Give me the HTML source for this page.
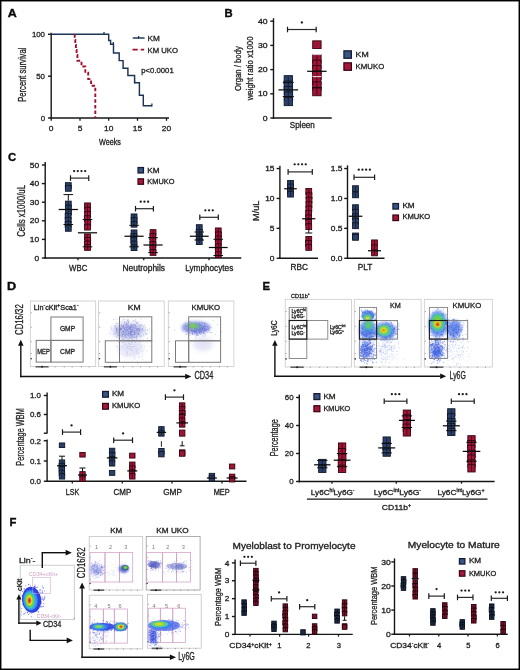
<!DOCTYPE html>
<html><head><meta charset="utf-8"><title>Figure</title>
<style>
html,body{margin:0;padding:0;background:#fff;}
svg{display:block;will-change:transform;}
text{font-family:"Liberation Sans", sans-serif;}
</style></head>
<body>
<svg width="520" height="670" viewBox="0 0 520 670" font-family='"Liberation Sans", sans-serif'>
<rect width="520" height="670" fill="#fff"/>
<defs><filter id="bl0_6" x="-60%" y="-60%" width="220%" height="220%"><feGaussianBlur stdDeviation="0.6"/></filter><filter id="bl0_8" x="-60%" y="-60%" width="220%" height="220%"><feGaussianBlur stdDeviation="0.8"/></filter><filter id="bl1_0" x="-60%" y="-60%" width="220%" height="220%"><feGaussianBlur stdDeviation="1.0"/></filter><filter id="bl1_5" x="-60%" y="-60%" width="220%" height="220%"><feGaussianBlur stdDeviation="1.5"/></filter><filter id="bl2_0" x="-60%" y="-60%" width="220%" height="220%"><feGaussianBlur stdDeviation="2.0"/></filter><filter id="bl2_5" x="-60%" y="-60%" width="220%" height="220%"><feGaussianBlur stdDeviation="2.5"/></filter></defs>
<rect x="0.6" y="0.6" width="518.8" height="668.8" fill="none" stroke="#000" stroke-width="1.7"/>
<text x="7.80" y="16.70" font-size="11.3" font-weight="bold" fill="#0a0a0a" stroke="#0a0a0a" stroke-width="0.35" textLength="9.0" lengthAdjust="spacingAndGlyphs">A</text>
<line x1="51.20" y1="32.80" x2="51.20" y2="118.70" stroke="#161616" stroke-width="1.4" />
<line x1="48.00" y1="34.30" x2="51.20" y2="34.30" stroke="#161616" stroke-width="1.4" />
<text x="45.00" y="37.18" font-size="8" text-anchor="end" fill="#222222" textLength="13.08" lengthAdjust="spacingAndGlyphs" stroke="#222222" stroke-width="0.3" >100</text>
<line x1="48.00" y1="76.20" x2="51.20" y2="76.20" stroke="#161616" stroke-width="1.4" />
<text x="45.00" y="79.08" font-size="8" text-anchor="end" fill="#222222" textLength="8.72" lengthAdjust="spacingAndGlyphs" stroke="#222222" stroke-width="0.3" >50</text>
<line x1="48.00" y1="118.00" x2="51.20" y2="118.00" stroke="#161616" stroke-width="1.4" />
<text x="45.00" y="120.88" font-size="8" text-anchor="end" fill="#222222" textLength="4.36" lengthAdjust="spacingAndGlyphs" stroke="#222222" stroke-width="0.3" >0</text>
<line x1="50.50" y1="118.00" x2="169.00" y2="118.00" stroke="#161616" stroke-width="1.4" />
<line x1="51.20" y1="118.00" x2="51.20" y2="120.80" stroke="#161616" stroke-width="1.26" />
<line x1="80.00" y1="118.00" x2="80.00" y2="120.80" stroke="#161616" stroke-width="1.26" />
<line x1="108.70" y1="118.00" x2="108.70" y2="120.80" stroke="#161616" stroke-width="1.26" />
<line x1="137.50" y1="118.00" x2="137.50" y2="120.80" stroke="#161616" stroke-width="1.26" />
<line x1="166.50" y1="118.00" x2="166.50" y2="120.80" stroke="#161616" stroke-width="1.26" />
<text x="51.20" y="131.20" font-size="8" text-anchor="middle" fill="#222222" textLength="4.67" lengthAdjust="spacingAndGlyphs" stroke="#222222" stroke-width="0.3" >0</text>
<text x="80.00" y="131.20" font-size="8" text-anchor="middle" fill="#222222" textLength="4.67" lengthAdjust="spacingAndGlyphs" stroke="#222222" stroke-width="0.3" >5</text>
<text x="108.70" y="131.20" font-size="8" text-anchor="middle" fill="#222222" textLength="9.34" lengthAdjust="spacingAndGlyphs" stroke="#222222" stroke-width="0.3" >10</text>
<text x="137.50" y="131.20" font-size="8" text-anchor="middle" fill="#222222" textLength="9.34" lengthAdjust="spacingAndGlyphs" stroke="#222222" stroke-width="0.3" >15</text>
<text x="166.50" y="131.20" font-size="8" text-anchor="middle" fill="#222222" textLength="9.34" lengthAdjust="spacingAndGlyphs" stroke="#222222" stroke-width="0.3" >20</text>
<text x="110.00" y="144.50" font-size="8.3" text-anchor="middle" fill="#222222" textLength="21.80" lengthAdjust="spacingAndGlyphs" stroke="#222222" stroke-width="0.3" >Weeks</text>
<text x="25.60" y="74.70" font-size="10.3" text-anchor="middle" fill="#222222" textLength="54.00" lengthAdjust="spacingAndGlyphs" transform="rotate(-90 25.60 74.70)" stroke="#222222" stroke-width="0.3" >Percent survival</text>
<polyline fill="none" stroke="#1d3456" stroke-width="1.45" points="51.2,34.3 108.7,34.3 108.7,40.4 110.6,40.4 110.6,44.2 113.5,44.2 113.5,52.9 119.2,52.9 119.2,60.6 123.1,60.6 123.1,68.3 127.9,68.3 127.9,75.4 134.6,75.4 134.6,82.7 139.4,82.7 139.4,95.2 143.3,95.2 143.3,105.8 151.9,105.8"/>
<line x1="104.00" y1="32.10" x2="104.00" y2="34.90" stroke="#1d3456" stroke-width="1.3" />
<line x1="113.30" y1="42.00" x2="113.30" y2="44.80" stroke="#1d3456" stroke-width="1.3" />
<line x1="134.60" y1="80.50" x2="134.60" y2="83.30" stroke="#1d3456" stroke-width="1.3" />
<line x1="151.90" y1="103.60" x2="151.90" y2="106.40" stroke="#1d3456" stroke-width="1.3" />
<path fill="none" stroke="#a0112f" stroke-width="1.9" stroke-dasharray="3.5,2.2" d="M74.7,34.3 V40 H75.3 V45 H75.9 V50 H76.6 V55 H77.4 V60.8 H81.5 V66.5 H85.3 V72.8 H88.2 V79.1 H91.1 V85.8 H95.3 V118"/>
<line x1="132.70" y1="38.00" x2="144.60" y2="38.00" stroke="#1d3456" stroke-width="1.45" />
<line x1="138.60" y1="36.00" x2="138.60" y2="38.60" stroke="#1d3456" stroke-width="1.3" />
<text x="147.50" y="40.90" font-size="7.8" text-anchor="start" fill="#222222" textLength="12.29" lengthAdjust="spacingAndGlyphs" stroke="#222222" stroke-width="0.3" >KM</text>
<line x1="132.50" y1="49.70" x2="144.20" y2="49.70" stroke="#a0112f" stroke-width="1.7" stroke-dasharray="5.2,3"/>
<text x="147.50" y="52.50" font-size="7.8" text-anchor="start" fill="#222222" textLength="30.40" lengthAdjust="spacingAndGlyphs" stroke="#222222" stroke-width="0.3" >KM UKO</text>
<text x="141.30" y="73.00" font-size="7.8" text-anchor="start" fill="#222222" textLength="32.40" lengthAdjust="spacingAndGlyphs" stroke="#222222" stroke-width="0.3" >p&lt;0.0001</text>
<text x="224.50" y="16.70" font-size="11.3" font-weight="bold" fill="#0a0a0a" stroke="#0a0a0a" stroke-width="0.35">B</text>
<line x1="273.50" y1="18.20" x2="273.50" y2="118.70" stroke="#161616" stroke-width="1.4" />
<line x1="270.30" y1="21.20" x2="273.50" y2="21.20" stroke="#161616" stroke-width="1.4" />
<text x="267.60" y="23.79" font-size="7.2" text-anchor="end" fill="#222222" textLength="9.61" lengthAdjust="spacingAndGlyphs" stroke="#222222" stroke-width="0.3" >40</text>
<line x1="270.30" y1="45.40" x2="273.50" y2="45.40" stroke="#161616" stroke-width="1.4" />
<text x="267.60" y="47.99" font-size="7.2" text-anchor="end" fill="#222222" textLength="9.61" lengthAdjust="spacingAndGlyphs" stroke="#222222" stroke-width="0.3" >30</text>
<line x1="270.30" y1="69.60" x2="273.50" y2="69.60" stroke="#161616" stroke-width="1.4" />
<text x="267.60" y="72.19" font-size="7.2" text-anchor="end" fill="#222222" textLength="9.61" lengthAdjust="spacingAndGlyphs" stroke="#222222" stroke-width="0.3" >20</text>
<line x1="270.30" y1="93.80" x2="273.50" y2="93.80" stroke="#161616" stroke-width="1.4" />
<text x="267.60" y="96.39" font-size="7.2" text-anchor="end" fill="#222222" textLength="9.61" lengthAdjust="spacingAndGlyphs" stroke="#222222" stroke-width="0.3" >10</text>
<line x1="270.30" y1="118.00" x2="273.50" y2="118.00" stroke="#161616" stroke-width="1.4" />
<text x="267.60" y="120.59" font-size="7.2" text-anchor="end" fill="#222222" textLength="4.80" lengthAdjust="spacingAndGlyphs" stroke="#222222" stroke-width="0.3" >0</text>
<line x1="272.80" y1="118.00" x2="331.70" y2="118.00" stroke="#161616" stroke-width="1.4" />
<text x="302.30" y="127.90" font-size="8.2" text-anchor="middle" fill="#222222" textLength="25.00" lengthAdjust="spacingAndGlyphs" stroke="#222222" stroke-width="0.3" >Spleen</text>
<text x="241.20" y="68.55" font-size="9.9" text-anchor="middle" fill="#222222" textLength="44.70" lengthAdjust="spacingAndGlyphs" transform="rotate(-90 241.20 68.55)" stroke="#222222" stroke-width="0.3" >Organ / body</text>
<text x="252.70" y="68.35" font-size="9.9" text-anchor="middle" fill="#222222" textLength="64.00" lengthAdjust="spacingAndGlyphs" transform="rotate(-90 252.70 68.35)" stroke="#222222" stroke-width="0.3" >weight ratio x1000</text>
<line x1="287.50" y1="29.50" x2="316.20" y2="29.50" stroke="#2a2a2a" stroke-width="1.2" />
<line x1="287.50" y1="26.70" x2="287.50" y2="32.30" stroke="#1a1a1a" stroke-width="1.2" />
<line x1="316.20" y1="26.70" x2="316.20" y2="32.30" stroke="#1a1a1a" stroke-width="1.2" />
<circle cx="301.85" cy="22.50" r="1.15" fill="#1a1a1a"/>
<g fill="#2b4169" stroke="#0f1729" stroke-width="0.9"><rect x="284.15" y="75.65" width="8.30" height="8.30"/><rect x="284.13" y="81.08" width="8.30" height="8.30"/><rect x="284.18" y="86.50" width="8.30" height="8.30"/><rect x="284.36" y="91.92" width="8.30" height="8.30"/><rect x="284.15" y="97.35" width="8.30" height="8.30"/><line x1="288.30" y1="76.40" x2="288.30" y2="104.90" stroke-width="0.9" stroke-opacity="0.8"/></g>
<line x1="278.50" y1="89.90" x2="298.10" y2="89.90" stroke="#0d0d0d" stroke-width="1.25" />
<line x1="282.80" y1="82.40" x2="293.80" y2="82.40" stroke="#0d0d0d" stroke-width="1.0" />
<line x1="282.80" y1="96.50" x2="293.80" y2="96.50" stroke="#0d0d0d" stroke-width="1.0" />
<g fill="#a01436" stroke="#34040f" stroke-width="0.9"><rect x="312.70" y="40.85" width="8.40" height="7.70"/></g>
<g fill="#a01436" stroke="#34040f" stroke-width="0.9"><rect x="312.70" y="54.65" width="8.40" height="8.40"/><rect x="312.68" y="60.10" width="8.40" height="8.40"/><rect x="312.70" y="65.55" width="8.40" height="8.40"/><rect x="312.74" y="71.00" width="8.40" height="8.40"/><rect x="312.54" y="76.45" width="8.40" height="8.40"/><rect x="312.71" y="81.90" width="8.40" height="8.40"/><rect x="312.70" y="87.35" width="8.40" height="8.40"/><line x1="316.90" y1="55.40" x2="316.90" y2="95.00" stroke-width="0.9" stroke-opacity="0.8"/></g>
<line x1="307.20" y1="71.30" x2="326.60" y2="71.30" stroke="#0d0d0d" stroke-width="1.25" />
<line x1="311.90" y1="87.90" x2="321.90" y2="87.90" stroke="#0d0d0d" stroke-width="1.0" />
<line x1="312.50" y1="54.60" x2="321.30" y2="54.60" stroke="#e6d6da" stroke-width="1.0" />
<line x1="312.50" y1="76.60" x2="321.30" y2="76.60" stroke="#efe4e6" stroke-width="1.0" />
<rect x="343.93" y="50.83" width="7.45" height="7.45" fill="#3a5485" stroke="#141c34" stroke-width="1.25" />
<text x="355.60" y="57.36" font-size="7.8" text-anchor="start" fill="#222222" textLength="13.10" lengthAdjust="spacingAndGlyphs" stroke="#222222" stroke-width="0.3" >KM</text>
<rect x="343.93" y="62.83" width="7.45" height="7.45" fill="#a8163c" stroke="#3a0512" stroke-width="1.25" />
<text x="355.60" y="69.36" font-size="7.8" text-anchor="start" fill="#222222" textLength="28.60" lengthAdjust="spacingAndGlyphs" stroke="#222222" stroke-width="0.3" >KMUKO</text>
<text x="7.90" y="161.10" font-size="11.3" font-weight="bold" fill="#0a0a0a" stroke="#0a0a0a" stroke-width="0.35">C</text>
<line x1="45.20" y1="162.00" x2="45.20" y2="258.70" stroke="#161616" stroke-width="1.4" />
<line x1="41.90" y1="165.00" x2="45.20" y2="165.00" stroke="#161616" stroke-width="1.4" />
<text x="39.20" y="167.52" font-size="7" text-anchor="end" fill="#222222" textLength="9.34" lengthAdjust="spacingAndGlyphs" stroke="#222222" stroke-width="0.3" >50</text>
<line x1="41.90" y1="183.60" x2="45.20" y2="183.60" stroke="#161616" stroke-width="1.4" />
<text x="39.20" y="186.12" font-size="7" text-anchor="end" fill="#222222" textLength="9.34" lengthAdjust="spacingAndGlyphs" stroke="#222222" stroke-width="0.3" >40</text>
<line x1="41.90" y1="202.20" x2="45.20" y2="202.20" stroke="#161616" stroke-width="1.4" />
<text x="39.20" y="204.72" font-size="7" text-anchor="end" fill="#222222" textLength="9.34" lengthAdjust="spacingAndGlyphs" stroke="#222222" stroke-width="0.3" >30</text>
<line x1="41.90" y1="220.80" x2="45.20" y2="220.80" stroke="#161616" stroke-width="1.4" />
<text x="39.20" y="223.32" font-size="7" text-anchor="end" fill="#222222" textLength="9.34" lengthAdjust="spacingAndGlyphs" stroke="#222222" stroke-width="0.3" >20</text>
<line x1="41.90" y1="239.40" x2="45.20" y2="239.40" stroke="#161616" stroke-width="1.4" />
<text x="39.20" y="241.92" font-size="7" text-anchor="end" fill="#222222" textLength="9.34" lengthAdjust="spacingAndGlyphs" stroke="#222222" stroke-width="0.3" >10</text>
<line x1="41.90" y1="258.00" x2="45.20" y2="258.00" stroke="#161616" stroke-width="1.4" />
<text x="39.20" y="260.52" font-size="7" text-anchor="end" fill="#222222" textLength="4.67" lengthAdjust="spacingAndGlyphs" stroke="#222222" stroke-width="0.3" >0</text>
<line x1="44.50" y1="258.00" x2="241.30" y2="258.00" stroke="#161616" stroke-width="1.4" />
<line x1="78.00" y1="258.00" x2="78.00" y2="260.20" stroke="#161616" stroke-width="1.26" />
<line x1="143.75" y1="258.00" x2="143.75" y2="260.20" stroke="#161616" stroke-width="1.26" />
<line x1="209.00" y1="258.00" x2="209.00" y2="260.20" stroke="#161616" stroke-width="1.26" />
<text x="78.20" y="271.30" font-size="8.5" text-anchor="middle" fill="#222222" textLength="18.20" lengthAdjust="spacingAndGlyphs" stroke="#222222" stroke-width="0.3" >WBC</text>
<text x="143.75" y="271.30" font-size="8.5" text-anchor="middle" fill="#222222" textLength="42.50" lengthAdjust="spacingAndGlyphs" stroke="#222222" stroke-width="0.3" >Neutrophils</text>
<text x="209.25" y="271.30" font-size="8.5" text-anchor="middle" fill="#222222" textLength="48.00" lengthAdjust="spacingAndGlyphs" stroke="#222222" stroke-width="0.3" >Lymphocytes</text>
<text x="24.70" y="210.85" font-size="10.6" text-anchor="middle" fill="#222222" textLength="51.90" lengthAdjust="spacingAndGlyphs" transform="rotate(-90 24.70 210.85)" stroke="#222222" stroke-width="0.3" >Cells x1000/uL</text>
<g fill="#2b4169" stroke="#0f1729" stroke-width="0.9"><rect x="65.40" y="182.65" width="5.80" height="5.80"/><rect x="65.40" y="185.45" width="5.80" height="5.80"/></g>
<g fill="#2b4169" stroke="#0f1729" stroke-width="0.9"><rect x="65.40" y="201.15" width="5.80" height="5.80"/><rect x="65.46" y="205.20" width="5.80" height="5.80"/><rect x="65.55" y="209.25" width="5.80" height="5.80"/><rect x="65.20" y="213.30" width="5.80" height="5.80"/><rect x="65.30" y="217.35" width="5.80" height="5.80"/><rect x="65.20" y="221.40" width="5.80" height="5.80"/><rect x="65.40" y="225.45" width="5.80" height="5.80"/><line x1="68.30" y1="201.90" x2="68.30" y2="230.50" stroke-width="0.9" stroke-opacity="0.8"/></g>
<line x1="58.70" y1="209.50" x2="77.90" y2="209.50" stroke="#0d0d0d" stroke-width="1.25" />
<line x1="63.50" y1="194.60" x2="73.10" y2="194.60" stroke="#0d0d0d" stroke-width="1.0" />
<line x1="68.30" y1="194.60" x2="68.30" y2="200.70" stroke="#0d0d0d" stroke-width="1.0" />
<line x1="63.50" y1="224.50" x2="73.10" y2="224.50" stroke="#0d0d0d" stroke-width="1.0" />
<g fill="#a01436" stroke="#34040f" stroke-width="0.9"><rect x="84.60" y="202.95" width="5.80" height="5.80"/><rect x="84.75" y="207.21" width="5.80" height="5.80"/><rect x="84.70" y="211.47" width="5.80" height="5.80"/><rect x="84.37" y="215.73" width="5.80" height="5.80"/><rect x="84.84" y="219.99" width="5.80" height="5.80"/><rect x="84.60" y="224.25" width="5.80" height="5.80"/><line x1="87.50" y1="203.70" x2="87.50" y2="229.30" stroke-width="0.9" stroke-opacity="0.8"/></g>
<g fill="#a01436" stroke="#34040f" stroke-width="0.9"><rect x="84.60" y="233.95" width="5.80" height="5.80"/><rect x="84.83" y="237.48" width="5.80" height="5.80"/><rect x="84.68" y="241.02" width="5.80" height="5.80"/><rect x="84.60" y="244.55" width="5.80" height="5.80"/><line x1="87.50" y1="234.70" x2="87.50" y2="249.60" stroke-width="0.9" stroke-opacity="0.8"/></g>
<line x1="77.90" y1="232.80" x2="97.10" y2="232.80" stroke="#0d0d0d" stroke-width="1.25" />
<line x1="82.70" y1="219.50" x2="92.30" y2="219.50" stroke="#0d0d0d" stroke-width="1.0" />
<line x1="82.70" y1="246.80" x2="92.30" y2="246.80" stroke="#0d0d0d" stroke-width="1.0" />
<line x1="70.50" y1="178.10" x2="88.75" y2="178.10" stroke="#2a2a2a" stroke-width="1.2" />
<line x1="70.50" y1="175.30" x2="70.50" y2="180.90" stroke="#1a1a1a" stroke-width="1.2" />
<line x1="88.75" y1="175.30" x2="88.75" y2="180.90" stroke="#1a1a1a" stroke-width="1.2" />
<circle cx="74.08" cy="171.10" r="1.15" fill="#1a1a1a"/>
<circle cx="77.78" cy="171.10" r="1.15" fill="#1a1a1a"/>
<circle cx="81.47" cy="171.10" r="1.15" fill="#1a1a1a"/>
<circle cx="85.17" cy="171.10" r="1.15" fill="#1a1a1a"/>
<g fill="#2b4169" stroke="#0f1729" stroke-width="0.9"><rect x="131.15" y="213.95" width="5.80" height="5.80"/><rect x="131.21" y="217.65" width="5.80" height="5.80"/><rect x="131.15" y="221.35" width="5.80" height="5.80"/><line x1="134.05" y1="214.70" x2="134.05" y2="226.40" stroke-width="0.9" stroke-opacity="0.8"/></g>
<g fill="#2b4169" stroke="#0f1729" stroke-width="0.9"><rect x="131.15" y="229.95" width="5.80" height="5.80"/><rect x="130.98" y="233.65" width="5.80" height="5.80"/><rect x="130.91" y="237.35" width="5.80" height="5.80"/><rect x="131.16" y="241.05" width="5.80" height="5.80"/><rect x="131.15" y="244.75" width="5.80" height="5.80"/><line x1="134.05" y1="230.70" x2="134.05" y2="249.80" stroke-width="0.9" stroke-opacity="0.8"/></g>
<line x1="124.45" y1="236.25" x2="143.65" y2="236.25" stroke="#0d0d0d" stroke-width="1.25" />
<line x1="129.25" y1="225.30" x2="138.85" y2="225.30" stroke="#0d0d0d" stroke-width="1.0" />
<line x1="129.25" y1="246.80" x2="138.85" y2="246.80" stroke="#0d0d0d" stroke-width="1.0" />
<g fill="#a01436" stroke="#34040f" stroke-width="0.9"><rect x="150.15" y="229.65" width="5.80" height="5.80"/><rect x="149.93" y="233.63" width="5.80" height="5.80"/><rect x="150.00" y="237.61" width="5.80" height="5.80"/><rect x="150.02" y="241.59" width="5.80" height="5.80"/><rect x="149.92" y="245.57" width="5.80" height="5.80"/><rect x="150.15" y="249.55" width="5.80" height="5.80"/><line x1="153.05" y1="230.40" x2="153.05" y2="254.60" stroke-width="0.9" stroke-opacity="0.8"/></g>
<line x1="143.45" y1="245.00" x2="162.65" y2="245.00" stroke="#0d0d0d" stroke-width="1.25" />
<line x1="148.25" y1="237.60" x2="157.85" y2="237.60" stroke="#0d0d0d" stroke-width="1.0" />
<line x1="148.25" y1="252.60" x2="157.85" y2="252.60" stroke="#0d0d0d" stroke-width="1.0" />
<line x1="135.50" y1="208.70" x2="153.40" y2="208.70" stroke="#2a2a2a" stroke-width="1.2" />
<line x1="135.50" y1="205.90" x2="135.50" y2="211.50" stroke="#1a1a1a" stroke-width="1.2" />
<line x1="153.40" y1="205.90" x2="153.40" y2="211.50" stroke="#1a1a1a" stroke-width="1.2" />
<circle cx="140.75" cy="201.70" r="1.15" fill="#1a1a1a"/>
<circle cx="144.45" cy="201.70" r="1.15" fill="#1a1a1a"/>
<circle cx="148.15" cy="201.70" r="1.15" fill="#1a1a1a"/>
<g fill="#2b4169" stroke="#0f1729" stroke-width="0.9"><rect x="196.35" y="224.70" width="5.80" height="5.80"/><rect x="196.33" y="229.38" width="5.80" height="5.80"/><rect x="196.32" y="234.07" width="5.80" height="5.80"/><rect x="196.35" y="238.75" width="5.80" height="5.80"/><line x1="199.25" y1="225.45" x2="199.25" y2="243.80" stroke-width="0.9" stroke-opacity="0.8"/></g>
<line x1="189.85" y1="236.25" x2="208.65" y2="236.25" stroke="#0d0d0d" stroke-width="1.25" />
<line x1="194.45" y1="232.00" x2="204.05" y2="232.00" stroke="#0d0d0d" stroke-width="1.0" />
<line x1="194.45" y1="240.00" x2="204.05" y2="240.00" stroke="#0d0d0d" stroke-width="1.0" />
<g fill="#a01436" stroke="#34040f" stroke-width="0.9"><rect x="215.35" y="227.95" width="5.80" height="5.80"/><rect x="215.52" y="231.92" width="5.80" height="5.80"/><rect x="215.36" y="235.88" width="5.80" height="5.80"/><rect x="215.42" y="239.85" width="5.80" height="5.80"/><rect x="215.35" y="243.82" width="5.80" height="5.80"/><rect x="215.43" y="247.78" width="5.80" height="5.80"/><rect x="215.35" y="251.75" width="5.80" height="5.80"/><line x1="218.25" y1="228.70" x2="218.25" y2="256.80" stroke-width="0.9" stroke-opacity="0.8"/></g>
<line x1="208.85" y1="247.50" x2="227.65" y2="247.50" stroke="#0d0d0d" stroke-width="1.25" />
<line x1="213.45" y1="239.25" x2="223.05" y2="239.25" stroke="#0d0d0d" stroke-width="1.0" />
<line x1="213.45" y1="255.50" x2="223.05" y2="255.50" stroke="#0d0d0d" stroke-width="1.0" />
<line x1="199.80" y1="217.30" x2="218.30" y2="217.30" stroke="#2a2a2a" stroke-width="1.2" />
<line x1="199.80" y1="214.50" x2="199.80" y2="220.10" stroke="#1a1a1a" stroke-width="1.2" />
<line x1="218.30" y1="214.50" x2="218.30" y2="220.10" stroke="#1a1a1a" stroke-width="1.2" />
<circle cx="205.35" cy="210.30" r="1.15" fill="#1a1a1a"/>
<circle cx="209.05" cy="210.30" r="1.15" fill="#1a1a1a"/>
<circle cx="212.75" cy="210.30" r="1.15" fill="#1a1a1a"/>
<rect x="138.03" y="167.53" width="5.45" height="5.45" fill="#3a5485" stroke="#141c34" stroke-width="1.25" />
<text x="147.30" y="172.60" font-size="7.1" text-anchor="start" fill="#222222" textLength="12.25" lengthAdjust="spacingAndGlyphs" stroke="#222222" stroke-width="0.3" >KM</text>
<rect x="138.03" y="178.82" width="5.45" height="5.45" fill="#a8163c" stroke="#3a0512" stroke-width="1.25" />
<text x="147.30" y="183.70" font-size="7.1" text-anchor="start" fill="#222222" textLength="27.10" lengthAdjust="spacingAndGlyphs" stroke="#222222" stroke-width="0.3" >KMUKO</text>
<line x1="279.90" y1="165.70" x2="279.90" y2="258.95" stroke="#161616" stroke-width="1.4" />
<line x1="276.60" y1="168.55" x2="279.90" y2="168.55" stroke="#161616" stroke-width="1.4" />
<text x="274.50" y="171.07" font-size="7" text-anchor="end" fill="#222222" textLength="9.34" lengthAdjust="spacingAndGlyphs" stroke="#222222" stroke-width="0.3" >15</text>
<line x1="276.60" y1="198.45" x2="279.90" y2="198.45" stroke="#161616" stroke-width="1.4" />
<text x="274.50" y="200.97" font-size="7" text-anchor="end" fill="#222222" textLength="9.34" lengthAdjust="spacingAndGlyphs" stroke="#222222" stroke-width="0.3" >10</text>
<line x1="276.60" y1="228.35" x2="279.90" y2="228.35" stroke="#161616" stroke-width="1.4" />
<text x="274.50" y="230.87" font-size="7" text-anchor="end" fill="#222222" textLength="4.67" lengthAdjust="spacingAndGlyphs" stroke="#222222" stroke-width="0.3" >5</text>
<line x1="276.60" y1="258.25" x2="279.90" y2="258.25" stroke="#161616" stroke-width="1.4" />
<text x="274.50" y="260.77" font-size="7" text-anchor="end" fill="#222222" textLength="4.67" lengthAdjust="spacingAndGlyphs" stroke="#222222" stroke-width="0.3" >0</text>
<line x1="279.20" y1="258.25" x2="318.00" y2="258.25" stroke="#161616" stroke-width="1.4" />
<text x="299.25" y="269.80" font-size="8.3" text-anchor="middle" fill="#222222" textLength="17.52" lengthAdjust="spacingAndGlyphs" stroke="#222222" stroke-width="0.3" >RBC</text>
<text x="259.20" y="210.75" font-size="9.6" text-anchor="middle" fill="#222222" textLength="20.30" lengthAdjust="spacingAndGlyphs" transform="rotate(-90 259.20 210.75)" stroke="#222222" stroke-width="0.3" >M/uL</text>
<g fill="#2b4169" stroke="#0f1729" stroke-width="0.9"><rect x="287.60" y="180.45" width="5.80" height="5.80"/><rect x="287.58" y="184.05" width="5.80" height="5.80"/><rect x="287.49" y="187.65" width="5.80" height="5.80"/><rect x="287.60" y="191.25" width="5.80" height="5.80"/><line x1="290.50" y1="181.20" x2="290.50" y2="196.30" stroke-width="0.9" stroke-opacity="0.8"/></g>
<line x1="284.20" y1="188.75" x2="296.80" y2="188.75" stroke="#0d0d0d" stroke-width="1.25" />
<g fill="#a01436" stroke="#34040f" stroke-width="0.9"><rect x="305.85" y="188.45" width="5.80" height="5.80"/><rect x="306.10" y="192.86" width="5.80" height="5.80"/><rect x="306.10" y="197.27" width="5.80" height="5.80"/><rect x="306.02" y="201.69" width="5.80" height="5.80"/><rect x="305.95" y="206.10" width="5.80" height="5.80"/><rect x="305.76" y="210.51" width="5.80" height="5.80"/><rect x="305.71" y="214.92" width="5.80" height="5.80"/><rect x="305.74" y="219.34" width="5.80" height="5.80"/><rect x="305.85" y="223.75" width="5.80" height="5.80"/><line x1="308.75" y1="189.20" x2="308.75" y2="228.80" stroke-width="0.9" stroke-opacity="0.8"/></g>
<g fill="#a01436" stroke="#34040f" stroke-width="0.9"><rect x="305.85" y="236.45" width="5.80" height="5.80"/><rect x="305.64" y="240.47" width="5.80" height="5.80"/><rect x="305.85" y="244.50" width="5.80" height="5.80"/><line x1="308.75" y1="237.20" x2="308.75" y2="249.55" stroke-width="0.9" stroke-opacity="0.8"/></g>
<line x1="302.15" y1="218.75" x2="315.35" y2="218.75" stroke="#0d0d0d" stroke-width="1.25" />
<line x1="305.25" y1="233.00" x2="312.25" y2="233.00" stroke="#0d0d0d" stroke-width="1.0" />
<line x1="308.75" y1="233.00" x2="308.75" y2="229.00" stroke="#0d0d0d" stroke-width="1.0" />
<line x1="288.10" y1="171.90" x2="312.30" y2="171.90" stroke="#2a2a2a" stroke-width="1.2" />
<line x1="288.10" y1="169.10" x2="288.10" y2="174.70" stroke="#1a1a1a" stroke-width="1.2" />
<line x1="312.30" y1="169.10" x2="312.30" y2="174.70" stroke="#1a1a1a" stroke-width="1.2" />
<circle cx="294.65" cy="164.30" r="1.15" fill="#1a1a1a"/>
<circle cx="298.35" cy="164.30" r="1.15" fill="#1a1a1a"/>
<circle cx="302.05" cy="164.30" r="1.15" fill="#1a1a1a"/>
<circle cx="305.75" cy="164.30" r="1.15" fill="#1a1a1a"/>
<line x1="347.50" y1="165.35" x2="347.50" y2="258.95" stroke="#161616" stroke-width="1.4" />
<line x1="344.20" y1="168.55" x2="347.50" y2="168.55" stroke="#161616" stroke-width="1.4" />
<text x="342.40" y="171.07" font-size="7" text-anchor="end" fill="#222222" textLength="11.68" lengthAdjust="spacingAndGlyphs" stroke="#222222" stroke-width="0.3" >1.5</text>
<line x1="344.20" y1="198.45" x2="347.50" y2="198.45" stroke="#161616" stroke-width="1.4" />
<text x="342.40" y="200.97" font-size="7" text-anchor="end" fill="#222222" textLength="11.68" lengthAdjust="spacingAndGlyphs" stroke="#222222" stroke-width="0.3" >1.0</text>
<line x1="344.20" y1="228.35" x2="347.50" y2="228.35" stroke="#161616" stroke-width="1.4" />
<text x="342.40" y="230.87" font-size="7" text-anchor="end" fill="#222222" textLength="11.68" lengthAdjust="spacingAndGlyphs" stroke="#222222" stroke-width="0.3" >0.5</text>
<line x1="344.20" y1="258.25" x2="347.50" y2="258.25" stroke="#161616" stroke-width="1.4" />
<text x="342.40" y="260.77" font-size="7" text-anchor="end" fill="#222222" textLength="11.68" lengthAdjust="spacingAndGlyphs" stroke="#222222" stroke-width="0.3" >0.0</text>
<line x1="346.80" y1="258.25" x2="384.50" y2="258.25" stroke="#161616" stroke-width="1.4" />
<text x="365.00" y="269.80" font-size="8.3" text-anchor="middle" fill="#222222" textLength="14.61" lengthAdjust="spacingAndGlyphs" stroke="#222222" stroke-width="0.3" >PLT</text>
<g fill="#2b4169" stroke="#0f1729" stroke-width="0.9"><rect x="352.60" y="185.75" width="5.80" height="5.80"/><rect x="352.60" y="191.95" width="5.80" height="5.80"/><line x1="355.50" y1="186.50" x2="355.50" y2="197.00" stroke-width="0.9" stroke-opacity="0.8"/></g>
<g fill="#2b4169" stroke="#0f1729" stroke-width="0.9"><rect x="352.60" y="204.75" width="5.80" height="5.80"/><rect x="352.73" y="209.28" width="5.80" height="5.80"/><rect x="352.55" y="213.80" width="5.80" height="5.80"/><rect x="352.77" y="218.32" width="5.80" height="5.80"/><rect x="352.60" y="222.85" width="5.80" height="5.80"/><line x1="355.50" y1="205.50" x2="355.50" y2="227.90" stroke-width="0.9" stroke-opacity="0.8"/></g>
<g fill="#2b4169" stroke="#0f1729" stroke-width="0.9"><rect x="352.60" y="233.05" width="5.80" height="5.80"/><rect x="352.60" y="234.45" width="5.80" height="5.80"/></g>
<line x1="348.60" y1="216.25" x2="362.40" y2="216.25" stroke="#0d0d0d" stroke-width="1.25" />
<g fill="#a01436" stroke="#34040f" stroke-width="0.9"><rect x="371.60" y="239.95" width="5.80" height="5.80"/><rect x="371.54" y="244.97" width="5.80" height="5.80"/><rect x="371.60" y="250.00" width="5.80" height="5.80"/><line x1="374.50" y1="240.70" x2="374.50" y2="255.05" stroke-width="0.9" stroke-opacity="0.8"/></g>
<line x1="368.00" y1="250.75" x2="381.00" y2="250.75" stroke="#0d0d0d" stroke-width="1.25" />
<line x1="354.00" y1="177.30" x2="374.60" y2="177.30" stroke="#2a2a2a" stroke-width="1.2" />
<line x1="354.00" y1="174.50" x2="354.00" y2="180.10" stroke="#1a1a1a" stroke-width="1.2" />
<line x1="374.60" y1="174.50" x2="374.60" y2="180.10" stroke="#1a1a1a" stroke-width="1.2" />
<circle cx="358.75" cy="169.70" r="1.15" fill="#1a1a1a"/>
<circle cx="362.45" cy="169.70" r="1.15" fill="#1a1a1a"/>
<circle cx="366.15" cy="169.70" r="1.15" fill="#1a1a1a"/>
<circle cx="369.85" cy="169.70" r="1.15" fill="#1a1a1a"/>
<rect x="392.93" y="203.53" width="5.55" height="5.55" fill="#3a5485" stroke="#141c34" stroke-width="1.25" />
<text x="402.40" y="208.40" font-size="7.1" text-anchor="start" fill="#222222" textLength="12.25" lengthAdjust="spacingAndGlyphs" stroke="#222222" stroke-width="0.3" >KM</text>
<rect x="392.93" y="215.03" width="5.55" height="5.55" fill="#a8163c" stroke="#3a0512" stroke-width="1.25" />
<text x="402.40" y="219.40" font-size="7.1" text-anchor="start" fill="#222222" textLength="27.90" lengthAdjust="spacingAndGlyphs" stroke="#222222" stroke-width="0.3" >KMUKO</text>
<text x="7.00" y="290.10" font-size="11.3" font-weight="bold" fill="#0a0a0a" stroke="#0a0a0a" stroke-width="0.35" textLength="9.2" lengthAdjust="spacingAndGlyphs">D</text>
<rect x="30.30" y="301.00" width="65.40" height="65.60" fill="#fff" stroke="#c9c9c9" stroke-width="0.8" />
<line x1="30.70" y1="312.81" x2="31.90" y2="312.81" stroke="#888" stroke-width="0.7" />
<line x1="30.70" y1="327.24" x2="31.90" y2="327.24" stroke="#888" stroke-width="0.7" />
<line x1="30.70" y1="341.67" x2="31.90" y2="341.67" stroke="#888" stroke-width="0.7" />
<line x1="30.70" y1="353.48" x2="31.90" y2="353.48" stroke="#888" stroke-width="0.7" />
<circle cx="31.20" cy="358.73" r="0.8" fill="#333"/>
<rect x="35.53" y="366.00" width="13.08" height="1.6" fill="#444" opacity="0.8"/>
<circle cx="42.07" cy="366.80" r="1" fill="#222"/>
<line x1="55.15" y1="366.40" x2="55.15" y2="367.60" stroke="#888" stroke-width="0.7" />
<line x1="64.31" y1="366.40" x2="64.31" y2="367.60" stroke="#888" stroke-width="0.7" />
<line x1="72.16" y1="366.40" x2="72.16" y2="367.60" stroke="#888" stroke-width="0.7" />
<line x1="81.31" y1="366.40" x2="81.31" y2="367.60" stroke="#888" stroke-width="0.7" />
<line x1="89.16" y1="366.40" x2="89.16" y2="367.60" stroke="#888" stroke-width="0.7" />
<text x="33.80" y="310.20" font-size="7" text-anchor="start" fill="#222222" textLength="44.80" lengthAdjust="spacingAndGlyphs" stroke="#222222" stroke-width="0.3" >Lin<tspan font-size="4.8" dy="-3.2">-</tspan><tspan dy="3.2">cKit</tspan><tspan font-size="4.8" dy="-3.2">+</tspan><tspan dy="3.2">Sca1</tspan><tspan font-size="4.8" dy="-3.2">-</tspan></text>
<rect x="50.90" y="317.00" width="32.20" height="23.40" fill="none" stroke="#7a7a7a" stroke-width="1.0" />
<rect x="50.90" y="340.40" width="32.20" height="21.70" fill="none" stroke="#7a7a7a" stroke-width="1.0" />
<rect x="36.20" y="340.40" width="14.70" height="21.70" fill="none" stroke="#7a7a7a" stroke-width="1.0" />
<text x="67.50" y="331.30" font-size="7.5" text-anchor="middle" fill="#222222" textLength="15.20" lengthAdjust="spacingAndGlyphs" stroke="#222222" stroke-width="0.3" >GMP</text>
<text x="67.60" y="353.60" font-size="7.5" text-anchor="middle" fill="#222222" textLength="15.00" lengthAdjust="spacingAndGlyphs" stroke="#222222" stroke-width="0.3" >CMP</text>
<text x="43.50" y="353.60" font-size="7.5" text-anchor="middle" fill="#222222" textLength="12.60" lengthAdjust="spacingAndGlyphs" stroke="#222222" stroke-width="0.3" >MEP</text>
<rect x="98.60" y="301.00" width="65.60" height="65.60" fill="#fff" stroke="#c9c9c9" stroke-width="0.8" />
<line x1="99.00" y1="312.81" x2="100.20" y2="312.81" stroke="#888" stroke-width="0.7" />
<line x1="99.00" y1="327.24" x2="100.20" y2="327.24" stroke="#888" stroke-width="0.7" />
<line x1="99.00" y1="341.67" x2="100.20" y2="341.67" stroke="#888" stroke-width="0.7" />
<line x1="99.00" y1="353.48" x2="100.20" y2="353.48" stroke="#888" stroke-width="0.7" />
<circle cx="99.50" cy="358.73" r="0.8" fill="#333"/>
<rect x="103.85" y="366.00" width="13.12" height="1.6" fill="#444" opacity="0.8"/>
<circle cx="110.41" cy="366.80" r="1" fill="#222"/>
<line x1="123.53" y1="366.40" x2="123.53" y2="367.60" stroke="#888" stroke-width="0.7" />
<line x1="132.71" y1="366.40" x2="132.71" y2="367.60" stroke="#888" stroke-width="0.7" />
<line x1="140.58" y1="366.40" x2="140.58" y2="367.60" stroke="#888" stroke-width="0.7" />
<line x1="149.77" y1="366.40" x2="149.77" y2="367.60" stroke="#888" stroke-width="0.7" />
<line x1="157.64" y1="366.40" x2="157.64" y2="367.60" stroke="#888" stroke-width="0.7" />
<text x="134.20" y="309.70" font-size="7.8" text-anchor="middle" fill="#222222" textLength="12.87" lengthAdjust="spacingAndGlyphs" stroke="#222222" stroke-width="0.3" >KM</text>
<ellipse cx="128.5" cy="331" rx="16" ry="8" fill="#a9aee2" opacity="0.7" filter="url(#bl2_5)"/>
<ellipse cx="131" cy="348" rx="13" ry="9" fill="#d0d3f0" opacity="0.55" filter="url(#bl2_5)"/>
<path d="M142.5 328.2h0.9M133.6 330.5h0.9M135.6 327.7h0.9M136.0 329.9h0.9M138.0 333.4h0.9M129.6 326.9h0.9M134.3 332.7h0.9M140.8 328.8h0.9M132.7 332.8h0.9M130.6 331.5h0.9M129.9 327.7h0.9M120.9 328.7h0.9M132.9 337.5h0.9M135.8 335.3h0.9M134.3 333.7h0.9M129.9 334.0h0.9M141.8 329.0h0.9M123.3 339.5h0.9M130.3 335.0h0.9M135.1 325.3h0.9M146.8 338.7h0.9M129.8 334.0h0.9M129.5 326.4h0.9M127.7 332.2h0.9M136.9 333.8h0.9M128.9 336.7h0.9M122.8 334.1h0.9M136.8 329.2h0.9M115.1 326.3h0.9M130.3 332.9h0.9M140.1 325.9h0.9M128.5 333.5h0.9M127.3 319.6h0.9M134.5 341.1h0.9M136.0 326.3h0.9M125.4 331.5h0.9M147.2 333.3h0.9M129.4 337.7h0.9M127.9 339.1h0.9M123.4 328.3h0.9M133.9 337.1h0.9M133.4 331.9h0.9M114.8 327.2h0.9M123.9 328.0h0.9M132.9 329.0h0.9M134.4 330.9h0.9M126.0 331.0h0.9M131.7 334.4h0.9M124.9 329.4h0.9M118.3 337.9h0.9M139.4 329.7h0.9M124.9 324.8h0.9M129.8 331.4h0.9M144.9 331.6h0.9M122.7 319.3h0.9M139.1 331.4h0.9M116.4 331.3h0.9M116.4 346.5h0.9M136.9 333.1h0.9M127.2 320.7h0.9M127.6 323.3h0.9M133.0 320.7h0.9M121.7 336.1h0.9M140.8 325.1h0.9M117.0 334.5h0.9M134.9 326.0h0.9M123.3 327.3h0.9M119.6 327.4h0.9M137.9 333.7h0.9M143.9 330.1h0.9M127.5 326.0h0.9M127.6 324.5h0.9M115.2 333.7h0.9M139.3 334.3h0.9M138.5 331.7h0.9M123.1 330.9h0.9M125.7 325.4h0.9M115.8 323.7h0.9M128.5 331.2h0.9M124.9 337.1h0.9M129.8 333.2h0.9M137.6 326.7h0.9M113.7 334.0h0.9M123.3 336.5h0.9M131.0 335.1h0.9M134.2 320.9h0.9M133.9 327.4h0.9M122.8 328.5h0.9M134.3 334.6h0.9M136.1 322.9h0.9M124.1 319.6h0.9M127.7 333.3h0.9M122.8 331.6h0.9M130.2 335.1h0.9M122.3 326.7h0.9M122.8 338.6h0.9M136.7 329.9h0.9M130.2 331.0h0.9M130.0 329.5h0.9M126.0 324.7h0.9M123.7 338.1h0.9M132.5 330.8h0.9M126.9 330.8h0.9M131.2 327.5h0.9M130.0 331.6h0.9M122.9 326.9h0.9M121.0 325.6h0.9M135.2 319.6h0.9M126.5 327.7h0.9M123.9 330.9h0.9M137.0 330.9h0.9M127.4 327.7h0.9M127.5 334.7h0.9M125.5 325.2h0.9M119.0 325.4h0.9M118.1 335.6h0.9M131.2 329.4h0.9M139.4 327.5h0.9M134.1 334.2h0.9M116.9 323.3h0.9M121.5 334.7h0.9M138.2 324.9h0.9M136.4 328.7h0.9M125.5 328.0h0.9M126.1 322.1h0.9M121.0 324.8h0.9M132.2 340.1h0.9M149.0 329.0h0.9M115.6 328.6h0.9M121.5 339.6h0.9M132.8 327.1h0.9M135.5 333.0h0.9M116.3 328.1h0.9M126.7 330.6h0.9M129.5 328.9h0.9M129.9 327.8h0.9M121.8 337.5h0.9M131.2 332.5h0.9M116.5 329.7h0.9M134.6 324.6h0.9M136.7 328.7h0.9M131.5 329.9h0.9M130.1 336.0h0.9M125.5 337.7h0.9M122.6 326.2h0.9M133.8 325.6h0.9M125.7 334.7h0.9M137.6 322.3h0.9M132.3 339.2h0.9M137.5 329.4h0.9M124.0 329.1h0.9M119.9 329.3h0.9M127.1 329.8h0.9M137.4 329.4h0.9M117.6 335.3h0.9M120.5 328.4h0.9M127.5 328.9h0.9M121.0 329.4h0.9M144.9 327.7h0.9M127.5 335.7h0.9M134.1 334.0h0.9M135.0 321.4h0.9M122.0 331.1h0.9M132.2 336.5h0.9M132.0 329.4h0.9M128.8 329.5h0.9M130.4 333.6h0.9M126.0 326.8h0.9M122.1 335.5h0.9M138.1 335.1h0.9M134.9 334.3h0.9M128.5 333.6h0.9M120.6 329.6h0.9M123.0 333.8h0.9M124.2 330.0h0.9M131.5 336.7h0.9M122.6 326.2h0.9M134.6 325.4h0.9M131.9 327.9h0.9M127.7 322.1h0.9M133.9 328.2h0.9M121.8 340.1h0.9M133.8 346.6h0.9M131.6 328.9h0.9M129.3 337.9h0.9M128.3 332.6h0.9M132.4 326.3h0.9M129.5 328.2h0.9M119.2 334.5h0.9M133.5 330.8h0.9M121.7 321.3h0.9M132.1 330.1h0.9M115.9 330.2h0.9M117.1 330.4h0.9M129.6 332.1h0.9M130.1 331.3h0.9M120.0 328.7h0.9M124.7 329.4h0.9M130.5 333.3h0.9M140.8 318.7h0.9M131.5 329.6h0.9M145.6 334.8h0.9M116.1 332.3h0.9M124.6 335.1h0.9M120.6 330.0h0.9M127.5 330.1h0.9M124.1 322.0h0.9M132.0 335.1h0.9M128.0 325.8h0.9M130.0 333.1h0.9M127.2 330.4h0.9M139.1 325.4h0.9M124.3 321.7h0.9M123.3 327.1h0.9M121.3 327.3h0.9M142.0 329.6h0.9M127.6 340.6h0.9M128.0 322.5h0.9M131.5 326.2h0.9M140.8 324.8h0.9M124.1 323.1h0.9M129.2 325.8h0.9M128.0 328.8h0.9M123.9 334.8h0.9M135.5 330.8h0.9M121.7 325.6h0.9M130.5 341.5h0.9M125.1 326.9h0.9M123.3 325.5h0.9M121.2 329.6h0.9M139.3 330.5h0.9M124.7 323.1h0.9M130.1 330.4h0.9M119.3 325.5h0.9M128.2 335.2h0.9M133.2 331.4h0.9M126.1 332.0h0.9M128.4 340.5h0.9M120.0 328.8h0.9M138.0 329.3h0.9M139.2 330.3h0.9M129.6 328.8h0.9M118.1 326.0h0.9M145.1 333.5h0.9M133.0 334.9h0.9M132.8 335.2h0.9M126.5 329.5h0.9M135.9 328.9h0.9M118.5 329.5h0.9M124.4 333.3h0.9M123.1 325.6h0.9M126.0 337.6h0.9M128.1 331.2h0.9M128.6 331.9h0.9M135.5 336.9h0.9M116.2 336.8h0.9M128.5 329.0h0.9M146.5 329.7h0.9M143.1 335.0h0.9M120.8 332.7h0.9M134.0 329.9h0.9M111.0 328.9h0.9M127.1 325.4h0.9M142.2 329.4h0.9M125.5 329.1h0.9M122.6 326.9h0.9M129.2 331.9h0.9M124.7 330.1h0.9M118.1 332.9h0.9M122.9 331.5h0.9M121.7 328.1h0.9M130.1 324.9h0.9M147.0 330.3h0.9M128.0 327.1h0.9M140.5 336.9h0.9M130.7 324.2h0.9M124.7 333.3h0.9M124.7 325.1h0.9M119.6 327.0h0.9M128.6 327.5h0.9M128.6 343.3h0.9M141.8 325.7h0.9M131.1 330.9h0.9M127.5 335.3h0.9M126.0 329.0h0.9M125.7 330.0h0.9M138.1 334.1h0.9M118.4 328.5h0.9M122.5 334.3h0.9M130.2 334.6h0.9M128.0 321.7h0.9M131.9 331.5h0.9M132.3 324.5h0.9M129.1 327.3h0.9M123.3 332.1h0.9M131.1 326.4h0.9M115.7 319.1h0.9M124.2 335.7h0.9M128.1 320.1h0.9M122.0 332.4h0.9M141.0 335.9h0.9M131.3 331.4h0.9M120.6 328.4h0.9M126.0 326.9h0.9M129.0 328.7h0.9M131.0 337.1h0.9M134.1 332.4h0.9M126.7 323.5h0.9M127.6 333.0h0.9M120.9 336.3h0.9M126.0 332.2h0.9M126.0 324.7h0.9M144.0 325.2h0.9M135.4 327.9h0.9M130.6 326.8h0.9M125.4 334.7h0.9M143.1 326.6h0.9M128.6 334.9h0.9M123.8 333.8h0.9M122.6 333.3h0.9M131.8 336.1h0.9M131.2 325.0h0.9M133.5 325.4h0.9M134.1 337.4h0.9M133.0 328.0h0.9M137.4 331.3h0.9M119.2 328.9h0.9M139.1 329.1h0.9M129.4 328.9h0.9M115.9 328.2h0.9M131.2 331.5h0.9M127.2 320.7h0.9M137.7 333.8h0.9M136.2 336.5h0.9M125.2 327.7h0.9M130.9 338.2h0.9M115.9 329.4h0.9M123.1 333.1h0.9M139.5 329.1h0.9M119.2 330.7h0.9M126.4 323.4h0.9M135.1 328.1h0.9M133.6 324.4h0.9M136.7 323.9h0.9M136.4 322.2h0.9M138.8 328.8h0.9M116.8 329.4h0.9M131.0 325.9h0.9M124.8 331.7h0.9M127.2 316.4h0.9M125.3 332.5h0.9M130.7 335.1h0.9M123.3 342.2h0.9M134.5 331.9h0.9M136.6 334.9h0.9M129.3 327.6h0.9M136.2 332.4h0.9M114.3 325.4h0.9M132.0 331.0h0.9M130.6 333.5h0.9M129.6 337.8h0.9M124.1 328.7h0.9M130.9 333.9h0.9M134.4 337.3h0.9M124.9 335.9h0.9M132.0 325.7h0.9M127.5 340.1h0.9M134.4 328.3h0.9M110.5 327.1h0.9M123.2 330.9h0.9M145.8 333.9h0.9M130.8 326.2h0.9M119.6 329.5h0.9M125.0 344.3h0.9M125.5 327.7h0.9M137.0 330.9h0.9M119.2 336.4h0.9M126.2 324.4h0.9M130.9 332.7h0.9M126.0 333.7h0.9M134.7 326.4h0.9M113.1 319.5h0.9M127.5 336.2h0.9M136.0 336.9h0.9M142.4 330.6h0.9M136.4 323.5h0.9M133.7 332.3h0.9M127.8 328.5h0.9M120.1 331.1h0.9M138.1 328.8h0.9M132.5 327.4h0.9M130.4 325.9h0.9M131.3 329.5h0.9M130.9 327.7h0.9M119.7 329.0h0.9M136.3 337.8h0.9M126.1 334.2h0.9M134.2 332.3h0.9M116.9 332.0h0.9M121.2 335.9h0.9M134.4 333.3h0.9M109.5 333.4h0.9M133.7 324.6h0.9M135.8 330.8h0.9M127.1 327.2h0.9M120.9 328.5h0.9M151.6 331.4h0.9M130.1 327.5h0.9M123.9 328.0h0.9M121.9 334.5h0.9M126.5 334.5h0.9M119.8 334.8h0.9M128.3 333.6h0.9M127.7 326.4h0.9M137.6 328.5h0.9M127.4 326.4h0.9M130.0 328.7h0.9M130.6 332.1h0.9M123.3 324.0h0.9M131.7 334.7h0.9" stroke="#6f76d2" stroke-width="0.9" opacity="0.45" fill="none"/>
<path d="M136.9 340.0h0.8M136.2 350.7h0.8M134.0 351.0h0.8M129.7 349.5h0.8M138.5 344.5h0.8M121.9 347.3h0.8M133.4 335.1h0.8M127.3 352.1h0.8M130.9 348.6h0.8M123.2 354.3h0.8M144.3 346.6h0.8M126.9 339.9h0.8M138.2 348.7h0.8M126.4 356.5h0.8M137.4 352.2h0.8M119.7 347.3h0.8M136.4 339.4h0.8M138.5 358.0h0.8M139.2 342.9h0.8M127.0 354.6h0.8M139.0 356.6h0.8M140.4 347.3h0.8M129.1 335.0h0.8M137.5 363.9h0.8M128.8 344.7h0.8M136.5 350.6h0.8M122.4 343.0h0.8M124.3 362.2h0.8M127.0 354.0h0.8M145.4 361.3h0.8M142.0 359.4h0.8M123.4 345.6h0.8M126.9 346.0h0.8M150.3 336.2h0.8M135.9 339.3h0.8M141.4 357.1h0.8M128.4 362.5h0.8M132.5 357.1h0.8M134.2 344.1h0.8M129.3 347.2h0.8M136.3 348.9h0.8M148.5 346.6h0.8M128.7 343.0h0.8M126.6 337.9h0.8M125.1 354.3h0.8M132.4 346.8h0.8M134.5 355.5h0.8M136.3 353.4h0.8M128.1 346.2h0.8M126.6 347.3h0.8M126.3 345.4h0.8M130.8 346.5h0.8M130.1 344.6h0.8M141.2 345.6h0.8M124.9 349.4h0.8M124.4 340.5h0.8M132.6 336.3h0.8M109.5 350.0h0.8M139.2 336.3h0.8M125.7 352.0h0.8M118.1 341.9h0.8M123.6 346.6h0.8M118.2 354.3h0.8M131.0 350.1h0.8M129.7 333.2h0.8M130.9 338.6h0.8M132.1 342.0h0.8M129.8 346.5h0.8M137.4 353.4h0.8M125.0 347.9h0.8M142.2 351.5h0.8M126.9 347.2h0.8M129.6 354.6h0.8M132.2 350.6h0.8M147.5 338.4h0.8M124.9 335.9h0.8M120.9 354.0h0.8M134.0 359.4h0.8M118.2 341.8h0.8M142.1 355.2h0.8M138.2 354.1h0.8M132.2 347.9h0.8M132.2 353.9h0.8M130.9 350.2h0.8M142.2 340.1h0.8M126.7 352.0h0.8M130.2 346.9h0.8M146.7 350.9h0.8M129.1 355.7h0.8M149.6 340.2h0.8M127.3 348.8h0.8M127.5 363.2h0.8M135.7 345.2h0.8M135.4 342.4h0.8M127.8 348.7h0.8M148.7 332.2h0.8M134.9 357.5h0.8M137.2 361.5h0.8M135.2 349.0h0.8M131.1 342.0h0.8M143.4 339.7h0.8M131.1 344.3h0.8M126.5 332.4h0.8M129.3 349.0h0.8M133.0 353.9h0.8M130.9 343.5h0.8M134.2 352.7h0.8M125.7 337.4h0.8M124.8 355.4h0.8M139.0 341.8h0.8" stroke="#959ada" stroke-width="0.8" opacity="0.4" fill="none"/>
<rect x="119.50" y="316.80" width="32.30" height="24.00" fill="none" stroke="#7a7a7a" stroke-width="1.0" />
<rect x="119.50" y="340.80" width="32.30" height="21.50" fill="none" stroke="#7a7a7a" stroke-width="1.0" />
<rect x="105.30" y="340.80" width="14.20" height="21.50" fill="none" stroke="#7a7a7a" stroke-width="1.0" />
<rect x="168.30" y="301.00" width="65.60" height="65.60" fill="#fff" stroke="#c9c9c9" stroke-width="0.8" />
<line x1="168.70" y1="312.81" x2="169.90" y2="312.81" stroke="#888" stroke-width="0.7" />
<line x1="168.70" y1="327.24" x2="169.90" y2="327.24" stroke="#888" stroke-width="0.7" />
<line x1="168.70" y1="341.67" x2="169.90" y2="341.67" stroke="#888" stroke-width="0.7" />
<line x1="168.70" y1="353.48" x2="169.90" y2="353.48" stroke="#888" stroke-width="0.7" />
<circle cx="169.20" cy="358.73" r="0.8" fill="#333"/>
<rect x="173.55" y="366.00" width="13.12" height="1.6" fill="#444" opacity="0.8"/>
<circle cx="180.11" cy="366.80" r="1" fill="#222"/>
<line x1="193.23" y1="366.40" x2="193.23" y2="367.60" stroke="#888" stroke-width="0.7" />
<line x1="202.41" y1="366.40" x2="202.41" y2="367.60" stroke="#888" stroke-width="0.7" />
<line x1="210.28" y1="366.40" x2="210.28" y2="367.60" stroke="#888" stroke-width="0.7" />
<line x1="219.47" y1="366.40" x2="219.47" y2="367.60" stroke="#888" stroke-width="0.7" />
<line x1="227.34" y1="366.40" x2="227.34" y2="367.60" stroke="#888" stroke-width="0.7" />
<text x="205.80" y="309.70" font-size="7.8" text-anchor="middle" fill="#222222" textLength="28.60" lengthAdjust="spacingAndGlyphs" stroke="#222222" stroke-width="0.3" >KMUKO</text>
<ellipse cx="196" cy="327.5" rx="14.5" ry="6.2" fill="#8690e0" opacity="0.85" filter="url(#bl1_5)"/>
<ellipse cx="203" cy="344" rx="10" ry="7" fill="#cfd2f0" opacity="0.6" filter="url(#bl2_5)"/>
<path d="M198.8 332.0h0.9M207.3 326.6h0.9M196.3 334.1h0.9M214.9 334.5h0.9M190.0 330.6h0.9M195.9 328.8h0.9M193.4 327.3h0.9M197.9 335.5h0.9M202.9 330.5h0.9M198.2 326.3h0.9M196.4 333.5h0.9M203.8 336.1h0.9M199.8 328.9h0.9M186.7 330.4h0.9M185.9 334.5h0.9M193.6 329.0h0.9M188.5 327.2h0.9M191.5 333.1h0.9M199.7 324.8h0.9M184.5 328.8h0.9M194.6 325.0h0.9M202.1 328.3h0.9M198.8 326.9h0.9M194.0 327.3h0.9M186.8 331.3h0.9M200.8 322.8h0.9M198.7 333.2h0.9M199.7 333.7h0.9M196.1 329.0h0.9M188.9 325.7h0.9M185.2 325.8h0.9M199.7 330.9h0.9M206.1 329.5h0.9M191.1 330.6h0.9M197.0 335.4h0.9M211.7 332.5h0.9M190.0 327.1h0.9M199.3 326.4h0.9M201.7 331.5h0.9M203.9 329.8h0.9M191.8 326.0h0.9M197.1 333.8h0.9M209.0 332.5h0.9M200.5 331.4h0.9M203.8 333.7h0.9M204.0 323.5h0.9M204.7 330.4h0.9M194.8 330.9h0.9M200.0 328.8h0.9M186.2 329.4h0.9M201.9 328.8h0.9M186.9 330.6h0.9M203.0 329.7h0.9M201.0 327.7h0.9M193.4 330.9h0.9M195.5 329.7h0.9M220.8 331.6h0.9M198.9 323.2h0.9M198.7 331.7h0.9M193.1 328.1h0.9M182.2 331.0h0.9M193.8 331.5h0.9M207.6 328.4h0.9M204.9 329.9h0.9M196.6 328.0h0.9M192.0 333.6h0.9M204.2 325.4h0.9M203.9 326.4h0.9M187.5 333.3h0.9M189.0 333.3h0.9M199.4 332.2h0.9M201.6 333.2h0.9M200.4 331.1h0.9M199.7 332.9h0.9M195.3 332.7h0.9M208.5 328.8h0.9M201.1 327.2h0.9M196.0 329.9h0.9M195.6 325.8h0.9M197.8 329.7h0.9M200.3 331.6h0.9M185.6 334.1h0.9M196.8 326.2h0.9M195.4 330.6h0.9M204.1 327.7h0.9M199.1 323.3h0.9M199.2 328.6h0.9M195.0 332.2h0.9M210.6 332.7h0.9M192.5 334.5h0.9M195.7 328.9h0.9M193.9 330.6h0.9M201.9 329.5h0.9M196.5 328.5h0.9M195.2 332.5h0.9M194.4 328.5h0.9M196.5 326.3h0.9M196.4 323.7h0.9M200.9 330.9h0.9M195.9 334.6h0.9M192.3 331.0h0.9M201.3 327.1h0.9M196.3 332.2h0.9M198.4 330.0h0.9M207.8 329.8h0.9M186.3 326.4h0.9M203.8 328.5h0.9M190.5 321.9h0.9M200.3 334.4h0.9M189.3 321.2h0.9M201.5 327.1h0.9M196.0 327.8h0.9M191.7 330.6h0.9M204.4 330.3h0.9M194.1 332.7h0.9M197.2 331.1h0.9M191.5 331.4h0.9M203.2 333.6h0.9M198.2 330.6h0.9M194.0 332.2h0.9M203.4 332.9h0.9M195.3 324.6h0.9M197.5 328.3h0.9M192.8 331.2h0.9M204.6 330.4h0.9M205.7 330.4h0.9M191.2 326.9h0.9M195.6 331.4h0.9M204.4 329.5h0.9M205.0 326.1h0.9M197.2 334.3h0.9M201.1 332.7h0.9M185.0 323.1h0.9M192.0 332.6h0.9M209.2 326.8h0.9M191.2 325.4h0.9M191.9 331.0h0.9M195.8 335.7h0.9M203.0 326.6h0.9M199.6 328.5h0.9M203.5 332.2h0.9M195.6 332.2h0.9M201.9 328.7h0.9M199.8 331.4h0.9M195.8 326.6h0.9M206.8 329.0h0.9M193.9 330.6h0.9M187.9 329.2h0.9M188.6 327.5h0.9M185.7 326.5h0.9M204.2 328.4h0.9M189.7 335.2h0.9M193.7 334.3h0.9M194.4 323.8h0.9M210.7 327.5h0.9M203.3 333.2h0.9M189.0 329.3h0.9M194.1 331.2h0.9M197.9 324.6h0.9M198.4 331.7h0.9M196.0 331.0h0.9M194.4 328.8h0.9M200.4 329.5h0.9M206.8 332.4h0.9M203.8 331.6h0.9M199.1 324.9h0.9M205.3 335.2h0.9M199.6 328.1h0.9M197.8 333.3h0.9M200.0 325.6h0.9M196.9 326.3h0.9M196.7 325.9h0.9M192.1 334.3h0.9M205.2 323.4h0.9M191.3 327.5h0.9M195.4 324.2h0.9M204.1 323.3h0.9M202.8 331.5h0.9M195.5 326.7h0.9M198.5 329.5h0.9M183.7 324.6h0.9M201.7 328.6h0.9M195.2 325.5h0.9M193.2 326.3h0.9M217.2 324.6h0.9M208.6 330.7h0.9M199.5 329.7h0.9M195.5 334.7h0.9M201.5 328.9h0.9M197.2 329.7h0.9M190.2 327.9h0.9M193.8 331.2h0.9M202.2 322.5h0.9M196.5 332.5h0.9M189.2 324.9h0.9M204.9 328.6h0.9M195.0 324.8h0.9M199.2 327.1h0.9M199.5 330.5h0.9M202.9 327.9h0.9M194.5 329.1h0.9M197.4 329.6h0.9M194.4 328.2h0.9M194.0 327.0h0.9M199.1 333.1h0.9M194.4 331.1h0.9M200.4 329.4h0.9M202.7 327.1h0.9M201.9 330.1h0.9M174.2 330.3h0.9M202.2 335.9h0.9M190.8 329.4h0.9M200.5 325.6h0.9M206.3 330.6h0.9M192.6 324.8h0.9M195.2 337.4h0.9M212.8 320.3h0.9M185.6 331.4h0.9M197.3 326.8h0.9M202.2 329.4h0.9" stroke="#5866d4" stroke-width="0.9" opacity="0.45" fill="none"/>
<ellipse cx="193.5" cy="326" rx="6" ry="2.8" fill="#5fbf78" opacity="0.9" filter="url(#bl1_0)" transform="rotate(10 193.5 326)"/>
<ellipse cx="193" cy="325.8" rx="3.2" ry="1.5" fill="#8fd04a" opacity="0.9" filter="url(#bl0_8)"/>
<rect x="188.70" y="316.80" width="31.90" height="24.00" fill="none" stroke="#7a7a7a" stroke-width="1.0" />
<rect x="188.70" y="340.80" width="31.90" height="21.50" fill="none" stroke="#7a7a7a" stroke-width="1.0" />
<rect x="175.50" y="340.80" width="13.20" height="21.50" fill="none" stroke="#7a7a7a" stroke-width="1.0" />
<line x1="20.80" y1="377.20" x2="20.80" y2="345.30" stroke="#111" stroke-width="1.4" />
<polygon points="20.80,339.80 18.00,345.80 23.60,345.80" fill="#111"/>
<line x1="20.10" y1="376.50" x2="185.70" y2="376.50" stroke="#111" stroke-width="1.4" />
<polygon points="191.40,376.50 185.20,373.70 185.20,379.30" fill="#111"/>
<text x="23.40" y="319.60" font-size="10.2" text-anchor="middle" fill="#222222" textLength="30.60" lengthAdjust="spacingAndGlyphs" transform="rotate(-90 23.40 319.60)" stroke="#222222" stroke-width="0.3" >CD16/32</text>
<text x="194.50" y="378.80" font-size="10.6" text-anchor="start" fill="#222222" textLength="18.80" lengthAdjust="spacingAndGlyphs" stroke="#222222" stroke-width="0.3" >CD34</text>
<line x1="47.10" y1="392.50" x2="47.10" y2="433.60" stroke="#161616" stroke-width="1.4" />
<line x1="47.10" y1="439.40" x2="47.10" y2="481.95" stroke="#161616" stroke-width="1.4" />
<line x1="43.80" y1="395.50" x2="47.10" y2="395.50" stroke="#161616" stroke-width="1.4" />
<text x="41.00" y="398.35" font-size="7.8" text-anchor="end" fill="#222222" textLength="11.06" lengthAdjust="spacingAndGlyphs" stroke="#222222" stroke-width="0.3" >1.0</text>
<line x1="43.80" y1="414.50" x2="47.10" y2="414.50" stroke="#161616" stroke-width="1.4" />
<text x="41.00" y="417.35" font-size="7.8" text-anchor="end" fill="#222222" textLength="11.06" lengthAdjust="spacingAndGlyphs" stroke="#222222" stroke-width="0.3" >0.6</text>
<line x1="43.80" y1="433.20" x2="47.10" y2="433.20" stroke="#161616" stroke-width="1.4" />
<line x1="43.80" y1="440.75" x2="47.10" y2="440.75" stroke="#161616" stroke-width="1.4" />
<text x="41.00" y="443.60" font-size="7.8" text-anchor="end" fill="#222222" textLength="11.06" lengthAdjust="spacingAndGlyphs" stroke="#222222" stroke-width="0.3" >0.2</text>
<line x1="43.80" y1="461.00" x2="47.10" y2="461.00" stroke="#161616" stroke-width="1.4" />
<text x="41.00" y="463.85" font-size="7.8" text-anchor="end" fill="#222222" textLength="11.06" lengthAdjust="spacingAndGlyphs" stroke="#222222" stroke-width="0.3" >0.1</text>
<line x1="43.80" y1="481.25" x2="47.10" y2="481.25" stroke="#161616" stroke-width="1.4" />
<text x="41.00" y="484.10" font-size="7.8" text-anchor="end" fill="#222222" textLength="11.06" lengthAdjust="spacingAndGlyphs" stroke="#222222" stroke-width="0.3" >0.0</text>
<line x1="46.40" y1="481.25" x2="246.50" y2="481.25" stroke="#161616" stroke-width="1.4" />
<line x1="72.30" y1="481.25" x2="72.30" y2="483.45" stroke="#161616" stroke-width="1.26" />
<line x1="122.30" y1="481.25" x2="122.30" y2="483.45" stroke="#161616" stroke-width="1.26" />
<line x1="172.00" y1="481.25" x2="172.00" y2="483.45" stroke="#161616" stroke-width="1.26" />
<line x1="222.00" y1="481.25" x2="222.00" y2="483.45" stroke="#161616" stroke-width="1.26" />
<text x="24.40" y="437.00" font-size="10.4" text-anchor="middle" fill="#222222" textLength="57.50" lengthAdjust="spacingAndGlyphs" transform="rotate(-90 24.40 437.00)" stroke="#222222" stroke-width="0.3" >Percentage WBM</text>
<text x="72.50" y="494.50" font-size="8.4" text-anchor="middle" fill="#222222" textLength="13.50" lengthAdjust="spacingAndGlyphs" stroke="#222222" stroke-width="0.3" >LSK</text>
<text x="122.40" y="494.50" font-size="8.4" text-anchor="middle" fill="#222222" textLength="17.70" lengthAdjust="spacingAndGlyphs" stroke="#222222" stroke-width="0.3" >CMP</text>
<text x="172.60" y="494.50" font-size="8.4" text-anchor="middle" fill="#222222" textLength="18.80" lengthAdjust="spacingAndGlyphs" stroke="#222222" stroke-width="0.3" >GMP</text>
<text x="221.70" y="494.50" font-size="8.4" text-anchor="middle" fill="#222222" textLength="16.10" lengthAdjust="spacingAndGlyphs" stroke="#222222" stroke-width="0.3" >MEP</text>
<g fill="#2b4169" stroke="#0f1729" stroke-width="0.9"><rect x="59.30" y="442.95" width="5.40" height="4.60"/></g>
<g fill="#2b4169" stroke="#0f1729" stroke-width="0.9"><rect x="59.30" y="459.95" width="5.40" height="5.40"/><rect x="59.11" y="463.38" width="5.40" height="5.40"/><rect x="59.09" y="466.80" width="5.40" height="5.40"/><rect x="59.23" y="470.22" width="5.40" height="5.40"/><rect x="59.30" y="473.65" width="5.40" height="5.40"/><line x1="62.00" y1="460.70" x2="62.00" y2="478.30" stroke-width="0.9" stroke-opacity="0.8"/></g>
<line x1="57.00" y1="465.75" x2="67.00" y2="465.75" stroke="#0d0d0d" stroke-width="1.25" />
<line x1="59.00" y1="456.20" x2="65.00" y2="456.20" stroke="#0d0d0d" stroke-width="1.0" />
<line x1="62.00" y1="456.20" x2="62.00" y2="460.00" stroke="#0d0d0d" stroke-width="1.0" />
<g fill="#a01436" stroke="#34040f" stroke-width="0.9"><rect x="79.80" y="452.45" width="5.40" height="4.60"/></g>
<g fill="#a01436" stroke="#34040f" stroke-width="0.9"><rect x="79.80" y="471.65" width="5.40" height="5.40"/><rect x="79.80" y="476.15" width="5.40" height="5.40"/><line x1="82.50" y1="472.40" x2="82.50" y2="480.80" stroke-width="0.9" stroke-opacity="0.8"/></g>
<line x1="78.00" y1="475.00" x2="87.00" y2="475.00" stroke="#0d0d0d" stroke-width="1.25" />
<line x1="79.50" y1="468.00" x2="85.50" y2="468.00" stroke="#0d0d0d" stroke-width="1.0" />
<line x1="82.50" y1="468.00" x2="82.50" y2="471.50" stroke="#0d0d0d" stroke-width="1.0" />
<line x1="62.50" y1="432.10" x2="80.60" y2="432.10" stroke="#2a2a2a" stroke-width="1.2" />
<line x1="62.50" y1="429.30" x2="62.50" y2="434.90" stroke="#1a1a1a" stroke-width="1.2" />
<line x1="80.60" y1="429.30" x2="80.60" y2="434.90" stroke="#1a1a1a" stroke-width="1.2" />
<circle cx="71.55" cy="425.40" r="1.15" fill="#1a1a1a"/>
<g fill="#2b4169" stroke="#0f1729" stroke-width="0.9"><rect x="109.40" y="448.25" width="5.40" height="5.40"/><rect x="109.53" y="452.38" width="5.40" height="5.40"/><rect x="109.31" y="456.52" width="5.40" height="5.40"/><rect x="109.40" y="460.65" width="5.40" height="5.40"/><line x1="112.10" y1="449.00" x2="112.10" y2="465.30" stroke-width="0.9" stroke-opacity="0.8"/></g>
<g fill="#2b4169" stroke="#0f1729" stroke-width="0.9"><rect x="109.40" y="470.45" width="5.40" height="4.90"/></g>
<line x1="106.80" y1="457.90" x2="117.40" y2="457.90" stroke="#0d0d0d" stroke-width="1.25" />
<g fill="#a01436" stroke="#34040f" stroke-width="0.9"><rect x="129.60" y="453.15" width="5.40" height="4.90"/></g>
<g fill="#a01436" stroke="#34040f" stroke-width="0.9"><rect x="129.60" y="462.05" width="5.40" height="5.40"/><rect x="129.61" y="465.92" width="5.40" height="5.40"/><rect x="129.36" y="469.78" width="5.40" height="5.40"/><rect x="129.60" y="473.65" width="5.40" height="5.40"/><line x1="132.30" y1="462.80" x2="132.30" y2="478.30" stroke-width="0.9" stroke-opacity="0.8"/></g>
<line x1="127.30" y1="470.90" x2="137.30" y2="470.90" stroke="#0d0d0d" stroke-width="1.25" />
<line x1="113.70" y1="440.20" x2="132.50" y2="440.20" stroke="#2a2a2a" stroke-width="1.2" />
<line x1="113.70" y1="437.40" x2="113.70" y2="443.00" stroke="#1a1a1a" stroke-width="1.2" />
<line x1="132.50" y1="437.40" x2="132.50" y2="443.00" stroke="#1a1a1a" stroke-width="1.2" />
<circle cx="123.10" cy="433.40" r="1.15" fill="#1a1a1a"/>
<g fill="#2b4169" stroke="#0f1729" stroke-width="0.9"><rect x="158.70" y="426.65" width="5.40" height="5.40"/><rect x="158.70" y="430.75" width="5.40" height="5.40"/><line x1="161.40" y1="427.40" x2="161.40" y2="435.40" stroke-width="0.9" stroke-opacity="0.8"/></g>
<g fill="#2b4169" stroke="#0f1729" stroke-width="0.9"><rect x="158.70" y="448.55" width="5.40" height="5.40"/><rect x="158.70" y="451.45" width="5.40" height="5.40"/></g>
<line x1="156.70" y1="432.40" x2="166.10" y2="432.40" stroke="#0d0d0d" stroke-width="1.25" />
<line x1="161.40" y1="441.20" x2="161.40" y2="446.70" stroke="#222" stroke-width="1.0" />
<g fill="#a01436" stroke="#34040f" stroke-width="0.9"><rect x="179.50" y="402.85" width="5.40" height="5.40"/><rect x="179.36" y="406.63" width="5.40" height="5.40"/><rect x="179.73" y="410.41" width="5.40" height="5.40"/><rect x="179.26" y="414.19" width="5.40" height="5.40"/><rect x="179.51" y="417.97" width="5.40" height="5.40"/><rect x="179.50" y="421.75" width="5.40" height="5.40"/><line x1="182.20" y1="403.60" x2="182.20" y2="426.40" stroke-width="0.9" stroke-opacity="0.8"/></g>
<g fill="#a01436" stroke="#34040f" stroke-width="0.9"><rect x="179.50" y="430.05" width="5.40" height="6.10"/></g>
<g fill="#a01436" stroke="#34040f" stroke-width="0.9"><rect x="179.50" y="449.85" width="5.40" height="5.40"/><rect x="179.50" y="450.85" width="5.40" height="5.40"/></g>
<line x1="176.40" y1="422.90" x2="188.00" y2="422.90" stroke="#0d0d0d" stroke-width="1.25" />
<line x1="179.20" y1="414.00" x2="185.20" y2="414.00" stroke="#0d0d0d" stroke-width="1.0" />
<line x1="179.90" y1="445.80" x2="184.50" y2="445.80" stroke="#0d0d0d" stroke-width="1.0" />
<line x1="182.20" y1="445.80" x2="182.20" y2="441.20" stroke="#0d0d0d" stroke-width="1.0" />
<line x1="165.40" y1="397.10" x2="183.50" y2="397.10" stroke="#2a2a2a" stroke-width="1.2" />
<line x1="165.40" y1="394.30" x2="165.40" y2="399.90" stroke="#1a1a1a" stroke-width="1.2" />
<line x1="183.50" y1="394.30" x2="183.50" y2="399.90" stroke="#1a1a1a" stroke-width="1.2" />
<circle cx="174.45" cy="390.30" r="1.15" fill="#1a1a1a"/>
<g fill="#2b4169" stroke="#0f1729" stroke-width="0.9"><rect x="209.20" y="473.35" width="5.40" height="5.40"/><rect x="209.20" y="475.65" width="5.40" height="5.40"/></g>
<line x1="206.90" y1="478.00" x2="216.90" y2="478.00" stroke="#0d0d0d" stroke-width="1.25" />
<g fill="#a01436" stroke="#34040f" stroke-width="0.9"><rect x="229.40" y="464.05" width="5.40" height="4.90"/></g>
<g fill="#a01436" stroke="#34040f" stroke-width="0.9"><rect x="229.40" y="474.15" width="5.40" height="5.40"/><rect x="229.40" y="476.55" width="5.40" height="5.40"/></g>
<line x1="226.60" y1="478.00" x2="237.60" y2="478.00" stroke="#0d0d0d" stroke-width="1.25" />
<rect x="102.62" y="391.43" width="5.75" height="5.75" fill="#3a5485" stroke="#141c34" stroke-width="1.25" />
<text x="111.90" y="396.30" font-size="7.3" text-anchor="start" fill="#222222" textLength="12.26" lengthAdjust="spacingAndGlyphs" stroke="#222222" stroke-width="0.3" >KM</text>
<rect x="102.62" y="403.43" width="5.75" height="5.75" fill="#a8163c" stroke="#3a0512" stroke-width="1.25" />
<text x="111.90" y="408.40" font-size="7.3" text-anchor="start" fill="#222222" textLength="28.40" lengthAdjust="spacingAndGlyphs" stroke="#222222" stroke-width="0.3" >KMUKO</text>
<text x="262.60" y="290.10" font-size="11.3" font-weight="bold" fill="#0a0a0a" stroke="#0a0a0a" stroke-width="0.35">E</text>
<text x="290.90" y="297.50" font-size="5.4" text-anchor="start" fill="#222222" textLength="19.00" lengthAdjust="spacingAndGlyphs" stroke="#222222" stroke-width="0.3" >CD11b<tspan font-size="3.6" dy="-2.2">+</tspan></text>
<rect x="285.20" y="299.30" width="66.30" height="67.70" fill="#fff" stroke="#c9c9c9" stroke-width="0.8" />
<line x1="285.60" y1="311.49" x2="286.80" y2="311.49" stroke="#888" stroke-width="0.7" />
<line x1="285.60" y1="326.38" x2="286.80" y2="326.38" stroke="#888" stroke-width="0.7" />
<line x1="285.60" y1="341.27" x2="286.80" y2="341.27" stroke="#888" stroke-width="0.7" />
<line x1="285.60" y1="353.46" x2="286.80" y2="353.46" stroke="#888" stroke-width="0.7" />
<circle cx="286.10" cy="358.88" r="0.8" fill="#333"/>
<rect x="290.50" y="366.40" width="13.26" height="1.6" fill="#444" opacity="0.8"/>
<circle cx="297.13" cy="367.20" r="1" fill="#222"/>
<line x1="310.39" y1="366.80" x2="310.39" y2="368.00" stroke="#888" stroke-width="0.7" />
<line x1="319.68" y1="366.80" x2="319.68" y2="368.00" stroke="#888" stroke-width="0.7" />
<line x1="327.63" y1="366.80" x2="327.63" y2="368.00" stroke="#888" stroke-width="0.7" />
<line x1="336.91" y1="366.80" x2="336.91" y2="368.00" stroke="#888" stroke-width="0.7" />
<line x1="344.87" y1="366.80" x2="344.87" y2="368.00" stroke="#888" stroke-width="0.7" />
<rect x="289.20" y="307.40" width="17.60" height="13.10" fill="none" stroke="#808080" stroke-width="0.9" />
<rect x="306.80" y="320.50" width="21.00" height="18.60" fill="none" stroke="#808080" stroke-width="0.9" />
<rect x="289.20" y="339.10" width="17.60" height="19.40" fill="none" stroke="#808080" stroke-width="0.9" />
<rect x="289.20" y="320.50" width="17.60" height="18.60" fill="none" stroke="#1c1c1c" stroke-width="1.15" />
<text x="291.40" y="313.30" font-size="5.2" text-anchor="start" fill="#222222" stroke="#222222" stroke-width="0.3" >Ly6C<tspan font-size="3.3" dy="-1.9">hi</tspan></text>
<text x="291.40" y="318.40" font-size="5.2" text-anchor="start" fill="#222222" stroke="#222222" stroke-width="0.3" >Ly6G<tspan font-size="3.3" dy="-1.9">-</tspan></text>
<text x="291.40" y="329.30" font-size="5.2" text-anchor="start" fill="#222222" stroke="#222222" stroke-width="0.3" >Ly6C<tspan font-size="3.3" dy="-1.9">int</tspan></text>
<text x="291.40" y="334.80" font-size="5.2" text-anchor="start" fill="#222222" stroke="#222222" stroke-width="0.3" >Ly6G<tspan font-size="3.3" dy="-1.9">-</tspan></text>
<text x="329.90" y="328.90" font-size="5.2" text-anchor="start" fill="#222222" stroke="#222222" stroke-width="0.3" >Ly6C<tspan font-size="3.3" dy="-1.9">int</tspan></text>
<text x="329.90" y="333.90" font-size="5.2" text-anchor="start" fill="#222222" stroke="#222222" stroke-width="0.3" >Ly6G<tspan font-size="3.3" dy="-1.9">+</tspan></text>
<rect x="354.30" y="299.30" width="66.80" height="67.70" fill="#fff" stroke="#c9c9c9" stroke-width="0.8" />
<line x1="354.70" y1="311.49" x2="355.90" y2="311.49" stroke="#888" stroke-width="0.7" />
<line x1="354.70" y1="326.38" x2="355.90" y2="326.38" stroke="#888" stroke-width="0.7" />
<line x1="354.70" y1="341.27" x2="355.90" y2="341.27" stroke="#888" stroke-width="0.7" />
<line x1="354.70" y1="353.46" x2="355.90" y2="353.46" stroke="#888" stroke-width="0.7" />
<circle cx="355.20" cy="358.88" r="0.8" fill="#333"/>
<rect x="359.64" y="366.40" width="13.36" height="1.6" fill="#444" opacity="0.8"/>
<circle cx="366.32" cy="367.20" r="1" fill="#222"/>
<line x1="379.68" y1="366.80" x2="379.68" y2="368.00" stroke="#888" stroke-width="0.7" />
<line x1="389.04" y1="366.80" x2="389.04" y2="368.00" stroke="#888" stroke-width="0.7" />
<line x1="397.05" y1="366.80" x2="397.05" y2="368.00" stroke="#888" stroke-width="0.7" />
<line x1="406.40" y1="366.80" x2="406.40" y2="368.00" stroke="#888" stroke-width="0.7" />
<line x1="414.42" y1="366.80" x2="414.42" y2="368.00" stroke="#888" stroke-width="0.7" />
<text x="395.40" y="308.30" font-size="7.6" text-anchor="middle" fill="#222222" textLength="10.80" lengthAdjust="spacingAndGlyphs" stroke="#222222" stroke-width="0.3" >KM</text>
<ellipse cx="366" cy="349" rx="6" ry="9" fill="#6f8ae8" opacity="0.45" filter="url(#bl2_0)"/>
<path d="M368.9 340.1h1.0M365.6 344.0h1.0M368.8 339.4h1.0M374.9 358.7h1.0M360.3 355.4h1.0M366.0 363.2h1.0M371.8 351.2h1.0M366.6 355.9h1.0M361.5 356.4h1.0M367.6 344.7h1.0M363.3 345.7h1.0M364.2 362.8h1.0M365.1 352.4h1.0M362.2 358.5h1.0M367.8 359.6h1.0M366.9 352.5h1.0M368.6 354.4h1.0M365.4 350.3h1.0M361.4 349.9h1.0M363.6 356.7h1.0M368.9 348.8h1.0M368.9 346.4h1.0M366.1 347.1h1.0M370.8 349.5h1.0M369.1 349.0h1.0M360.1 355.1h1.0M367.6 354.3h1.0M364.7 353.4h1.0M369.8 356.8h1.0M361.3 356.0h1.0M367.5 358.1h1.0M372.7 342.3h1.0M362.3 344.9h1.0M364.0 348.8h1.0M369.6 342.2h1.0M359.6 352.6h1.0M362.1 352.9h1.0M366.8 358.1h1.0M361.1 346.8h1.0M372.2 351.7h1.0M360.3 352.6h1.0M368.9 355.5h1.0M373.4 349.6h1.0M363.2 359.0h1.0M370.6 349.6h1.0M367.6 347.7h1.0M371.2 349.6h1.0M366.9 361.4h1.0M369.8 340.6h1.0M374.3 354.8h1.0M365.2 345.6h1.0M367.7 343.8h1.0M367.2 354.6h1.0M364.9 348.2h1.0M362.7 350.3h1.0M366.7 342.5h1.0M372.7 344.0h1.0M368.5 354.7h1.0M367.0 351.0h1.0M360.9 359.9h1.0M367.1 347.4h1.0M367.9 355.4h1.0M369.6 343.2h1.0M367.4 348.7h1.0M369.1 349.7h1.0M359.7 341.1h1.0M365.6 346.1h1.0M363.7 344.4h1.0M370.1 350.5h1.0M363.5 357.8h1.0M364.9 358.0h1.0M365.0 346.4h1.0M370.8 356.7h1.0M363.7 350.7h1.0M374.0 359.5h1.0M362.7 346.4h1.0M363.4 340.9h1.0M363.5 354.0h1.0M363.9 351.8h1.0M362.8 345.4h1.0M368.0 344.4h1.0M360.8 351.9h1.0M369.9 348.0h1.0M365.1 345.8h1.0M362.8 347.7h1.0M368.6 346.5h1.0M370.1 342.9h1.0M360.4 356.4h1.0M362.1 346.1h1.0M370.3 352.5h1.0M365.1 356.3h1.0M369.6 348.6h1.0M363.7 341.6h1.0M366.2 356.2h1.0M372.4 359.4h1.0M366.0 356.3h1.0M361.5 359.3h1.0M369.5 343.5h1.0M364.0 349.2h1.0M367.5 348.4h1.0M363.1 354.4h1.0M364.9 341.2h1.0M360.7 360.7h1.0M366.9 349.6h1.0M362.6 345.0h1.0M362.8 355.1h1.0M363.3 358.2h1.0M361.9 342.5h1.0M367.7 350.0h1.0M361.6 351.4h1.0M364.2 346.5h1.0M369.1 349.7h1.0M364.3 352.4h1.0M360.2 356.1h1.0M368.4 351.8h1.0M362.3 343.3h1.0M365.8 345.4h1.0M368.7 341.0h1.0M366.4 347.0h1.0M365.2 350.2h1.0M366.8 349.2h1.0M362.7 356.0h1.0M363.9 349.4h1.0M366.9 345.1h1.0M363.7 349.9h1.0M363.8 348.7h1.0M370.6 353.8h1.0M363.9 360.0h1.0M366.1 356.2h1.0M369.0 351.4h1.0M360.5 352.3h1.0M372.9 357.1h1.0M372.7 363.2h1.0M361.5 349.0h1.0M370.5 348.6h1.0M368.6 350.2h1.0M369.1 341.1h1.0M365.4 346.6h1.0M364.9 349.7h1.0M368.9 353.2h1.0M372.3 348.2h1.0M366.8 348.5h1.0M364.4 351.2h1.0M365.9 352.9h1.0M369.5 347.4h1.0M374.2 340.5h1.0M361.2 347.1h1.0M369.7 346.6h1.0M363.7 359.4h1.0M365.8 355.7h1.0M361.4 352.9h1.0M363.0 354.9h1.0M364.6 350.6h1.0M366.8 348.2h1.0M360.4 348.7h1.0M363.4 352.5h1.0M369.5 353.4h1.0M364.0 356.3h1.0M366.9 359.9h1.0M365.4 350.1h1.0M372.0 350.4h1.0M370.2 348.6h1.0M362.5 346.7h1.0M364.1 357.8h1.0M362.7 347.2h1.0M360.6 350.1h1.0M366.0 348.0h1.0M368.9 352.5h1.0M365.0 360.6h1.0M363.0 352.8h1.0M365.2 347.7h1.0M374.5 348.9h1.0M364.1 354.6h1.0M369.3 340.4h1.0M365.0 348.4h1.0M366.1 348.1h1.0M362.0 344.6h1.0M371.8 346.2h1.0M376.4 352.0h1.0M366.1 342.1h1.0M373.3 350.3h1.0M360.1 354.4h1.0M376.0 348.6h1.0M373.0 354.7h1.0M362.5 354.5h1.0M363.9 351.2h1.0M362.9 358.8h1.0M368.0 351.3h1.0M369.4 342.3h1.0M363.9 349.1h1.0M368.9 353.5h1.0M371.5 347.8h1.0M368.7 348.1h1.0M361.2 353.8h1.0M367.2 347.4h1.0M369.6 345.2h1.0M370.7 351.2h1.0M361.2 356.3h1.0M370.7 346.9h1.0M364.3 344.5h1.0M366.4 347.2h1.0M365.9 346.4h1.0M363.4 347.9h1.0M364.5 353.0h1.0M362.5 356.5h1.0M361.6 349.3h1.0M362.3 356.2h1.0M362.7 358.2h1.0M366.4 354.6h1.0M365.3 342.2h1.0M365.9 352.2h1.0M368.0 344.8h1.0M365.0 343.8h1.0M361.7 344.8h1.0M375.8 348.0h1.0M361.0 351.9h1.0M366.9 360.0h1.0M369.1 353.1h1.0M366.7 348.7h1.0M364.1 342.6h1.0M362.2 348.3h1.0M372.4 362.0h1.0M366.8 339.2h1.0M372.4 356.1h1.0M366.6 353.9h1.0M360.0 348.2h1.0M371.6 357.0h1.0M372.1 345.8h1.0M365.3 345.1h1.0M370.5 342.5h1.0M365.7 354.5h1.0M371.5 350.9h1.0M365.9 355.0h1.0M366.0 353.2h1.0M362.4 350.5h1.0M365.2 354.7h1.0M370.8 360.0h1.0M369.8 343.5h1.0M372.8 345.0h1.0M365.9 352.0h1.0M369.9 347.8h1.0M366.8 345.7h1.0M361.9 351.7h1.0M360.2 349.7h1.0M364.1 353.5h1.0M368.1 349.1h1.0M372.1 346.8h1.0M374.7 355.6h1.0M370.7 354.6h1.0M375.9 362.3h1.0M362.7 361.3h1.0M372.2 353.3h1.0M367.0 350.6h1.0M362.5 339.2h1.0M367.2 342.9h1.0M370.9 353.4h1.0M368.2 356.7h1.0M362.8 355.6h1.0M368.3 358.9h1.0M361.5 353.4h1.0M370.6 353.3h1.0M363.8 348.8h1.0M364.7 355.2h1.0M373.9 344.6h1.0M366.8 349.5h1.0M360.0 350.5h1.0M363.6 342.4h1.0M370.7 353.8h1.0M367.1 349.6h1.0M372.9 357.8h1.0M367.0 349.6h1.0M374.3 352.3h1.0M363.9 343.3h1.0M366.1 349.8h1.0M373.3 354.4h1.0M374.4 348.3h1.0M362.6 353.0h1.0M365.6 350.9h1.0M366.4 345.4h1.0M361.3 346.2h1.0M362.6 357.7h1.0M362.8 351.2h1.0M368.1 347.5h1.0M368.0 353.7h1.0M364.3 353.8h1.0M364.0 346.2h1.0M362.6 349.3h1.0M368.1 347.3h1.0M366.4 355.1h1.0M362.5 358.5h1.0M362.4 340.6h1.0M364.2 349.4h1.0M366.3 345.5h1.0M366.9 356.1h1.0M370.3 349.6h1.0M359.9 360.4h1.0M370.4 349.6h1.0M371.2 358.0h1.0M366.8 344.7h1.0M367.1 344.3h1.0M364.6 357.8h1.0M365.7 343.2h1.0M366.3 349.1h1.0M361.6 350.0h1.0M375.2 355.3h1.0M367.9 353.2h1.0M374.2 339.4h1.0M369.7 347.7h1.0M368.3 348.6h1.0M366.9 353.0h1.0M361.8 351.7h1.0M368.6 353.3h1.0M367.6 349.1h1.0M367.7 355.1h1.0M369.7 351.6h1.0M366.9 352.8h1.0M360.5 348.7h1.0M368.8 352.1h1.0M369.4 352.4h1.0M363.3 349.9h1.0M363.2 356.8h1.0M363.8 360.2h1.0M370.9 348.9h1.0M363.1 350.9h1.0M373.5 351.6h1.0M364.8 351.1h1.0M367.4 353.2h1.0M365.7 345.9h1.0M369.1 350.5h1.0M367.6 343.3h1.0M363.1 344.5h1.0M366.3 351.0h1.0M365.6 351.6h1.0M365.6 358.3h1.0M362.5 355.0h1.0M363.2 346.3h1.0M360.2 359.8h1.0M361.9 347.0h1.0M361.2 348.3h1.0M361.1 361.5h1.0M367.1 364.0h1.0M371.6 340.1h1.0M368.8 356.1h1.0M369.7 349.5h1.0M369.4 358.5h1.0M366.6 357.9h1.0M372.0 362.2h1.0M365.6 352.6h1.0M364.4 344.9h1.0M361.1 347.4h1.0M370.8 346.6h1.0M365.8 350.2h1.0M362.4 350.1h1.0M360.3 346.2h1.0M364.1 350.6h1.0M360.8 350.1h1.0M365.1 356.4h1.0M373.0 355.5h1.0M366.8 361.2h1.0M367.0 345.6h1.0M370.4 345.9h1.0M360.9 353.4h1.0M370.9 347.7h1.0M362.3 350.6h1.0M368.9 344.0h1.0M364.4 353.3h1.0M367.9 361.1h1.0M371.9 345.5h1.0M368.1 341.0h1.0M369.0 340.0h1.0M369.7 359.9h1.0M364.9 354.2h1.0M366.8 349.4h1.0" stroke="#3c5ee0" stroke-width="1.0" opacity="0.5" fill="none"/>
<path d="M380.5 348.5h0.9M388.1 339.7h0.9M397.8 340.4h0.9M384.6 347.0h0.9M384.6 346.1h0.9M398.1 347.4h0.9M384.6 353.2h0.9M394.3 348.1h0.9M392.8 357.0h0.9M397.3 354.1h0.9M391.5 342.5h0.9M394.0 345.5h0.9M380.1 349.3h0.9M385.2 350.2h0.9M391.7 359.6h0.9M387.2 359.1h0.9M380.8 348.4h0.9M385.4 353.5h0.9M380.5 340.5h0.9M391.0 346.8h0.9M397.9 342.2h0.9M382.3 365.7h0.9M386.8 342.8h0.9M384.7 357.4h0.9M384.4 349.1h0.9M390.8 342.4h0.9M386.0 353.7h0.9M382.1 346.5h0.9M384.9 351.4h0.9M391.3 351.1h0.9M382.0 343.4h0.9M382.3 351.8h0.9M390.6 354.2h0.9M377.9 345.6h0.9M398.0 343.3h0.9M385.9 357.7h0.9M393.3 348.9h0.9M389.8 360.1h0.9M389.2 350.4h0.9M381.5 347.2h0.9M381.7 359.8h0.9M380.4 340.2h0.9M379.8 351.0h0.9M391.3 353.9h0.9M398.1 344.9h0.9M388.2 349.9h0.9M384.9 359.7h0.9M383.1 350.4h0.9M379.0 353.1h0.9M385.8 341.9h0.9M380.7 340.4h0.9M384.6 347.6h0.9M385.2 345.4h0.9M392.4 351.7h0.9M388.3 349.3h0.9M380.8 354.0h0.9M397.7 359.7h0.9M390.1 342.5h0.9M381.5 345.8h0.9M389.0 348.6h0.9M384.6 353.7h0.9M390.8 342.8h0.9M380.9 352.8h0.9M389.5 345.5h0.9M380.6 351.1h0.9M379.9 352.0h0.9M382.6 358.0h0.9M381.7 352.2h0.9M386.9 341.4h0.9M380.4 350.9h0.9M387.4 342.1h0.9M383.2 359.8h0.9M394.3 345.8h0.9M382.9 342.5h0.9M383.6 344.9h0.9M387.0 340.4h0.9M391.4 348.2h0.9M385.7 347.8h0.9M377.2 355.0h0.9M385.5 358.6h0.9M387.1 355.9h0.9M390.0 348.8h0.9M387.8 347.7h0.9M389.1 343.0h0.9M378.0 343.1h0.9M382.0 346.5h0.9M383.9 340.4h0.9M392.8 358.2h0.9M381.6 359.1h0.9M390.6 347.3h0.9M379.3 345.5h0.9M382.4 349.1h0.9M383.4 344.1h0.9M388.2 342.1h0.9M391.0 356.6h0.9M378.9 351.1h0.9M393.8 348.5h0.9M391.4 347.1h0.9M386.1 346.2h0.9M383.1 359.2h0.9M382.5 352.8h0.9M381.3 355.8h0.9M391.7 350.0h0.9M384.1 345.7h0.9M381.4 362.2h0.9M390.2 346.8h0.9M387.3 352.2h0.9M395.2 355.4h0.9M385.7 343.5h0.9M396.9 351.3h0.9M388.6 345.3h0.9M379.6 361.3h0.9M387.3 356.8h0.9M383.5 356.0h0.9M389.0 340.6h0.9M386.7 353.9h0.9M383.5 346.3h0.9M391.3 347.6h0.9M380.1 351.7h0.9M384.4 345.2h0.9M380.2 357.7h0.9M388.6 363.2h0.9M389.0 345.4h0.9M383.2 352.8h0.9M385.6 346.9h0.9M385.3 346.6h0.9M390.1 341.6h0.9M383.7 347.4h0.9M391.4 350.8h0.9M394.1 348.1h0.9M387.4 347.1h0.9M387.0 349.9h0.9M384.8 344.9h0.9M384.7 359.3h0.9M384.2 343.2h0.9M381.1 350.2h0.9M380.8 346.5h0.9M383.1 353.1h0.9M384.8 354.3h0.9M391.1 349.6h0.9M382.0 346.0h0.9M394.8 357.8h0.9M379.0 350.6h0.9M381.2 362.5h0.9M386.2 339.2h0.9M381.0 339.9h0.9M379.8 349.0h0.9M380.5 354.3h0.9M378.8 350.7h0.9M389.3 345.9h0.9M391.0 349.8h0.9M396.5 351.5h0.9M382.4 345.1h0.9M390.4 362.2h0.9M390.7 339.9h0.9M380.2 351.0h0.9M399.4 348.2h0.9M387.2 346.6h0.9M379.1 346.7h0.9M381.6 362.0h0.9M402.9 359.1h0.9M389.4 349.3h0.9M379.4 355.4h0.9M391.9 354.8h0.9M392.0 346.2h0.9M386.6 339.7h0.9M382.8 346.9h0.9M384.1 344.7h0.9M378.9 351.9h0.9M381.9 356.9h0.9M385.2 348.0h0.9M387.6 359.1h0.9M386.5 351.7h0.9M386.4 342.7h0.9M393.4 346.7h0.9M392.9 354.9h0.9M385.2 361.8h0.9M387.5 349.6h0.9M387.0 345.3h0.9M386.4 350.6h0.9M389.5 355.8h0.9M391.1 347.4h0.9M385.3 362.1h0.9M389.4 358.1h0.9M393.4 351.4h0.9M377.7 357.8h0.9M385.9 360.1h0.9M388.8 356.5h0.9M390.4 348.0h0.9M383.6 364.4h0.9" stroke="#7d95e8" stroke-width="0.9" opacity="0.35" fill="none"/>
<ellipse cx="367.8" cy="330" rx="8.5" ry="9.5" fill="#5a82ea" opacity="0.75" filter="url(#bl1_5)"/>
<path d="M366.7 329.2h1.0M368.9 334.7h1.0M364.1 324.2h1.0M361.6 336.9h1.0M365.8 331.1h1.0M362.6 331.3h1.0M365.9 330.7h1.0M364.4 334.6h1.0M371.5 336.9h1.0M370.2 329.2h1.0M361.6 331.0h1.0M368.1 323.9h1.0M367.7 334.6h1.0M367.2 328.8h1.0M368.4 329.9h1.0M369.6 336.7h1.0M371.4 324.6h1.0M367.3 321.7h1.0M367.2 329.2h1.0M368.8 328.2h1.0M368.2 332.3h1.0M365.9 332.6h1.0M369.9 331.6h1.0M366.8 334.5h1.0M370.0 333.4h1.0M365.6 328.4h1.0M370.5 336.9h1.0M365.5 333.2h1.0M362.1 328.3h1.0M363.2 335.0h1.0M374.2 332.9h1.0M369.1 335.7h1.0M363.2 328.1h1.0M370.8 335.0h1.0M366.2 325.9h1.0M371.5 332.1h1.0M369.2 322.7h1.0M370.4 329.4h1.0M359.8 337.7h1.0M367.7 328.3h1.0M375.6 329.9h1.0M370.7 327.1h1.0M372.8 326.7h1.0M371.4 324.2h1.0M370.2 330.2h1.0M362.2 335.0h1.0M373.4 338.1h1.0M374.0 333.9h1.0M366.7 335.8h1.0M364.9 328.8h1.0M371.4 330.6h1.0M362.4 337.3h1.0M369.5 337.7h1.0M367.4 331.2h1.0M367.8 331.0h1.0M365.6 334.9h1.0M374.6 330.6h1.0M374.8 334.5h1.0M368.1 337.3h1.0M372.3 328.7h1.0M365.4 336.0h1.0M360.1 332.9h1.0M372.5 338.8h1.0M370.8 330.2h1.0M365.3 328.8h1.0M372.5 332.3h1.0M360.8 327.4h1.0M369.2 330.6h1.0M368.6 331.9h1.0M365.0 324.7h1.0M370.5 326.8h1.0M372.9 336.1h1.0M371.1 331.6h1.0M370.4 331.6h1.0M373.2 333.6h1.0M372.2 336.4h1.0M369.6 326.5h1.0M372.9 336.6h1.0M361.3 328.6h1.0M372.4 324.7h1.0M371.6 330.3h1.0M368.6 323.3h1.0M366.8 331.2h1.0M363.6 331.6h1.0M362.7 327.1h1.0M365.8 330.9h1.0M372.1 336.5h1.0M368.6 326.6h1.0M361.8 332.8h1.0M369.2 325.8h1.0M372.6 328.0h1.0M362.9 334.8h1.0M372.3 332.6h1.0M374.1 335.0h1.0M369.2 333.5h1.0M361.5 334.5h1.0M368.0 325.1h1.0M366.2 336.1h1.0M370.1 328.5h1.0M364.9 331.3h1.0M367.5 329.0h1.0M365.9 327.6h1.0M361.1 333.5h1.0M366.1 333.6h1.0M368.0 328.4h1.0M374.6 332.8h1.0M368.4 327.4h1.0M374.0 333.1h1.0M363.3 331.9h1.0M370.5 329.1h1.0M366.3 329.3h1.0M364.3 327.7h1.0M367.9 329.5h1.0M364.8 330.9h1.0M370.0 327.9h1.0M363.4 329.5h1.0M371.5 338.9h1.0M367.8 326.0h1.0M360.7 335.1h1.0M366.7 324.9h1.0M369.2 332.7h1.0M360.3 331.2h1.0M364.3 335.0h1.0M365.4 329.2h1.0M365.5 323.9h1.0M361.0 324.8h1.0M372.5 329.9h1.0M364.6 326.7h1.0M363.5 333.8h1.0M364.7 326.9h1.0M369.8 323.1h1.0M370.2 326.5h1.0M365.1 327.7h1.0M366.6 333.3h1.0M365.9 336.1h1.0M369.6 333.0h1.0M360.7 322.1h1.0M370.8 333.1h1.0M367.7 327.1h1.0M370.9 327.4h1.0M364.2 331.6h1.0M366.2 336.6h1.0M374.5 332.5h1.0M368.9 326.4h1.0M368.4 333.6h1.0M375.3 335.6h1.0M366.8 330.4h1.0M361.0 333.1h1.0M366.9 332.3h1.0M363.4 333.4h1.0M372.2 330.1h1.0M376.4 325.8h1.0M365.2 329.7h1.0M368.3 328.8h1.0M365.4 330.1h1.0M371.8 334.1h1.0M375.6 328.5h1.0M364.1 326.1h1.0M368.8 322.9h1.0M370.9 336.7h1.0M362.3 334.4h1.0M365.7 322.8h1.0M368.5 328.8h1.0M368.5 332.4h1.0M365.5 336.5h1.0M361.2 332.5h1.0M367.6 330.8h1.0M365.4 330.3h1.0M368.9 329.6h1.0M361.3 326.6h1.0M362.3 334.5h1.0M369.1 336.9h1.0M369.6 332.9h1.0M369.5 337.4h1.0M367.2 330.8h1.0M365.4 333.2h1.0M368.2 333.7h1.0M369.4 334.4h1.0M376.4 323.9h1.0M364.9 331.5h1.0M365.3 334.3h1.0M362.7 324.0h1.0M368.4 325.2h1.0M362.1 332.7h1.0M363.7 335.4h1.0M364.4 323.0h1.0M364.5 337.3h1.0M368.4 332.3h1.0M363.9 334.4h1.0M369.5 331.5h1.0M368.1 329.8h1.0M365.5 335.8h1.0M366.5 333.8h1.0M365.2 333.3h1.0M368.2 331.6h1.0M367.8 327.0h1.0M366.1 321.4h1.0M370.3 332.8h1.0M367.1 326.3h1.0M363.0 332.5h1.0M373.4 327.4h1.0M370.6 334.2h1.0M366.1 327.6h1.0M375.5 324.4h1.0M365.9 330.9h1.0M366.6 335.5h1.0M359.8 325.3h1.0M370.9 332.8h1.0M367.0 326.0h1.0M367.8 333.0h1.0M372.4 332.8h1.0M362.7 329.4h1.0M363.7 329.2h1.0M374.9 331.9h1.0M364.5 336.5h1.0M364.6 334.0h1.0M371.5 332.5h1.0M366.8 333.6h1.0M373.1 332.2h1.0M364.0 335.6h1.0M366.4 330.8h1.0M374.5 336.7h1.0M362.0 328.8h1.0M362.9 338.6h1.0M372.9 321.0h1.0M366.4 322.9h1.0M361.5 332.6h1.0M362.1 327.8h1.0M371.7 321.1h1.0M375.4 334.0h1.0M362.5 326.0h1.0M368.8 330.0h1.0M362.7 331.8h1.0M370.3 329.9h1.0M364.9 329.8h1.0M367.6 324.6h1.0M367.1 326.3h1.0M367.9 330.6h1.0M373.8 324.4h1.0M367.2 333.2h1.0M365.5 322.4h1.0" stroke="#3d64e0" stroke-width="1.0" opacity="0.5" fill="none"/>
<ellipse cx="368.5" cy="325.5" rx="5.2" ry="5.5" fill="#45b8d8" opacity="0.8" filter="url(#bl1_5)"/>
<ellipse cx="368.5" cy="324.8" rx="3.0" ry="3.6" fill="#6ccc52" opacity="0.9" filter="url(#bl1_0)"/>
<ellipse cx="367.8" cy="315.5" rx="6.5" ry="5.2" fill="#5a82ea" opacity="0.8" filter="url(#bl1_2)"/>
<path d="M375.4 317.9h1.0M366.9 315.4h1.0M364.6 315.8h1.0M373.6 319.1h1.0M369.5 314.9h1.0M365.2 316.2h1.0M367.0 314.3h1.0M366.0 318.0h1.0M364.1 316.0h1.0M361.0 311.7h1.0M374.7 313.0h1.0M369.0 313.7h1.0M367.9 318.6h1.0M364.8 312.5h1.0M367.5 316.0h1.0M369.8 316.5h1.0M367.0 310.2h1.0M370.3 316.0h1.0M368.1 320.4h1.0M370.0 314.2h1.0M375.1 319.9h1.0M373.3 314.7h1.0M362.1 316.3h1.0M368.3 312.2h1.0M367.2 318.9h1.0M366.2 313.4h1.0M366.5 314.3h1.0M370.2 315.1h1.0M375.4 313.5h1.0M371.5 310.9h1.0M369.8 312.2h1.0M372.9 317.5h1.0M371.2 310.9h1.0M369.0 315.8h1.0M367.3 312.3h1.0M376.2 310.2h1.0M362.8 316.9h1.0M365.1 311.8h1.0M364.4 318.5h1.0M374.6 318.0h1.0M366.8 310.5h1.0M365.5 315.9h1.0M362.8 316.8h1.0M366.2 315.1h1.0M371.3 315.6h1.0M367.9 317.5h1.0M368.4 318.4h1.0M365.2 309.7h1.0M367.5 315.0h1.0M371.0 312.7h1.0M367.2 311.7h1.0M365.9 317.5h1.0M372.5 317.3h1.0M372.8 316.9h1.0M372.2 313.3h1.0M362.8 312.4h1.0M374.0 314.2h1.0M371.7 315.3h1.0M372.6 315.9h1.0M363.3 311.2h1.0M365.3 313.8h1.0M374.4 315.7h1.0M360.6 309.8h1.0M362.1 312.5h1.0M360.5 316.9h1.0M367.4 315.8h1.0M366.3 317.8h1.0M371.3 315.4h1.0M367.0 319.7h1.0M370.2 316.9h1.0M366.4 316.4h1.0M364.8 313.8h1.0M368.8 313.1h1.0M370.1 315.2h1.0M365.3 315.1h1.0M370.8 315.7h1.0M370.1 314.1h1.0M363.5 315.7h1.0M367.4 318.9h1.0M370.8 316.5h1.0M368.5 311.2h1.0M362.0 312.3h1.0M367.7 314.6h1.0M371.8 318.9h1.0M373.4 308.4h1.0M368.1 313.9h1.0M363.3 313.9h1.0M366.3 314.6h1.0M371.9 314.8h1.0M366.8 316.2h1.0M366.5 313.6h1.0M368.4 317.8h1.0M365.4 314.0h1.0M363.9 310.3h1.0M375.1 315.2h1.0M370.2 314.5h1.0M368.5 314.4h1.0M366.6 315.0h1.0M374.7 319.5h1.0M371.7 318.7h1.0M367.6 315.5h1.0M368.1 314.5h1.0M372.7 312.1h1.0M364.0 315.6h1.0M373.1 316.3h1.0M371.9 316.3h1.0M372.5 313.6h1.0M372.0 318.5h1.0M366.9 313.1h1.0M368.4 311.9h1.0M364.1 317.3h1.0M367.3 317.8h1.0M370.3 313.8h1.0M368.2 312.8h1.0M367.9 315.6h1.0M373.5 314.4h1.0M372.4 315.1h1.0M369.7 316.1h1.0M372.4 316.7h1.0M361.5 310.7h1.0M367.1 317.5h1.0M368.2 317.1h1.0M371.8 316.1h1.0M364.9 316.8h1.0M370.7 314.8h1.0M369.8 312.4h1.0M368.5 315.9h1.0M362.3 311.9h1.0M373.0 316.9h1.0M368.4 319.7h1.0M370.6 311.6h1.0M367.9 317.1h1.0M375.4 314.2h1.0M371.7 313.9h1.0M371.0 316.4h1.0M368.9 314.9h1.0M367.5 316.3h1.0M370.2 313.7h1.0M370.7 316.8h1.0M368.9 318.4h1.0M364.0 312.8h1.0M371.4 317.5h1.0M371.3 316.5h1.0M368.8 313.5h1.0M369.0 313.6h1.0" stroke="#3d64e0" stroke-width="1.0" opacity="0.5" fill="none"/>
<ellipse cx="367.6" cy="317.2" rx="4.4" ry="3.3" fill="#45c0c8" opacity="0.95" filter="url(#bl1_0)"/>
<ellipse cx="367.6" cy="317.8" rx="3.0" ry="2.2" fill="#88d840" opacity="1" filter="url(#bl0_8)"/>
<ellipse cx="367.6" cy="318.2" rx="1.7" ry="1.3" fill="#ecd02a" opacity="1" filter="url(#bl0_6)"/>
<ellipse cx="385.5" cy="331" rx="10.5" ry="8.8" fill="#5a82ea" opacity="0.8" filter="url(#bl1_5)"/>
<path d="M377.2 336.5h1.0M393.1 331.1h1.0M394.2 328.5h1.0M386.2 334.3h1.0M380.7 331.5h1.0M383.0 330.3h1.0M383.3 326.1h1.0M388.4 331.8h1.0M396.2 327.1h1.0M389.9 327.6h1.0M389.1 330.7h1.0M385.6 331.4h1.0M387.3 332.5h1.0M388.2 324.6h1.0M382.6 331.4h1.0M383.5 328.9h1.0M390.9 336.0h1.0M378.8 324.0h1.0M387.0 328.6h1.0M384.4 333.6h1.0M384.1 331.1h1.0M391.6 325.4h1.0M388.0 325.6h1.0M395.2 326.0h1.0M390.7 323.0h1.0M386.7 335.5h1.0M395.1 333.9h1.0M383.9 336.1h1.0M396.1 321.2h1.0M386.0 320.7h1.0M389.7 329.2h1.0M383.9 329.8h1.0M382.1 330.9h1.0M383.5 330.2h1.0M383.1 331.5h1.0M384.7 321.2h1.0M379.3 332.4h1.0M395.5 334.0h1.0M379.9 328.8h1.0M389.6 335.4h1.0M388.3 332.0h1.0M391.0 333.5h1.0M392.8 338.1h1.0M382.2 330.0h1.0M383.6 340.4h1.0M378.1 327.3h1.0M384.2 329.8h1.0M387.5 336.1h1.0M393.5 321.1h1.0M381.6 328.9h1.0M392.8 332.8h1.0M386.6 334.3h1.0M386.9 331.1h1.0M389.8 321.5h1.0M386.1 331.7h1.0M381.5 329.3h1.0M385.4 326.9h1.0M381.6 328.4h1.0M385.8 327.1h1.0M391.7 325.5h1.0M389.8 328.1h1.0M393.1 329.1h1.0M385.1 338.2h1.0M384.4 333.3h1.0M393.5 332.7h1.0M385.6 333.3h1.0M386.1 328.3h1.0M385.6 327.0h1.0M390.9 322.6h1.0M393.6 330.2h1.0M393.2 328.2h1.0M380.9 328.8h1.0M379.8 335.5h1.0M385.7 338.2h1.0M391.8 325.0h1.0M385.7 332.2h1.0M381.2 335.0h1.0M389.8 325.8h1.0M377.4 330.2h1.0M377.0 328.5h1.0M378.4 328.8h1.0M385.8 333.6h1.0M390.2 329.6h1.0M379.0 328.3h1.0M381.9 331.9h1.0M386.1 329.0h1.0M386.2 335.0h1.0M386.6 334.1h1.0M391.9 333.9h1.0M389.6 337.3h1.0M378.7 326.9h1.0M377.3 331.8h1.0M383.6 336.4h1.0M383.9 327.8h1.0M384.7 324.4h1.0M393.7 329.9h1.0M384.1 335.7h1.0M384.8 327.9h1.0M381.2 327.6h1.0M386.5 331.5h1.0M377.5 326.7h1.0M377.7 325.2h1.0M378.7 326.7h1.0M377.0 328.8h1.0M383.1 330.2h1.0M381.3 324.1h1.0M381.9 331.4h1.0M379.9 330.7h1.0M391.9 340.0h1.0M389.7 338.1h1.0M389.0 336.3h1.0M388.1 331.0h1.0M385.9 330.6h1.0M398.5 329.5h1.0M377.4 333.3h1.0M382.0 331.7h1.0M381.5 335.2h1.0M387.5 329.2h1.0M378.9 329.6h1.0M381.2 328.4h1.0M393.3 329.1h1.0M384.5 337.2h1.0M386.7 329.9h1.0M381.3 326.4h1.0M384.7 333.9h1.0M386.2 336.3h1.0M378.3 334.2h1.0M384.4 337.9h1.0M387.0 327.5h1.0M393.0 330.1h1.0M383.2 334.3h1.0M384.0 325.8h1.0M383.6 327.5h1.0M388.5 328.0h1.0M389.9 327.1h1.0M379.1 334.8h1.0M378.0 330.1h1.0M385.4 328.8h1.0M386.6 330.9h1.0M396.0 334.0h1.0M385.3 332.2h1.0M388.6 336.2h1.0M386.2 330.2h1.0M386.0 331.7h1.0M390.4 332.4h1.0M378.5 323.1h1.0M383.4 327.7h1.0M380.7 335.1h1.0M396.0 338.2h1.0M381.5 331.4h1.0M384.3 337.6h1.0M389.2 333.0h1.0M388.2 336.5h1.0M383.9 327.7h1.0M382.5 324.8h1.0M378.6 332.7h1.0M386.6 332.9h1.0M383.8 329.2h1.0M388.0 331.5h1.0M381.7 330.1h1.0M384.6 339.5h1.0M382.3 331.9h1.0M380.8 327.2h1.0M391.0 323.5h1.0M385.6 339.7h1.0M388.0 332.6h1.0M381.7 330.8h1.0M381.0 329.5h1.0M391.5 329.1h1.0M379.4 331.2h1.0M391.7 336.2h1.0M393.6 327.4h1.0M382.5 336.6h1.0M381.8 334.9h1.0M385.6 330.4h1.0M378.4 331.7h1.0M391.4 337.5h1.0M385.4 336.1h1.0M385.6 337.7h1.0M377.2 334.2h1.0M382.8 330.3h1.0M380.9 331.2h1.0M390.2 336.9h1.0M388.6 333.4h1.0M386.4 331.8h1.0M398.5 323.9h1.0M384.9 331.6h1.0M384.6 323.7h1.0M395.3 333.4h1.0M389.5 332.5h1.0M387.3 322.6h1.0M386.2 336.9h1.0M388.0 324.5h1.0M381.7 330.5h1.0M389.0 332.3h1.0M377.5 330.0h1.0M377.2 332.8h1.0M377.5 328.2h1.0M396.7 330.2h1.0M386.8 323.4h1.0M381.2 329.8h1.0M392.6 335.4h1.0M385.6 337.9h1.0M377.7 328.9h1.0M381.5 332.6h1.0M382.4 338.3h1.0M389.5 328.1h1.0M383.0 336.0h1.0M377.8 334.0h1.0M385.9 322.5h1.0M389.0 323.5h1.0M391.9 330.0h1.0M377.3 333.4h1.0M381.1 339.7h1.0M378.8 334.1h1.0M379.8 330.4h1.0M390.3 331.3h1.0M393.9 339.2h1.0M396.0 329.5h1.0M385.3 332.0h1.0M387.2 329.7h1.0M380.3 322.7h1.0M387.4 328.3h1.0M382.8 330.9h1.0M380.4 335.0h1.0M387.5 327.2h1.0M383.8 328.6h1.0M385.4 332.7h1.0M378.5 327.8h1.0M384.1 325.9h1.0M394.4 327.9h1.0M387.6 334.8h1.0M377.8 328.9h1.0M394.2 328.9h1.0M381.5 331.7h1.0M386.1 324.0h1.0M390.1 326.0h1.0M385.3 336.6h1.0M380.0 332.0h1.0M382.5 329.6h1.0M385.4 333.5h1.0M392.7 332.0h1.0M385.0 325.9h1.0M392.2 327.1h1.0M382.8 327.6h1.0M390.0 328.3h1.0M388.0 327.9h1.0M394.2 328.7h1.0M389.7 338.3h1.0M388.8 335.1h1.0M381.6 334.1h1.0M383.2 333.3h1.0M383.3 332.3h1.0M387.1 326.5h1.0M384.0 325.9h1.0M397.7 329.4h1.0M382.3 321.8h1.0M397.4 325.0h1.0M378.6 334.5h1.0M390.7 333.0h1.0M381.6 337.2h1.0M395.5 331.4h1.0M391.1 333.4h1.0M383.2 328.9h1.0M383.3 327.8h1.0M380.9 327.5h1.0M391.8 329.5h1.0M384.8 335.3h1.0M390.9 329.8h1.0M385.8 337.2h1.0M378.6 320.6h1.0M390.2 333.1h1.0M384.3 325.2h1.0M382.2 324.0h1.0M387.1 331.9h1.0M387.8 334.8h1.0M387.5 334.7h1.0M386.5 331.8h1.0M386.9 332.9h1.0M385.2 329.0h1.0M389.9 335.5h1.0M382.4 339.4h1.0M378.2 330.8h1.0M384.5 331.8h1.0M388.1 326.5h1.0M386.8 328.9h1.0M378.7 333.6h1.0M386.8 332.6h1.0M398.5 326.3h1.0M393.0 331.0h1.0M384.6 324.3h1.0M381.9 331.4h1.0M381.4 326.8h1.0M384.7 329.7h1.0M384.7 333.4h1.0M386.1 325.3h1.0M383.1 339.5h1.0M380.6 330.5h1.0M385.2 331.2h1.0M387.0 331.5h1.0M397.5 328.6h1.0M390.6 334.3h1.0M380.8 327.7h1.0M382.3 327.2h1.0M383.2 328.2h1.0M379.2 331.3h1.0M383.5 330.7h1.0M386.0 338.9h1.0M388.9 335.9h1.0" stroke="#3d64e0" stroke-width="1.0" opacity="0.45" fill="none"/>
<ellipse cx="384.5" cy="330.4" rx="7.2" ry="6.2" fill="#40bcd8" opacity="0.95" filter="url(#bl1_2)"/>
<ellipse cx="384" cy="330.3" rx="5.2" ry="4.5" fill="#6ed24a" opacity="1" filter="url(#bl1_0)"/>
<ellipse cx="383.7" cy="330.2" rx="3.4" ry="3.0" fill="#e6d82a" opacity="1" filter="url(#bl0_8)"/>
<ellipse cx="383.5" cy="330.2" rx="1.4" ry="1.2" fill="#f0901a" opacity="1" filter="url(#bl0_6)"/>
<rect x="359.40" y="307.40" width="17.20" height="13.10" fill="none" stroke="#808080" stroke-width="0.9" />
<rect x="376.60" y="320.50" width="20.90" height="18.60" fill="none" stroke="#808080" stroke-width="0.9" />
<rect x="359.40" y="339.10" width="17.20" height="19.40" fill="none" stroke="#808080" stroke-width="0.9" />
<rect x="359.40" y="320.50" width="17.20" height="18.60" fill="none" stroke="#1c1c1c" stroke-width="1.15" />
<rect x="424.30" y="299.30" width="68.00" height="67.70" fill="#fff" stroke="#c9c9c9" stroke-width="0.8" />
<line x1="424.70" y1="311.49" x2="425.90" y2="311.49" stroke="#888" stroke-width="0.7" />
<line x1="424.70" y1="326.38" x2="425.90" y2="326.38" stroke="#888" stroke-width="0.7" />
<line x1="424.70" y1="341.27" x2="425.90" y2="341.27" stroke="#888" stroke-width="0.7" />
<line x1="424.70" y1="353.46" x2="425.90" y2="353.46" stroke="#888" stroke-width="0.7" />
<circle cx="425.20" cy="358.88" r="0.8" fill="#333"/>
<rect x="429.74" y="366.40" width="13.60" height="1.6" fill="#444" opacity="0.8"/>
<circle cx="436.54" cy="367.20" r="1" fill="#222"/>
<line x1="450.14" y1="366.80" x2="450.14" y2="368.00" stroke="#888" stroke-width="0.7" />
<line x1="459.66" y1="366.80" x2="459.66" y2="368.00" stroke="#888" stroke-width="0.7" />
<line x1="467.82" y1="366.80" x2="467.82" y2="368.00" stroke="#888" stroke-width="0.7" />
<line x1="477.34" y1="366.80" x2="477.34" y2="368.00" stroke="#888" stroke-width="0.7" />
<line x1="485.50" y1="366.80" x2="485.50" y2="368.00" stroke="#888" stroke-width="0.7" />
<text x="466.90" y="307.60" font-size="7.8" text-anchor="middle" fill="#222222" textLength="28.60" lengthAdjust="spacingAndGlyphs" stroke="#222222" stroke-width="0.3" >KMUKO</text>
<ellipse cx="436" cy="350" rx="6" ry="8" fill="#6f8ae8" opacity="0.45" filter="url(#bl2_0)"/>
<path d="M442.2 349.7h1.0M435.2 339.8h1.0M440.4 348.8h1.0M430.0 356.1h1.0M441.0 351.1h1.0M435.2 357.6h1.0M441.8 354.2h1.0M441.6 346.5h1.0M430.6 350.4h1.0M433.6 352.0h1.0M438.6 360.1h1.0M434.7 349.8h1.0M429.6 342.5h1.0M434.3 346.9h1.0M438.7 348.9h1.0M431.0 349.7h1.0M437.8 354.1h1.0M437.1 353.3h1.0M442.3 352.2h1.0M434.3 346.0h1.0M440.5 348.1h1.0M433.0 344.6h1.0M435.9 340.1h1.0M435.4 352.1h1.0M435.2 340.1h1.0M434.2 348.2h1.0M435.9 346.3h1.0M437.9 342.0h1.0M434.8 348.2h1.0M431.2 357.3h1.0M437.0 351.1h1.0M433.8 346.8h1.0M443.5 355.6h1.0M439.8 342.2h1.0M438.0 359.6h1.0M438.8 350.2h1.0M431.2 363.6h1.0M438.6 350.8h1.0M435.2 339.9h1.0M435.8 352.4h1.0M440.9 345.8h1.0M442.4 355.0h1.0M431.0 340.9h1.0M436.3 342.9h1.0M441.0 349.0h1.0M430.0 352.8h1.0M437.4 342.2h1.0M439.3 348.3h1.0M443.3 342.5h1.0M435.4 351.2h1.0M431.0 345.0h1.0M441.6 348.1h1.0M434.8 340.0h1.0M439.3 357.8h1.0M433.1 351.6h1.0M435.3 355.6h1.0M435.5 342.4h1.0M435.3 351.8h1.0M437.8 340.2h1.0M440.1 341.0h1.0M439.4 351.9h1.0M432.3 351.2h1.0M437.4 346.4h1.0M440.9 350.6h1.0M437.0 350.5h1.0M431.2 344.9h1.0M434.3 349.4h1.0M430.9 347.3h1.0M434.9 354.0h1.0M438.9 355.7h1.0M432.0 355.9h1.0M434.3 345.7h1.0M433.3 347.1h1.0M435.9 345.9h1.0M429.9 344.5h1.0M437.7 343.0h1.0M447.2 340.8h1.0M437.1 344.5h1.0M435.3 358.4h1.0M437.9 352.7h1.0M441.4 354.9h1.0M437.9 343.1h1.0M433.9 354.4h1.0M438.1 350.9h1.0M438.6 346.4h1.0M430.3 357.1h1.0M440.5 353.3h1.0M435.4 348.9h1.0M439.6 347.3h1.0M435.2 347.8h1.0M437.7 351.2h1.0M440.8 346.3h1.0M442.6 355.6h1.0M432.1 344.2h1.0M437.2 352.9h1.0M440.2 353.1h1.0M443.2 353.1h1.0M437.5 351.9h1.0M438.8 348.0h1.0M431.1 345.5h1.0M432.6 353.3h1.0M440.4 357.1h1.0M431.8 355.9h1.0M436.7 347.8h1.0M432.3 352.6h1.0M441.7 346.5h1.0M437.6 356.3h1.0M441.4 350.7h1.0M438.2 351.4h1.0M430.4 349.6h1.0M437.4 357.7h1.0M433.4 358.7h1.0M444.2 353.7h1.0M433.4 351.2h1.0M434.4 358.2h1.0M444.2 357.4h1.0M436.8 356.1h1.0M440.5 352.9h1.0M438.8 349.1h1.0M438.5 356.8h1.0M434.4 347.4h1.0M437.2 358.0h1.0M436.1 351.4h1.0M436.9 355.0h1.0M431.0 345.1h1.0M432.0 344.6h1.0M436.3 354.4h1.0M437.3 351.0h1.0M434.3 348.8h1.0M444.1 339.4h1.0M443.1 362.4h1.0M435.7 349.5h1.0M432.8 353.8h1.0M435.4 352.1h1.0M436.0 351.1h1.0M431.1 352.2h1.0M437.2 363.5h1.0M440.0 345.4h1.0M437.3 344.7h1.0M436.1 339.6h1.0M431.6 357.9h1.0M434.4 353.0h1.0M434.1 351.4h1.0M435.3 345.5h1.0M435.0 340.9h1.0M435.6 340.8h1.0M441.3 346.1h1.0M433.0 343.6h1.0M435.1 353.7h1.0M432.1 350.0h1.0M434.6 341.7h1.0M439.1 350.1h1.0M432.7 345.9h1.0M433.8 343.9h1.0M441.3 355.9h1.0M437.9 349.6h1.0M431.4 344.5h1.0M431.9 345.4h1.0M439.3 345.4h1.0M438.6 341.8h1.0M438.8 351.8h1.0M436.9 361.0h1.0M438.9 348.0h1.0M435.0 342.1h1.0M444.0 341.5h1.0M445.8 358.4h1.0M434.4 358.0h1.0M436.1 345.0h1.0M432.6 362.2h1.0M441.3 354.7h1.0M435.4 345.2h1.0M438.2 352.2h1.0M435.7 357.8h1.0M434.9 353.1h1.0M441.9 354.7h1.0M436.9 347.2h1.0M432.4 355.7h1.0M436.4 348.8h1.0M441.4 342.6h1.0M435.6 344.5h1.0M437.7 350.9h1.0M437.7 353.1h1.0M429.9 346.6h1.0M438.8 351.3h1.0M429.8 345.1h1.0M437.6 351.4h1.0M434.2 355.7h1.0M434.6 353.2h1.0M441.8 353.9h1.0M442.1 347.6h1.0M438.0 348.5h1.0M432.8 346.2h1.0M439.5 343.4h1.0M438.4 349.1h1.0M434.2 351.0h1.0M433.0 348.4h1.0M434.7 344.7h1.0M445.4 350.6h1.0M438.5 353.4h1.0M434.5 349.7h1.0M437.0 340.6h1.0M440.6 355.6h1.0M439.8 355.3h1.0M439.0 352.7h1.0M430.6 352.3h1.0M433.9 354.8h1.0M437.9 359.5h1.0M433.9 353.1h1.0M437.7 355.9h1.0M438.5 344.5h1.0M438.0 343.8h1.0M433.0 347.7h1.0M429.9 355.2h1.0M440.3 353.3h1.0M435.9 355.0h1.0M434.4 353.4h1.0M434.9 349.2h1.0M436.3 354.7h1.0M439.6 360.3h1.0M437.9 352.9h1.0M433.9 356.6h1.0M440.3 340.2h1.0M436.5 349.1h1.0M440.0 350.9h1.0M435.5 350.3h1.0M434.6 352.5h1.0M438.2 347.1h1.0M434.8 353.4h1.0M437.3 347.6h1.0M433.0 351.6h1.0M434.4 340.4h1.0M442.2 348.2h1.0M436.2 351.9h1.0M431.0 348.1h1.0M437.4 345.9h1.0M442.2 349.2h1.0M439.0 351.0h1.0M443.8 347.3h1.0M435.6 341.2h1.0M446.5 352.0h1.0M433.7 359.8h1.0M431.0 348.3h1.0M438.3 344.8h1.0M437.7 347.0h1.0M433.7 354.3h1.0M440.4 351.8h1.0M438.1 343.8h1.0M439.3 351.8h1.0M436.5 345.0h1.0M439.9 353.5h1.0M433.9 348.5h1.0M431.9 355.3h1.0M435.8 343.9h1.0M439.5 349.7h1.0M436.0 347.6h1.0M440.9 346.2h1.0M439.8 359.8h1.0M437.8 347.9h1.0M444.4 339.8h1.0M431.1 358.4h1.0M434.9 342.4h1.0M433.0 353.4h1.0M439.2 340.4h1.0M437.6 349.2h1.0M429.6 346.0h1.0M436.2 351.2h1.0M442.2 343.5h1.0M435.1 344.7h1.0M442.0 355.3h1.0M434.7 343.5h1.0M442.1 347.5h1.0M438.2 347.4h1.0M432.9 352.7h1.0M445.9 349.3h1.0M435.2 340.2h1.0M439.9 353.3h1.0M433.9 350.2h1.0M439.5 346.6h1.0M436.1 352.5h1.0M432.0 348.7h1.0M442.0 347.3h1.0M433.6 351.5h1.0M442.5 352.8h1.0M432.0 345.5h1.0M431.4 349.8h1.0M437.3 348.9h1.0M436.9 360.6h1.0M434.4 354.9h1.0M432.6 352.1h1.0M436.1 347.3h1.0M432.0 358.1h1.0M432.1 356.6h1.0M439.1 353.1h1.0M430.3 346.9h1.0M434.8 350.4h1.0M435.6 354.1h1.0M433.6 347.0h1.0M437.4 351.4h1.0M436.8 342.1h1.0M442.2 341.7h1.0M435.5 355.8h1.0M446.6 347.7h1.0M432.0 343.5h1.0M434.9 352.2h1.0M434.4 353.8h1.0M431.6 343.5h1.0M439.1 350.0h1.0M439.5 353.4h1.0M440.3 346.5h1.0M436.9 346.4h1.0M431.1 358.5h1.0M434.0 359.4h1.0M430.7 344.9h1.0M440.2 351.0h1.0M440.3 349.4h1.0M430.1 345.0h1.0M429.7 350.9h1.0M433.2 353.1h1.0M435.2 354.2h1.0M435.3 347.6h1.0M440.0 354.8h1.0M443.8 349.3h1.0M432.4 341.4h1.0M437.5 356.9h1.0M441.4 350.8h1.0M438.2 350.6h1.0M439.0 353.8h1.0M432.9 350.7h1.0M438.0 351.4h1.0M438.1 348.3h1.0M438.8 361.8h1.0M438.5 350.3h1.0M443.7 344.8h1.0M433.0 358.9h1.0M444.9 345.0h1.0M443.5 348.1h1.0M437.6 340.9h1.0" stroke="#3c5ee0" stroke-width="1.0" opacity="0.5" fill="none"/>
<ellipse cx="436.5" cy="353.5" rx="4" ry="4" fill="#3d66e4" opacity="0.7" filter="url(#bl1_5)"/>
<path d="M463.2 345.5h0.9M462.5 351.4h0.9M462.6 340.9h0.9M455.2 344.3h0.9M471.4 350.8h0.9M461.1 350.5h0.9M453.4 355.3h0.9M448.2 338.1h0.9M459.3 354.3h0.9M461.0 342.9h0.9M463.0 338.0h0.9M455.9 351.6h0.9M460.1 364.5h0.9M455.2 345.2h0.9M460.8 359.7h0.9M452.0 346.7h0.9M459.1 347.0h0.9M462.9 358.6h0.9M448.2 352.9h0.9M456.4 365.4h0.9M448.4 365.9h0.9M469.3 353.6h0.9M466.1 351.5h0.9M460.9 347.8h0.9M448.9 345.5h0.9M467.3 356.1h0.9M459.1 351.1h0.9M456.6 364.6h0.9M456.5 350.2h0.9M450.0 355.5h0.9M455.7 363.1h0.9M453.6 347.4h0.9M447.8 351.6h0.9M452.4 342.4h0.9M453.1 345.2h0.9M458.6 354.9h0.9M461.6 347.6h0.9M452.9 342.7h0.9M454.7 340.6h0.9M462.9 347.2h0.9M448.0 340.8h0.9M452.0 346.3h0.9M448.3 346.5h0.9M449.9 337.5h0.9M456.8 357.4h0.9M466.9 346.9h0.9M460.2 342.7h0.9M459.7 355.5h0.9M461.1 354.1h0.9M463.6 348.7h0.9M457.2 354.3h0.9M451.4 341.3h0.9M448.1 355.0h0.9M453.2 348.6h0.9M449.7 350.2h0.9M448.2 345.6h0.9M454.5 338.9h0.9M451.6 349.8h0.9M454.4 344.7h0.9M448.3 357.3h0.9M453.7 365.9h0.9M462.7 351.2h0.9M451.0 359.4h0.9M449.4 341.4h0.9M462.0 346.8h0.9M449.8 347.9h0.9M459.4 347.3h0.9M462.8 354.5h0.9M466.6 341.6h0.9M458.9 340.0h0.9M449.2 349.5h0.9M458.9 357.4h0.9M459.4 341.2h0.9M467.5 348.3h0.9M457.2 345.6h0.9M463.6 343.0h0.9M447.6 360.2h0.9M467.9 342.0h0.9M448.1 351.0h0.9M452.7 338.4h0.9M461.9 355.4h0.9M453.1 361.4h0.9M457.9 355.8h0.9M454.9 356.5h0.9M448.6 341.1h0.9M455.5 342.1h0.9M458.1 362.9h0.9M467.7 342.1h0.9M469.3 357.1h0.9M455.6 354.2h0.9M450.2 345.0h0.9M459.1 359.9h0.9M456.9 337.4h0.9M457.2 352.1h0.9M453.0 359.0h0.9M458.0 355.0h0.9M450.6 344.3h0.9M452.9 353.5h0.9M461.6 345.7h0.9M450.4 347.2h0.9M458.0 348.5h0.9M454.2 347.2h0.9M448.9 348.6h0.9M462.2 347.4h0.9M455.9 348.3h0.9M453.7 351.6h0.9M454.6 357.6h0.9M448.2 348.7h0.9M452.3 358.5h0.9M450.6 351.0h0.9M450.4 351.6h0.9M458.3 348.6h0.9M452.6 357.8h0.9M450.9 352.9h0.9M458.8 344.8h0.9M460.1 356.2h0.9M460.9 357.4h0.9M458.2 348.5h0.9M461.3 353.2h0.9M455.4 341.8h0.9M452.8 340.7h0.9M466.4 361.1h0.9M456.1 363.8h0.9M463.0 352.3h0.9M452.3 359.0h0.9M448.4 356.8h0.9M451.9 344.6h0.9M456.6 355.6h0.9M451.6 357.5h0.9" stroke="#7f98e8" stroke-width="0.9" opacity="0.35" fill="none"/>
<ellipse cx="454" cy="329" rx="7.5" ry="9" fill="#5a80e8" opacity="0.75" filter="url(#bl1_5)"/>
<path d="M457.9 328.5h1.0M452.3 336.0h1.0M461.1 329.4h1.0M460.5 330.9h1.0M449.8 325.9h1.0M458.3 328.7h1.0M456.4 329.3h1.0M454.5 338.8h1.0M453.7 323.4h1.0M456.2 326.6h1.0M454.9 336.7h1.0M450.1 341.1h1.0M448.8 322.2h1.0M450.9 327.1h1.0M458.5 329.5h1.0M452.6 333.3h1.0M455.0 320.4h1.0M459.2 336.0h1.0M455.3 327.5h1.0M460.7 330.0h1.0M458.6 323.8h1.0M448.9 328.8h1.0M454.7 321.9h1.0M452.7 333.8h1.0M461.1 327.9h1.0M459.5 332.1h1.0M447.9 332.6h1.0M451.7 341.7h1.0M453.4 341.5h1.0M448.0 326.8h1.0M448.3 326.2h1.0M450.4 334.0h1.0M453.3 335.5h1.0M453.8 331.4h1.0M453.2 330.1h1.0M452.9 326.7h1.0M457.6 326.1h1.0M453.1 336.5h1.0M451.9 338.3h1.0M450.2 341.8h1.0M455.6 329.5h1.0M459.6 322.8h1.0M453.4 337.6h1.0M450.2 334.5h1.0M453.0 336.4h1.0M448.3 319.7h1.0M453.7 336.8h1.0M458.6 326.2h1.0M448.6 325.5h1.0M455.2 321.0h1.0M453.6 334.8h1.0M462.0 329.5h1.0M457.7 320.2h1.0M462.3 327.2h1.0M457.4 332.3h1.0M456.1 327.7h1.0M460.4 321.6h1.0M456.1 332.3h1.0M453.2 320.3h1.0M460.0 330.4h1.0M457.7 340.0h1.0M453.2 328.8h1.0M453.4 329.5h1.0M462.7 322.0h1.0M453.9 328.6h1.0M457.6 327.2h1.0M449.0 320.7h1.0M451.7 327.9h1.0M454.2 338.7h1.0M457.5 333.1h1.0M458.7 326.5h1.0M458.2 336.1h1.0M448.8 337.6h1.0M447.8 337.4h1.0M455.4 325.7h1.0M448.8 327.1h1.0M461.9 338.2h1.0M450.2 335.9h1.0M465.4 334.4h1.0M461.5 327.9h1.0M459.0 335.5h1.0M448.4 330.3h1.0M454.6 332.4h1.0M457.8 322.2h1.0M453.8 319.2h1.0M448.9 333.4h1.0M451.6 337.3h1.0M452.7 334.7h1.0M455.2 329.8h1.0M454.2 330.1h1.0M449.7 331.7h1.0M455.1 327.8h1.0M456.2 328.7h1.0M456.3 324.1h1.0M454.2 337.2h1.0M453.4 329.9h1.0M459.1 335.6h1.0M453.8 339.3h1.0M450.7 335.0h1.0M453.1 335.1h1.0M457.3 326.7h1.0M449.5 327.8h1.0M452.6 320.4h1.0M462.2 335.4h1.0M452.6 319.7h1.0M461.2 331.4h1.0M457.4 324.4h1.0M453.5 319.8h1.0M451.5 329.3h1.0M456.9 334.7h1.0M454.4 328.2h1.0M457.0 324.8h1.0M448.9 336.0h1.0M450.3 326.8h1.0M456.9 334.2h1.0M452.5 319.9h1.0M455.5 331.8h1.0M454.6 328.0h1.0M449.0 328.1h1.0M460.1 324.9h1.0M454.3 331.2h1.0M447.8 330.3h1.0M458.4 331.1h1.0M456.0 324.7h1.0M455.2 332.5h1.0M463.3 324.4h1.0M450.3 332.0h1.0M464.4 321.0h1.0M458.7 321.9h1.0M462.9 338.6h1.0M458.1 337.5h1.0M453.1 330.3h1.0M451.9 325.1h1.0M456.4 326.5h1.0M451.3 323.4h1.0M457.9 330.4h1.0M450.9 338.6h1.0M455.7 332.6h1.0M450.9 332.8h1.0M456.3 338.7h1.0M460.2 329.3h1.0M456.9 332.9h1.0M452.5 335.5h1.0M461.6 325.3h1.0M453.9 332.9h1.0M448.4 321.2h1.0M453.0 322.0h1.0M453.2 323.7h1.0M461.8 325.9h1.0M456.0 321.9h1.0M458.9 325.7h1.0M459.2 327.0h1.0M458.2 327.4h1.0M447.6 328.2h1.0M455.8 325.9h1.0M452.3 322.0h1.0M452.0 330.7h1.0M466.6 319.3h1.0M453.0 321.3h1.0M457.8 331.6h1.0M453.0 331.2h1.0M450.6 333.1h1.0M452.4 330.2h1.0M462.3 339.9h1.0M450.6 327.5h1.0M449.5 330.8h1.0M450.9 329.3h1.0M456.5 322.2h1.0M452.7 330.8h1.0M453.4 327.5h1.0M454.7 327.4h1.0M450.9 328.6h1.0M452.9 333.1h1.0M448.1 322.7h1.0M458.4 324.3h1.0M455.3 329.6h1.0M456.3 330.6h1.0M455.9 333.5h1.0M459.7 338.5h1.0M450.4 334.3h1.0M454.7 325.3h1.0M452.6 329.0h1.0M450.1 326.9h1.0M450.1 323.7h1.0M466.6 326.8h1.0M456.8 320.6h1.0M455.0 325.2h1.0M457.1 339.9h1.0M453.1 329.5h1.0M453.9 325.8h1.0M457.5 339.4h1.0M453.1 339.6h1.0M449.3 334.2h1.0M450.8 320.3h1.0M456.0 337.6h1.0M455.9 332.9h1.0M454.5 325.6h1.0M451.9 330.5h1.0M451.3 327.2h1.0M448.4 331.4h1.0M457.8 329.9h1.0M459.5 334.2h1.0M455.8 332.1h1.0M459.1 336.7h1.0M451.6 324.9h1.0M452.4 333.4h1.0M447.8 326.7h1.0M455.9 331.6h1.0M451.2 325.5h1.0M452.4 325.8h1.0M455.6 330.3h1.0M457.9 323.2h1.0M458.7 329.7h1.0M451.6 325.9h1.0M454.2 328.5h1.0" stroke="#3d64e0" stroke-width="1.0" opacity="0.45" fill="none"/>
<ellipse cx="438" cy="324" rx="9.5" ry="13.5" fill="#5a82ea" opacity="0.8" filter="url(#bl1_5)"/>
<path d="M430.9 323.5h1.0M435.2 323.9h1.0M438.0 323.3h1.0M433.7 312.9h1.0M437.2 323.8h1.0M440.5 320.4h1.0M447.1 319.4h1.0M447.0 334.1h1.0M442.9 325.5h1.0M439.0 329.6h1.0M436.3 325.0h1.0M441.7 324.0h1.0M435.9 319.1h1.0M444.1 320.5h1.0M432.4 322.1h1.0M442.6 336.1h1.0M433.8 319.4h1.0M444.1 324.4h1.0M437.8 320.8h1.0M433.1 332.6h1.0M445.9 324.4h1.0M437.2 319.5h1.0M439.5 311.2h1.0M431.1 327.3h1.0M435.6 320.6h1.0M441.3 326.3h1.0M430.3 323.4h1.0M440.7 320.7h1.0M440.8 331.3h1.0M440.2 329.6h1.0M429.7 325.7h1.0M440.7 327.7h1.0M431.4 326.5h1.0M441.6 334.2h1.0M445.4 322.2h1.0M443.7 329.5h1.0M437.4 330.6h1.0M445.5 329.9h1.0M435.6 320.3h1.0M430.0 321.5h1.0M436.7 316.8h1.0M442.5 329.8h1.0M441.7 325.7h1.0M438.5 321.7h1.0M439.4 331.1h1.0M441.2 324.2h1.0M432.1 329.3h1.0M444.8 327.5h1.0M442.4 327.6h1.0M433.7 327.2h1.0M435.8 330.2h1.0M440.5 330.2h1.0M436.2 318.9h1.0M438.2 326.9h1.0M439.1 319.3h1.0M436.6 338.5h1.0M444.8 323.3h1.0M447.5 330.6h1.0M438.1 323.7h1.0M435.5 337.9h1.0M434.6 325.7h1.0M441.8 324.5h1.0M441.6 334.8h1.0M446.6 324.1h1.0M439.1 325.2h1.0M439.8 335.1h1.0M440.6 324.1h1.0M434.0 315.9h1.0M435.9 331.2h1.0M439.8 316.5h1.0M436.7 323.3h1.0M435.8 322.2h1.0M442.2 314.2h1.0M433.3 316.9h1.0M436.9 318.5h1.0M439.5 325.8h1.0M434.5 326.6h1.0M441.2 325.5h1.0M434.7 329.9h1.0M440.8 335.2h1.0M441.2 331.7h1.0M433.2 325.0h1.0M438.8 320.2h1.0M441.0 313.7h1.0M436.5 323.0h1.0M445.2 333.8h1.0M441.9 323.7h1.0M433.4 314.8h1.0M440.0 322.2h1.0M438.6 327.4h1.0M436.2 318.8h1.0M436.9 321.0h1.0M435.2 320.7h1.0M431.2 328.5h1.0M441.4 323.6h1.0M438.4 322.8h1.0M441.8 334.7h1.0M447.1 331.7h1.0M441.0 321.8h1.0M435.9 315.2h1.0M444.4 323.9h1.0M430.4 335.6h1.0M434.3 330.4h1.0M442.7 314.9h1.0M441.2 334.4h1.0M443.5 324.5h1.0M430.5 321.4h1.0M437.0 318.2h1.0M435.5 328.0h1.0M434.5 320.5h1.0M438.4 323.0h1.0M438.2 320.9h1.0M444.9 315.4h1.0M436.4 327.5h1.0M438.9 329.6h1.0M438.7 325.1h1.0M432.4 322.2h1.0M439.5 321.8h1.0M444.0 323.5h1.0M434.9 325.7h1.0M438.2 329.5h1.0M436.7 333.6h1.0M437.8 330.5h1.0M439.6 326.7h1.0M443.0 321.0h1.0M435.2 326.1h1.0M438.9 324.9h1.0M438.4 323.0h1.0M436.5 332.8h1.0M429.8 328.0h1.0M430.3 320.3h1.0M442.2 327.4h1.0M437.0 332.9h1.0M435.7 326.6h1.0M439.3 326.8h1.0M445.5 328.4h1.0M445.2 322.9h1.0M440.4 334.1h1.0M433.5 325.2h1.0M439.4 319.8h1.0M437.4 327.0h1.0M433.7 325.3h1.0M434.0 331.6h1.0M435.6 332.9h1.0M443.4 326.1h1.0M442.7 330.3h1.0M446.1 314.4h1.0M433.7 327.0h1.0M439.6 322.1h1.0M436.6 326.7h1.0M441.5 314.3h1.0M441.2 323.0h1.0M442.4 315.7h1.0M432.3 322.9h1.0M440.1 317.6h1.0M433.4 331.4h1.0M441.4 319.4h1.0M434.8 329.5h1.0M433.8 316.1h1.0M433.2 319.2h1.0M437.7 324.3h1.0M429.6 326.5h1.0M436.7 312.2h1.0M445.5 323.1h1.0M439.6 320.8h1.0M439.5 329.5h1.0M430.5 338.2h1.0M438.8 323.2h1.0M441.0 320.4h1.0M443.0 322.1h1.0M437.6 324.1h1.0M445.0 321.4h1.0M446.3 323.5h1.0M435.8 328.4h1.0M431.3 323.1h1.0M438.6 328.9h1.0M438.3 330.9h1.0M437.5 330.0h1.0M437.2 308.5h1.0M438.4 330.9h1.0M436.3 326.3h1.0M443.8 329.9h1.0M438.1 330.1h1.0M440.2 317.5h1.0M430.6 321.0h1.0M437.4 309.2h1.0M440.6 324.4h1.0M437.9 323.4h1.0M441.1 328.7h1.0M440.2 327.9h1.0M439.0 337.7h1.0M439.5 317.0h1.0M436.1 323.5h1.0M434.4 326.2h1.0M439.6 330.8h1.0M431.0 319.9h1.0M436.1 331.6h1.0M431.8 331.5h1.0M441.9 325.7h1.0M435.1 320.0h1.0M430.4 321.1h1.0M434.1 322.9h1.0M443.4 324.4h1.0M443.7 326.1h1.0M434.8 327.4h1.0M436.1 326.2h1.0M444.2 321.9h1.0M436.4 333.6h1.0M433.4 321.2h1.0M440.2 317.8h1.0M446.3 319.4h1.0M436.8 321.1h1.0M438.6 323.1h1.0M437.9 325.4h1.0M432.2 312.4h1.0M434.8 315.5h1.0M441.5 331.6h1.0M436.6 323.1h1.0M445.6 331.0h1.0M435.8 310.6h1.0M445.7 322.9h1.0M432.9 320.4h1.0M431.1 328.5h1.0M432.8 335.7h1.0M432.4 322.8h1.0M443.2 314.0h1.0M437.0 319.9h1.0M440.8 325.0h1.0M443.6 329.2h1.0M443.5 328.7h1.0M438.2 317.5h1.0M441.6 320.3h1.0M433.7 325.5h1.0M442.9 331.7h1.0M440.2 327.8h1.0M435.8 335.9h1.0M441.8 324.4h1.0M446.1 324.9h1.0M438.3 324.7h1.0M445.8 323.0h1.0M438.7 332.9h1.0M435.0 336.5h1.0M436.1 326.7h1.0M441.8 321.0h1.0M441.9 334.6h1.0M443.1 332.0h1.0M435.4 326.2h1.0M446.1 322.0h1.0M431.7 314.7h1.0M438.5 320.8h1.0M436.7 329.0h1.0M443.0 309.2h1.0M430.7 320.4h1.0M444.6 323.7h1.0M433.8 327.1h1.0M440.8 324.7h1.0" stroke="#3d64e0" stroke-width="1.0" opacity="0.45" fill="none"/>
<ellipse cx="437.8" cy="322.5" rx="7.2" ry="9.6" fill="#40bcd0" opacity="0.95" filter="url(#bl1_2)"/>
<ellipse cx="437.6" cy="322.3" rx="5.3" ry="7.2" fill="#68d04a" opacity="1" filter="url(#bl1_0)"/>
<ellipse cx="437.6" cy="323.8" rx="3.5" ry="3.7" fill="#e4e02c" opacity="1" filter="url(#bl0_8)"/>
<ellipse cx="437.6" cy="324.2" rx="2.1" ry="2.2" fill="#f0801a" opacity="1" filter="url(#bl0_6)"/>
<ellipse cx="437.6" cy="324.4" rx="1.0" ry="1.0" fill="#d8281a" opacity="1" filter="url(#bl0_6)"/>
<rect x="429.40" y="307.40" width="18.10" height="13.10" fill="none" stroke="#808080" stroke-width="0.9" />
<rect x="447.50" y="320.50" width="20.20" height="18.60" fill="none" stroke="#808080" stroke-width="0.9" />
<rect x="429.40" y="339.10" width="18.10" height="19.40" fill="none" stroke="#808080" stroke-width="0.9" />
<rect x="429.40" y="320.50" width="18.10" height="18.60" fill="none" stroke="#1c1c1c" stroke-width="1.15" />
<line x1="274.90" y1="376.90" x2="274.90" y2="345.20" stroke="#111" stroke-width="1.4" />
<polygon points="274.90,340.10 272.15,345.70 277.65,345.70" fill="#111"/>
<line x1="274.20" y1="376.20" x2="440.70" y2="376.20" stroke="#111" stroke-width="1.4" />
<polygon points="446.20,376.20 440.20,373.40 440.20,379.00" fill="#111"/>
<text x="276.80" y="328.10" font-size="9" text-anchor="middle" fill="#222222" textLength="15.50" lengthAdjust="spacingAndGlyphs" transform="rotate(-90 276.80 328.10)" stroke="#222222" stroke-width="0.3" >Ly6C</text>
<text x="449.60" y="378.70" font-size="10.6" text-anchor="start" fill="#222222" textLength="16.20" lengthAdjust="spacingAndGlyphs" stroke="#222222" stroke-width="0.3" >Ly6G</text>
<line x1="299.30" y1="394.50" x2="299.30" y2="482.20" stroke="#161616" stroke-width="1.4" />
<line x1="296.10" y1="397.50" x2="299.30" y2="397.50" stroke="#161616" stroke-width="1.4" />
<text x="293.60" y="400.34" font-size="7.9" text-anchor="end" fill="#222222" textLength="8.79" lengthAdjust="spacingAndGlyphs" stroke="#222222" stroke-width="0.3" >60</text>
<line x1="296.10" y1="425.50" x2="299.30" y2="425.50" stroke="#161616" stroke-width="1.4" />
<text x="293.60" y="428.34" font-size="7.9" text-anchor="end" fill="#222222" textLength="8.79" lengthAdjust="spacingAndGlyphs" stroke="#222222" stroke-width="0.3" >40</text>
<line x1="296.10" y1="453.50" x2="299.30" y2="453.50" stroke="#161616" stroke-width="1.4" />
<text x="293.60" y="456.34" font-size="7.9" text-anchor="end" fill="#222222" textLength="8.79" lengthAdjust="spacingAndGlyphs" stroke="#222222" stroke-width="0.3" >20</text>
<line x1="296.10" y1="481.50" x2="299.30" y2="481.50" stroke="#161616" stroke-width="1.4" />
<text x="293.60" y="484.34" font-size="7.9" text-anchor="end" fill="#222222" textLength="4.39" lengthAdjust="spacingAndGlyphs" stroke="#222222" stroke-width="0.3" >0</text>
<line x1="298.60" y1="481.50" x2="494.60" y2="481.50" stroke="#161616" stroke-width="1.4" />
<line x1="331.90" y1="481.50" x2="331.90" y2="483.70" stroke="#161616" stroke-width="1.26" />
<line x1="396.30" y1="481.50" x2="396.30" y2="483.70" stroke="#161616" stroke-width="1.26" />
<line x1="461.50" y1="481.50" x2="461.50" y2="483.70" stroke="#161616" stroke-width="1.26" />
<text x="278.10" y="437.80" font-size="10.6" text-anchor="middle" fill="#222222" textLength="37.00" lengthAdjust="spacingAndGlyphs" transform="rotate(-90 278.10 437.80)" stroke="#222222" stroke-width="0.3" >Percentage</text>
<rect x="313.93" y="393.62" width="5.95" height="5.95" fill="#3a5485" stroke="#141c34" stroke-width="1.25" />
<text x="323.40" y="398.50" font-size="7.3" text-anchor="start" fill="#222222" textLength="12.26" lengthAdjust="spacingAndGlyphs" stroke="#222222" stroke-width="0.3" >KM</text>
<rect x="313.93" y="405.73" width="5.95" height="5.95" fill="#a8163c" stroke="#3a0512" stroke-width="1.25" />
<text x="323.40" y="410.60" font-size="7.3" text-anchor="start" fill="#222222" textLength="26.90" lengthAdjust="spacingAndGlyphs" stroke="#222222" stroke-width="0.3" >KMUKO</text>
<g fill="#2b4169" stroke="#0f1729" stroke-width="0.9"><rect x="318.65" y="459.35" width="7.30" height="7.30"/><rect x="318.65" y="465.15" width="7.30" height="7.30"/><line x1="322.30" y1="460.10" x2="322.30" y2="471.70" stroke-width="0.9" stroke-opacity="0.8"/></g>
<line x1="314.10" y1="464.80" x2="330.50" y2="464.80" stroke="#0d0d0d" stroke-width="1.25" />
<line x1="317.10" y1="460.40" x2="327.50" y2="460.40" stroke="#0d0d0d" stroke-width="1.0" />
<line x1="317.10" y1="467.80" x2="327.50" y2="467.80" stroke="#0d0d0d" stroke-width="1.0" />
<g fill="#a01436" stroke="#34040f" stroke-width="0.9"><rect x="338.45" y="442.95" width="7.30" height="7.30"/><rect x="338.30" y="448.50" width="7.30" height="7.30"/><rect x="338.63" y="454.05" width="7.30" height="7.30"/><rect x="338.21" y="459.60" width="7.30" height="7.30"/><rect x="338.45" y="465.15" width="7.30" height="7.30"/><line x1="342.10" y1="443.70" x2="342.10" y2="471.70" stroke-width="0.9" stroke-opacity="0.8"/></g>
<line x1="333.70" y1="460.20" x2="350.50" y2="460.20" stroke="#0d0d0d" stroke-width="1.25" />
<line x1="336.90" y1="453.50" x2="347.30" y2="453.50" stroke="#0d0d0d" stroke-width="1.0" />
<line x1="336.90" y1="466.70" x2="347.30" y2="466.70" stroke="#0d0d0d" stroke-width="1.0" />
<g fill="#2b4169" stroke="#0f1729" stroke-width="0.9"><rect x="383.05" y="436.95" width="7.30" height="7.30"/><rect x="382.90" y="442.95" width="7.30" height="7.30"/><rect x="383.05" y="448.95" width="7.30" height="7.30"/><line x1="386.70" y1="437.70" x2="386.70" y2="455.50" stroke-width="0.9" stroke-opacity="0.8"/></g>
<line x1="378.20" y1="447.90" x2="395.20" y2="447.90" stroke="#0d0d0d" stroke-width="1.25" />
<line x1="381.50" y1="443.40" x2="391.90" y2="443.40" stroke="#0d0d0d" stroke-width="1.0" />
<line x1="381.50" y1="452.90" x2="391.90" y2="452.90" stroke="#0d0d0d" stroke-width="1.0" />
<g fill="#a01436" stroke="#34040f" stroke-width="0.9"><rect x="403.25" y="410.05" width="7.30" height="7.30"/><rect x="403.26" y="414.73" width="7.30" height="7.30"/><rect x="403.12" y="419.40" width="7.30" height="7.30"/><rect x="403.19" y="424.07" width="7.30" height="7.30"/><rect x="403.25" y="428.75" width="7.30" height="7.30"/><line x1="406.90" y1="410.80" x2="406.90" y2="435.30" stroke-width="0.9" stroke-opacity="0.8"/></g>
<line x1="398.90" y1="420.40" x2="414.90" y2="420.40" stroke="#0d0d0d" stroke-width="1.25" />
<line x1="401.70" y1="415.90" x2="412.10" y2="415.90" stroke="#0d0d0d" stroke-width="1.0" />
<line x1="401.70" y1="427.50" x2="412.10" y2="427.50" stroke="#0d0d0d" stroke-width="1.0" />
<line x1="384.20" y1="401.20" x2="406.90" y2="401.20" stroke="#2a2a2a" stroke-width="1.2" />
<line x1="384.20" y1="398.40" x2="384.20" y2="404.00" stroke="#1a1a1a" stroke-width="1.2" />
<line x1="406.90" y1="398.40" x2="406.90" y2="404.00" stroke="#1a1a1a" stroke-width="1.2" />
<circle cx="391.85" cy="394.20" r="1.15" fill="#1a1a1a"/>
<circle cx="395.55" cy="394.20" r="1.15" fill="#1a1a1a"/>
<circle cx="399.25" cy="394.20" r="1.15" fill="#1a1a1a"/>
<g fill="#2b4169" stroke="#0f1729" stroke-width="0.9"><rect x="447.65" y="408.75" width="7.30" height="7.30"/><rect x="447.41" y="413.62" width="7.30" height="7.30"/><rect x="447.73" y="418.50" width="7.30" height="7.30"/><rect x="447.44" y="423.38" width="7.30" height="7.30"/><rect x="447.65" y="428.25" width="7.30" height="7.30"/><line x1="451.30" y1="409.50" x2="451.30" y2="434.80" stroke-width="0.9" stroke-opacity="0.8"/></g>
<line x1="442.80" y1="425.80" x2="459.80" y2="425.80" stroke="#0d0d0d" stroke-width="1.25" />
<line x1="446.10" y1="421.20" x2="456.50" y2="421.20" stroke="#0d0d0d" stroke-width="1.0" />
<line x1="446.10" y1="430.70" x2="456.50" y2="430.70" stroke="#0d0d0d" stroke-width="1.0" />
<g fill="#a01436" stroke="#34040f" stroke-width="0.9"><rect x="467.85" y="435.65" width="7.30" height="7.30"/><rect x="467.74" y="440.48" width="7.30" height="7.30"/><rect x="467.65" y="445.32" width="7.30" height="7.30"/><rect x="467.95" y="450.15" width="7.30" height="7.30"/><rect x="467.71" y="454.98" width="7.30" height="7.30"/><rect x="467.88" y="459.82" width="7.30" height="7.30"/><rect x="467.85" y="464.65" width="7.30" height="7.30"/><line x1="471.50" y1="436.40" x2="471.50" y2="471.20" stroke-width="0.9" stroke-opacity="0.8"/></g>
<line x1="462.70" y1="451.40" x2="480.30" y2="451.40" stroke="#0d0d0d" stroke-width="1.25" />
<line x1="466.30" y1="442.30" x2="476.70" y2="442.30" stroke="#0d0d0d" stroke-width="1.0" />
<line x1="466.30" y1="461.30" x2="476.70" y2="461.30" stroke="#0d0d0d" stroke-width="1.0" />
<line x1="451.30" y1="401.20" x2="474.20" y2="401.20" stroke="#2a2a2a" stroke-width="1.2" />
<line x1="451.30" y1="398.40" x2="451.30" y2="404.00" stroke="#1a1a1a" stroke-width="1.2" />
<line x1="474.20" y1="398.40" x2="474.20" y2="404.00" stroke="#1a1a1a" stroke-width="1.2" />
<circle cx="459.05" cy="394.20" r="1.15" fill="#1a1a1a"/>
<circle cx="462.75" cy="394.20" r="1.15" fill="#1a1a1a"/>
<circle cx="466.45" cy="394.20" r="1.15" fill="#1a1a1a"/>
<text x="332.70" y="494.60" font-size="7.6" text-anchor="middle" fill="#222222" textLength="43.80" lengthAdjust="spacingAndGlyphs" stroke="#222222" stroke-width="0.3" >Ly6C<tspan font-size="4.8" dy="-2.6">hi</tspan><tspan dy="2.6">Ly6G</tspan><tspan font-size="4.8" dy="-2.6">-</tspan></text>
<text x="397.50" y="494.60" font-size="7.6" text-anchor="middle" fill="#222222" textLength="47.40" lengthAdjust="spacingAndGlyphs" stroke="#222222" stroke-width="0.3" >Ly6C<tspan font-size="4.8" dy="-2.6">int</tspan><tspan dy="2.6">Ly6G</tspan><tspan font-size="4.8" dy="-2.6">-</tspan></text>
<text x="461.00" y="494.60" font-size="7.6" text-anchor="middle" fill="#222222" textLength="47.10" lengthAdjust="spacingAndGlyphs" stroke="#222222" stroke-width="0.3" >Ly6C<tspan font-size="4.8" dy="-2.6">int</tspan><tspan dy="2.6">Ly6G</tspan><tspan font-size="4.8" dy="-2.6">+</tspan></text>
<line x1="306.90" y1="499.20" x2="487.50" y2="499.20" stroke="#161616" stroke-width="1.3" />
<text x="396.50" y="509.80" font-size="7.6" text-anchor="middle" fill="#222222" textLength="29.30" lengthAdjust="spacingAndGlyphs" stroke="#222222" stroke-width="0.3" >CD11b<tspan font-size="4.8" dy="-2.6">+</tspan></text>
<text x="9.40" y="526.00" font-size="11.3" font-weight="bold" fill="#0a0a0a" stroke="#0a0a0a" stroke-width="0.35">F</text>
<text x="18.90" y="562.80" font-size="7.4" text-anchor="start" fill="#222222" textLength="16.60" lengthAdjust="spacingAndGlyphs" stroke="#222222" stroke-width="0.3" >Lin<tspan font-size="4.6" dy="-2.8">-</tspan><tspan dy="2.8">-</tspan></text>
<rect x="20.20" y="565.20" width="54.10" height="54.20" fill="#fff" stroke="#c2c2c2" stroke-width="0.8" />
<line x1="74.30" y1="617.50" x2="74.30" y2="619.40" stroke="#999" stroke-width="0.8" />
<path d="M38.5 601.9h1.0M24.9 612.8h1.0M33.1 605.5h1.0M32.8 598.2h1.0M25.2 600.5h1.0M30.7 604.1h1.0M30.2 600.0h1.0M36.0 600.3h1.0M28.4 603.8h1.0M30.1 593.0h1.0M25.8 594.1h1.0M28.4 584.3h1.0M23.7 596.0h1.0M29.4 599.0h1.0M34.9 592.6h1.0M40.3 602.8h1.0M26.1 603.9h1.0M41.5 590.2h1.0M32.3 592.5h1.0M23.3 604.8h1.0M36.4 595.3h1.0M29.4 591.4h1.0M27.9 598.5h1.0M30.7 605.3h1.0M32.8 599.8h1.0M32.2 604.6h1.0M34.8 590.4h1.0M30.6 603.1h1.0M27.3 589.7h1.0M26.0 591.4h1.0M30.4 599.0h1.0M34.6 586.4h1.0M34.2 606.0h1.0M35.8 587.7h1.0M37.7 611.9h1.0M33.1 595.8h1.0M40.1 593.3h1.0M41.7 592.5h1.0M34.3 602.4h1.0M32.7 595.9h1.0M25.9 610.1h1.0M34.2 593.8h1.0M24.3 605.6h1.0M39.2 599.7h1.0M29.2 604.3h1.0M34.4 608.9h1.0M30.8 595.1h1.0M31.2 590.5h1.0M25.5 596.2h1.0M30.7 600.6h1.0M23.6 597.6h1.0M42.7 587.8h1.0M29.5 596.7h1.0M35.1 594.4h1.0M44.4 596.2h1.0M33.0 601.2h1.0M39.4 603.2h1.0M23.8 600.5h1.0M28.2 608.4h1.0M34.6 602.7h1.0M31.1 595.0h1.0M37.5 606.6h1.0M44.3 598.3h1.0M37.9 592.5h1.0M34.7 600.2h1.0M25.6 595.7h1.0M32.2 598.5h1.0M30.0 598.1h1.0M31.6 597.0h1.0M22.1 601.0h1.0M41.3 598.8h1.0M32.4 594.2h1.0M27.1 593.3h1.0M24.1 600.3h1.0M26.5 602.3h1.0M32.1 589.9h1.0M43.9 597.5h1.0M32.3 596.8h1.0M25.1 599.8h1.0M34.5 585.1h1.0M31.8 601.0h1.0M41.8 586.0h1.0M27.6 608.1h1.0M27.4 604.5h1.0M26.0 591.9h1.0M35.8 596.1h1.0M25.5 600.3h1.0M38.1 599.3h1.0M44.1 590.9h1.0M40.8 602.2h1.0M36.4 605.3h1.0M30.0 597.9h1.0M24.1 594.9h1.0M27.5 607.1h1.0M29.0 602.4h1.0M31.1 616.7h1.0M27.0 593.4h1.0M35.1 587.5h1.0M31.7 592.9h1.0M26.8 598.5h1.0M43.0 606.3h1.0M36.1 603.3h1.0M34.3 595.2h1.0M32.5 599.2h1.0M35.0 606.2h1.0M25.1 590.6h1.0M39.6 592.1h1.0M37.4 602.2h1.0M30.8 601.3h1.0M36.5 598.8h1.0M40.5 600.0h1.0M38.8 602.0h1.0M32.7 605.4h1.0M30.7 595.3h1.0M31.1 600.6h1.0M29.5 605.4h1.0M33.4 602.1h1.0M29.6 601.6h1.0M35.4 597.9h1.0M30.2 601.9h1.0M32.9 595.8h1.0M36.2 603.1h1.0M42.0 591.8h1.0M24.4 601.9h1.0M42.1 606.7h1.0M31.6 594.7h1.0M33.2 596.5h1.0M27.0 600.6h1.0M27.7 597.8h1.0M27.4 598.5h1.0M34.2 600.3h1.0M32.9 592.6h1.0M23.4 599.2h1.0M31.4 604.5h1.0M23.8 606.4h1.0M30.8 592.3h1.0M28.2 596.7h1.0M38.9 596.8h1.0M33.2 593.7h1.0M23.9 594.8h1.0M22.4 597.6h1.0M30.2 612.2h1.0M28.8 607.7h1.0M35.0 605.6h1.0M32.5 598.9h1.0M34.1 608.1h1.0M26.9 591.1h1.0M28.1 589.7h1.0M29.0 597.6h1.0M27.2 598.4h1.0M38.0 600.3h1.0M37.6 598.8h1.0M32.0 590.2h1.0M38.2 602.1h1.0M39.5 599.3h1.0M28.0 614.5h1.0M25.3 585.8h1.0M35.7 592.5h1.0M24.9 601.7h1.0M26.9 612.4h1.0M43.0 615.2h1.0M28.4 606.4h1.0M27.8 596.2h1.0M30.1 598.5h1.0M33.3 597.6h1.0M39.1 590.1h1.0M33.6 588.6h1.0M34.3 608.4h1.0M39.9 604.4h1.0M32.4 595.3h1.0M29.3 601.1h1.0M27.3 590.6h1.0M38.5 603.5h1.0M34.0 597.0h1.0M35.2 596.9h1.0M33.8 600.3h1.0M31.7 595.4h1.0M35.2 594.2h1.0M40.3 606.4h1.0M30.1 603.3h1.0M36.2 600.1h1.0M25.3 602.0h1.0M29.5 598.6h1.0M43.0 600.3h1.0M23.6 605.1h1.0M37.3 594.2h1.0M31.3 595.1h1.0M33.1 608.2h1.0M32.4 609.9h1.0M30.2 606.4h1.0M26.9 605.2h1.0M40.6 607.0h1.0M40.4 606.7h1.0M31.8 605.1h1.0M36.5 601.7h1.0M36.5 598.2h1.0M27.0 610.1h1.0M32.7 611.7h1.0M42.1 597.1h1.0M40.8 603.1h1.0M33.9 587.9h1.0M29.2 598.4h1.0M28.3 591.7h1.0M22.1 601.1h1.0M33.7 606.2h1.0M23.6 589.0h1.0M43.0 599.1h1.0M31.0 607.3h1.0M25.5 598.8h1.0M36.1 603.2h1.0M36.3 597.1h1.0M39.9 589.9h1.0M32.3 599.9h1.0M29.6 606.2h1.0M38.1 611.8h1.0M24.7 596.4h1.0M21.9 591.5h1.0M24.6 599.1h1.0M26.8 602.1h1.0M39.3 598.1h1.0M29.1 600.1h1.0M30.4 598.4h1.0M27.8 600.9h1.0M28.5 603.1h1.0M32.4 607.4h1.0M34.6 603.6h1.0M31.0 596.8h1.0M34.7 594.1h1.0M33.7 611.7h1.0M27.7 604.7h1.0M34.9 600.0h1.0M37.4 596.9h1.0M24.8 603.7h1.0M34.2 602.1h1.0M36.5 592.5h1.0M26.9 612.7h1.0M30.0 607.4h1.0M33.8 586.6h1.0M32.6 605.3h1.0M24.5 599.2h1.0M25.5 598.0h1.0M32.3 594.8h1.0M23.9 604.2h1.0M34.8 596.6h1.0M27.7 606.2h1.0M30.8 608.3h1.0M35.2 598.1h1.0M37.1 587.2h1.0M26.4 600.5h1.0M36.6 606.0h1.0M34.5 594.3h1.0M31.2 613.1h1.0M35.4 607.5h1.0M32.2 591.7h1.0M29.5 609.1h1.0M27.3 608.9h1.0M34.3 587.9h1.0M31.9 596.4h1.0M30.5 610.3h1.0M23.9 588.8h1.0M29.7 600.9h1.0M33.1 601.0h1.0M26.8 598.5h1.0M43.2 603.6h1.0M36.2 602.6h1.0M32.8 589.5h1.0M21.8 604.2h1.0M24.5 604.8h1.0M33.3 599.3h1.0M24.8 596.1h1.0M38.8 598.1h1.0M31.3 603.8h1.0M28.4 598.6h1.0M23.3 614.2h1.0M33.0 604.3h1.0M28.3 592.7h1.0M35.6 596.6h1.0M31.8 592.8h1.0M43.8 599.4h1.0M33.3 606.3h1.0M25.4 601.3h1.0M24.4 594.2h1.0M36.2 608.2h1.0M34.0 593.6h1.0M31.0 605.3h1.0M29.3 597.8h1.0M32.6 605.8h1.0M28.1 589.3h1.0M28.5 598.9h1.0M30.3 602.0h1.0M37.6 599.8h1.0M33.7 595.5h1.0M31.0 603.8h1.0M25.1 606.9h1.0M26.9 598.0h1.0M34.5 604.0h1.0M31.9 595.7h1.0M42.0 599.3h1.0M31.7 600.5h1.0M32.2 598.1h1.0M28.3 592.8h1.0M25.3 604.8h1.0M40.6 601.3h1.0M32.3 598.4h1.0M29.4 613.1h1.0M32.5 603.7h1.0M35.1 599.7h1.0M32.0 600.7h1.0M35.1 604.2h1.0M40.4 597.1h1.0M33.8 606.4h1.0M28.4 598.8h1.0M34.8 601.6h1.0M31.0 601.8h1.0M25.7 601.3h1.0M21.7 595.6h1.0M21.0 608.4h1.0M35.8 598.5h1.0M23.3 600.0h1.0M36.1 604.0h1.0M29.4 596.1h1.0M36.9 598.7h1.0M22.8 595.0h1.0M28.2 610.1h1.0M30.5 588.0h1.0M29.4 605.8h1.0M26.3 596.2h1.0M24.5 601.5h1.0M31.7 596.1h1.0M32.2 603.5h1.0M27.8 599.5h1.0M34.9 598.0h1.0M22.6 603.9h1.0M31.0 602.8h1.0M32.5 610.9h1.0M23.8 613.7h1.0M34.1 604.9h1.0M26.5 600.2h1.0M30.8 603.1h1.0M22.4 599.6h1.0M20.7 614.8h1.0M27.7 595.4h1.0M28.5 604.2h1.0M36.6 604.5h1.0M21.9 597.3h1.0M32.7 600.8h1.0M35.8 596.4h1.0M29.7 585.8h1.0M30.8 604.3h1.0M32.4 594.2h1.0M31.3 600.0h1.0M26.4 596.2h1.0M32.4 604.4h1.0M42.0 593.3h1.0M29.7 605.7h1.0M28.8 605.5h1.0M21.1 611.9h1.0M36.7 600.7h1.0M24.3 597.1h1.0M27.1 609.7h1.0M28.7 601.7h1.0M34.7 597.5h1.0M27.9 584.5h1.0M36.0 610.3h1.0M32.4 593.6h1.0M34.1 598.1h1.0M25.0 605.9h1.0M22.9 601.0h1.0M30.7 588.9h1.0M31.7 595.2h1.0M25.9 589.8h1.0M31.4 595.6h1.0M30.6 599.6h1.0M39.3 598.2h1.0M31.7 609.5h1.0M28.8 608.3h1.0M34.0 586.5h1.0M39.5 598.9h1.0M25.1 598.0h1.0M32.3 601.5h1.0M42.9 587.9h1.0M33.2 596.0h1.0M28.9 596.7h1.0M27.2 611.1h1.0M32.3 599.5h1.0M33.1 589.2h1.0M30.5 596.3h1.0M26.1 609.3h1.0M32.5 604.1h1.0M28.2 600.6h1.0M31.2 604.1h1.0M32.1 603.2h1.0M27.2 603.3h1.0M33.7 603.4h1.0M29.8 601.5h1.0M31.0 602.0h1.0M31.3 596.4h1.0M28.6 600.7h1.0M30.8 597.2h1.0M32.6 604.0h1.0M33.2 598.1h1.0M32.3 588.0h1.0M34.4 593.6h1.0" stroke="#3444e0" stroke-width="1.0" opacity="0.6" fill="none"/>
<ellipse cx="31.6" cy="599.8" rx="9.6" ry="13" fill="#3040e0" opacity="1" filter="url(#bl1_3)" transform="rotate(-6 31.6 599.8)"/>
<ellipse cx="30.6" cy="600.2" rx="7.2" ry="10.2" fill="#2f7ef0" opacity="1" filter="url(#bl1_1)" transform="rotate(-6 30.6 600.2)"/>
<ellipse cx="30.0" cy="600.3" rx="5.6" ry="8.6" fill="#3fd0e0" opacity="1" filter="url(#bl1_0)" transform="rotate(-6 30.0 600.3)"/>
<ellipse cx="29.7" cy="600.4" rx="4.5" ry="7.2" fill="#5ad24a" opacity="1" filter="url(#bl0_9)" transform="rotate(-6 29.7 600.4)"/>
<ellipse cx="29.5" cy="600.4" rx="3.1" ry="5.2" fill="#e6e02e" opacity="1" filter="url(#bl0_7)" transform="rotate(-4 29.5 600.4)"/>
<ellipse cx="29.4" cy="600.4" rx="2.0" ry="3.5" fill="#f08a1a" opacity="1" filter="url(#bl0_6)"/>
<ellipse cx="29.4" cy="600.4" rx="1.0" ry="2.0" fill="#c8301a" opacity="1" filter="url(#bl0_5)"/>
<text x="28.80" y="575.70" font-size="5.1" text-anchor="start" fill="#d2a0c6" textLength="29.50" lengthAdjust="spacingAndGlyphs" >CD34+cKit+</text>
<rect x="32.50" y="577.50" width="17.80" height="16.00" fill="none" stroke="#d2a0c6" stroke-width="0.7" stroke-opacity="0.75"/>
<text x="36.80" y="617.80" font-size="5.1" text-anchor="start" fill="#d2a0c6" textLength="24.60" lengthAdjust="spacingAndGlyphs" >CD34-cKit-</text>
<line x1="42.30" y1="567.90" x2="42.30" y2="552.70" stroke="#111" stroke-width="1.4" />
<line x1="41.60" y1="552.70" x2="66.10" y2="552.70" stroke="#111" stroke-width="1.4" />
<polygon points="71.80,552.70 65.60,549.80 65.60,555.60" fill="#111"/>
<line x1="18.90" y1="624.00" x2="18.90" y2="599.00" stroke="#111" stroke-width="1.4" />
<polygon points="18.90,594.20 16.30,599.50 21.50,599.50" fill="#111"/>
<line x1="18.20" y1="623.10" x2="36.80" y2="623.10" stroke="#111" stroke-width="1.4" />
<polygon points="41.70,623.10 36.30,620.50 36.30,625.70" fill="#111"/>
<text x="22.00" y="584.90" font-size="7.3" text-anchor="middle" fill="#222222" textLength="12.30" lengthAdjust="spacingAndGlyphs" transform="rotate(-90 22.00 584.90)" stroke="#222222" stroke-width="0.3" >cKit</text>
<text x="42.90" y="626.80" font-size="9.2" text-anchor="start" fill="#222222" textLength="18.50" lengthAdjust="spacingAndGlyphs" stroke="#222222" stroke-width="0.3" >CD34</text>
<line x1="30.20" y1="629.80" x2="30.20" y2="640.40" stroke="#111" stroke-width="1.4" />
<line x1="29.50" y1="640.40" x2="67.20" y2="640.40" stroke="#111" stroke-width="1.4" />
<polygon points="72.90,640.40 66.70,637.50 66.70,643.30" fill="#111"/>
<line x1="82.10" y1="657.90" x2="82.10" y2="588.00" stroke="#111" stroke-width="1.4" />
<polygon points="82.10,582.50 79.30,588.50 84.90,588.50" fill="#111"/>
<line x1="81.40" y1="657.20" x2="170.40" y2="657.20" stroke="#111" stroke-width="1.4" />
<polygon points="176.10,657.20 169.90,654.40 169.90,660.00" fill="#111"/>
<text x="84.80" y="562.85" font-size="10.2" text-anchor="middle" fill="#222222" textLength="30.70" lengthAdjust="spacingAndGlyphs" transform="rotate(-90 84.80 562.85)" stroke="#222222" stroke-width="0.3" >CD16/32</text>
<text x="178.20" y="659.50" font-size="10.4" text-anchor="start" fill="#222222" textLength="16.70" lengthAdjust="spacingAndGlyphs" stroke="#222222" stroke-width="0.3" >Ly6G</text>
<text x="116.20" y="533.00" font-size="7.4" text-anchor="middle" fill="#222222" textLength="12.10" lengthAdjust="spacingAndGlyphs" stroke="#222222" stroke-width="0.3" >KM</text>
<text x="172.50" y="533.00" font-size="7.4" text-anchor="middle" fill="#222222" textLength="32.30" lengthAdjust="spacingAndGlyphs" stroke="#222222" stroke-width="0.3" >KM UKO</text>
<rect x="89.20" y="536.40" width="53.50" height="53.60" fill="#fff" stroke="#c4c4c4" stroke-width="0.8" />
<line x1="89.60" y1="546.05" x2="90.80" y2="546.05" stroke="#888" stroke-width="0.7" />
<line x1="89.60" y1="557.84" x2="90.80" y2="557.84" stroke="#888" stroke-width="0.7" />
<line x1="89.60" y1="569.63" x2="90.80" y2="569.63" stroke="#888" stroke-width="0.7" />
<line x1="89.60" y1="579.28" x2="90.80" y2="579.28" stroke="#888" stroke-width="0.7" />
<circle cx="90.10" cy="583.57" r="0.8" fill="#333"/>
<rect x="93.48" y="589.40" width="10.70" height="1.6" fill="#444" opacity="0.8"/>
<circle cx="98.83" cy="590.20" r="1" fill="#222"/>
<line x1="109.53" y1="589.80" x2="109.53" y2="591.00" stroke="#888" stroke-width="0.7" />
<line x1="117.02" y1="589.80" x2="117.02" y2="591.00" stroke="#888" stroke-width="0.7" />
<line x1="123.44" y1="589.80" x2="123.44" y2="591.00" stroke="#888" stroke-width="0.7" />
<line x1="130.93" y1="589.80" x2="130.93" y2="591.00" stroke="#888" stroke-width="0.7" />
<line x1="137.35" y1="589.80" x2="137.35" y2="591.00" stroke="#888" stroke-width="0.7" />
<rect x="90.00" y="552.60" width="15.00" height="29.40" fill="none" stroke="#d2a0c6" stroke-width="0.75" />
<rect x="105.00" y="552.60" width="14.40" height="29.40" fill="none" stroke="#d2a0c6" stroke-width="0.75" />
<rect x="119.40" y="552.60" width="13.30" height="29.40" fill="none" stroke="#d2a0c6" stroke-width="0.75" />
<text x="96.60" y="548.50" font-size="5.6" text-anchor="middle" fill="#8c7088" >1</text>
<text x="110.50" y="548.50" font-size="5.6" text-anchor="middle" fill="#8c7088" >2</text>
<text x="125.80" y="548.50" font-size="5.6" text-anchor="middle" fill="#8c7088" >3</text>
<ellipse cx="96" cy="569.5" rx="6.5" ry="5.5" fill="#b9bdf0" opacity="0.8" filter="url(#bl2_0)"/>
<path d="M92.8 571.1h0.9M93.4 566.2h0.9M94.8 565.9h0.9M99.0 565.5h0.9M95.5 573.1h0.9M97.0 577.2h0.9M99.9 570.5h0.9M91.1 571.6h0.9M100.8 572.7h0.9M98.2 571.6h0.9M95.4 570.8h0.9M97.4 569.5h0.9M101.0 566.5h0.9M100.8 567.5h0.9M91.8 568.4h0.9M92.6 568.5h0.9M98.4 573.7h0.9M99.0 560.2h0.9M100.6 566.9h0.9M97.4 573.8h0.9M100.1 575.4h0.9M96.1 566.1h0.9M92.3 576.1h0.9M94.5 570.0h0.9M93.9 566.3h0.9M101.8 574.1h0.9M96.7 571.7h0.9M93.0 569.0h0.9M93.8 572.8h0.9M100.8 567.5h0.9M104.0 566.0h0.9M103.1 570.5h0.9M97.0 564.0h0.9M95.2 564.4h0.9M98.5 577.3h0.9M96.8 567.0h0.9M93.5 569.0h0.9M96.5 574.4h0.9M96.3 569.8h0.9M91.9 566.2h0.9M96.8 569.1h0.9M95.2 571.1h0.9M102.2 566.3h0.9M98.6 572.7h0.9M93.9 565.0h0.9M91.0 570.0h0.9M96.4 570.7h0.9M98.6 573.0h0.9M101.2 575.2h0.9M95.8 570.0h0.9M92.4 565.4h0.9M95.8 565.7h0.9M101.2 566.8h0.9M102.5 567.0h0.9M95.4 573.2h0.9M97.5 574.3h0.9M92.6 572.0h0.9M94.3 571.1h0.9M90.6 566.5h0.9M94.8 571.0h0.9M91.8 566.3h0.9M102.3 567.4h0.9M91.5 567.9h0.9M97.0 572.5h0.9M93.9 571.6h0.9M95.6 571.7h0.9M100.1 572.2h0.9M94.6 561.5h0.9M97.6 568.6h0.9M91.0 562.8h0.9M97.9 570.4h0.9M98.5 569.8h0.9M103.8 567.1h0.9M96.2 569.8h0.9M102.3 573.9h0.9M93.7 573.6h0.9M93.3 572.3h0.9M99.8 570.9h0.9M94.4 563.5h0.9M93.7 567.5h0.9M98.8 569.9h0.9M91.4 567.0h0.9M91.1 573.4h0.9M100.5 568.8h0.9M92.9 566.1h0.9M95.8 577.1h0.9M99.7 571.2h0.9M100.6 567.4h0.9M93.9 571.0h0.9M91.4 573.7h0.9M93.7 565.1h0.9M99.6 568.5h0.9M94.8 574.3h0.9M101.7 567.2h0.9M100.7 564.4h0.9M101.6 570.2h0.9M96.2 574.8h0.9M97.7 563.3h0.9M97.4 572.6h0.9M100.1 575.0h0.9M94.6 565.2h0.9M93.6 570.1h0.9M102.6 567.8h0.9M90.9 569.6h0.9M96.8 572.0h0.9M101.6 571.2h0.9M97.2 567.0h0.9M97.5 573.0h0.9M94.6 575.3h0.9M96.1 572.2h0.9M95.5 567.8h0.9M96.8 570.4h0.9M93.2 565.0h0.9M97.6 572.0h0.9M96.8 568.6h0.9M95.1 563.0h0.9M94.0 567.0h0.9M95.4 561.6h0.9M90.8 567.8h0.9M101.8 568.7h0.9M93.9 569.6h0.9M91.8 569.8h0.9M94.0 565.9h0.9M96.1 571.8h0.9M96.0 564.9h0.9M96.3 567.2h0.9M94.1 570.1h0.9M97.7 572.4h0.9M94.5 578.1h0.9M99.8 572.1h0.9M103.0 573.5h0.9M102.3 573.7h0.9M94.5 572.5h0.9M100.6 572.3h0.9M101.3 571.8h0.9M92.9 568.9h0.9M92.3 565.1h0.9M104.1 572.6h0.9M101.1 565.1h0.9M99.3 568.0h0.9M98.9 572.2h0.9M101.2 566.9h0.9M101.2 573.2h0.9M97.6 565.9h0.9M91.2 563.8h0.9M97.3 567.9h0.9M98.0 573.8h0.9M94.1 571.9h0.9M100.3 569.5h0.9" stroke="#6f78d8" stroke-width="0.9" opacity="0.5" fill="none"/>
<path d="M116.1 570.9h0.8M112.8 574.8h0.8M111.3 570.5h0.8M114.3 575.3h0.8M107.9 575.6h0.8M113.0 572.0h0.8M117.7 567.5h0.8M108.6 566.7h0.8M112.8 573.1h0.8M106.3 573.1h0.8M107.4 572.1h0.8M112.3 575.0h0.8M115.3 561.9h0.8M109.0 574.2h0.8M114.5 567.1h0.8M114.1 572.9h0.8M111.8 571.3h0.8M115.8 564.5h0.8M110.8 574.5h0.8M113.2 570.5h0.8M108.5 572.6h0.8M111.8 564.9h0.8" stroke="#9098e0" stroke-width="0.8" opacity="0.4" fill="none"/>
<ellipse cx="123.8" cy="569" rx="5" ry="4" fill="#5060d0" opacity="0.85" filter="url(#bl1_0)"/>
<ellipse cx="125.2" cy="567.8" rx="3.4" ry="2.7" fill="#3a4aa8" opacity="0.9" filter="url(#bl0_6)"/>
<ellipse cx="125.3" cy="567.6" rx="2.6" ry="2.0" fill="#4cb050" opacity="1" filter="url(#bl0_6)"/>
<ellipse cx="125.6" cy="567.5" rx="1.4" ry="1.1" fill="#8ad040" opacity="1" filter="url(#bl0_5)"/>
<rect x="146.20" y="536.40" width="53.90" height="53.60" fill="#fff" stroke="#9a9a9a" stroke-width="0.8" />
<line x1="146.60" y1="546.05" x2="147.80" y2="546.05" stroke="#888" stroke-width="0.7" />
<line x1="146.60" y1="557.84" x2="147.80" y2="557.84" stroke="#888" stroke-width="0.7" />
<line x1="146.60" y1="569.63" x2="147.80" y2="569.63" stroke="#888" stroke-width="0.7" />
<line x1="146.60" y1="579.28" x2="147.80" y2="579.28" stroke="#888" stroke-width="0.7" />
<circle cx="147.10" cy="583.57" r="0.8" fill="#333"/>
<rect x="150.51" y="589.40" width="10.78" height="1.6" fill="#444" opacity="0.8"/>
<circle cx="155.90" cy="590.20" r="1" fill="#222"/>
<line x1="166.68" y1="589.80" x2="166.68" y2="591.00" stroke="#888" stroke-width="0.7" />
<line x1="174.23" y1="589.80" x2="174.23" y2="591.00" stroke="#888" stroke-width="0.7" />
<line x1="180.70" y1="589.80" x2="180.70" y2="591.00" stroke="#888" stroke-width="0.7" />
<line x1="188.24" y1="589.80" x2="188.24" y2="591.00" stroke="#888" stroke-width="0.7" />
<line x1="194.71" y1="589.80" x2="194.71" y2="591.00" stroke="#888" stroke-width="0.7" />
<rect x="146.50" y="552.60" width="15.90" height="29.40" fill="none" stroke="#d2a0c6" stroke-width="0.75" />
<rect x="162.40" y="552.60" width="14.00" height="29.40" fill="none" stroke="#d2a0c6" stroke-width="0.75" />
<rect x="176.40" y="552.60" width="14.10" height="29.40" fill="none" stroke="#d2a0c6" stroke-width="0.75" />
<text x="153.60" y="548.50" font-size="5.6" text-anchor="middle" fill="#8c7088" >1</text>
<text x="167.80" y="548.50" font-size="5.6" text-anchor="middle" fill="#8c7088" >2</text>
<text x="183.40" y="548.50" font-size="5.6" text-anchor="middle" fill="#8c7088" >3</text>
<ellipse cx="154" cy="564.5" rx="6.5" ry="3.4" fill="#8a92dc" opacity="0.8" filter="url(#bl1_2)"/>
<ellipse cx="154" cy="564.2" rx="4.2" ry="2.0" fill="#5860c4" opacity="0.75" filter="url(#bl1_0)"/>
<path d="M147.0 561.5h0.9M151.8 564.0h0.9M150.8 564.9h0.9M160.1 562.6h0.9M158.6 567.2h0.9M149.8 561.6h0.9M157.2 567.6h0.9M157.3 566.7h0.9M151.6 566.8h0.9M150.0 566.6h0.9M157.8 567.0h0.9M159.5 566.8h0.9M158.5 565.6h0.9M161.0 565.1h0.9M160.2 563.5h0.9M149.7 565.8h0.9M154.1 564.0h0.9M151.2 567.3h0.9M156.1 567.4h0.9M152.7 566.1h0.9M150.4 563.6h0.9M157.5 567.2h0.9M154.8 568.2h0.9M151.3 568.6h0.9M153.8 564.9h0.9M150.5 568.6h0.9M150.4 568.7h0.9M159.9 560.7h0.9M154.0 562.4h0.9M152.3 565.1h0.9M153.1 566.9h0.9M156.1 560.8h0.9M149.4 561.9h0.9M148.8 566.5h0.9M153.6 565.3h0.9M151.7 566.3h0.9M156.3 567.2h0.9M153.3 566.1h0.9M150.2 570.7h0.9M154.8 562.4h0.9M154.4 567.9h0.9M151.2 568.0h0.9M152.9 568.4h0.9M154.3 563.0h0.9M154.9 568.2h0.9M155.7 562.4h0.9M152.2 564.4h0.9M152.5 565.8h0.9M150.6 561.2h0.9M153.1 564.4h0.9M153.4 565.3h0.9M151.3 561.2h0.9M155.9 568.8h0.9M156.1 565.4h0.9M156.5 564.2h0.9M148.5 560.3h0.9M154.5 562.3h0.9M150.3 566.1h0.9M157.9 568.6h0.9M147.3 564.5h0.9M151.1 565.2h0.9M153.9 566.3h0.9M153.1 562.1h0.9M151.5 566.8h0.9M154.6 567.0h0.9M154.1 568.0h0.9M150.1 566.4h0.9M155.9 563.0h0.9M150.3 563.1h0.9M159.1 563.9h0.9M157.4 564.0h0.9M155.0 566.6h0.9M154.8 563.9h0.9M152.0 569.7h0.9M159.8 566.5h0.9M151.8 566.1h0.9M161.5 563.3h0.9M154.5 566.3h0.9M152.5 564.7h0.9M157.4 564.3h0.9M153.5 565.8h0.9M148.9 565.2h0.9M158.3 567.8h0.9M161.1 562.6h0.9M150.6 565.9h0.9M151.3 563.1h0.9M151.1 565.5h0.9M155.1 565.9h0.9M148.1 560.9h0.9M157.1 564.8h0.9M154.5 566.0h0.9M159.9 567.8h0.9M151.8 567.0h0.9M156.1 568.7h0.9M157.6 570.8h0.9M150.3 566.5h0.9M151.1 565.0h0.9M158.2 563.5h0.9M149.9 561.0h0.9M156.5 566.4h0.9M155.1 567.9h0.9M153.4 570.3h0.9M155.0 567.4h0.9M151.1 566.2h0.9M152.8 562.2h0.9M155.1 562.8h0.9M157.9 560.9h0.9M156.6 564.2h0.9M155.1 570.0h0.9M151.6 569.4h0.9" stroke="#4a52b8" stroke-width="0.9" opacity="0.45" fill="none"/>
<ellipse cx="177" cy="566.4" rx="10" ry="3.3" fill="#a2a8e2" opacity="0.75" filter="url(#bl1_2)"/>
<ellipse cx="180" cy="566.6" rx="4.5" ry="2.2" fill="#7078cc" opacity="0.65" filter="url(#bl1_0)"/>
<path d="M163.9 572.0h0.9M180.9 565.0h0.9M185.7 567.3h0.9M170.6 566.0h0.9M182.3 565.4h0.9M171.1 566.6h0.9M175.0 563.3h0.9M186.1 572.6h0.9M175.3 568.6h0.9M174.8 563.9h0.9M178.5 564.0h0.9M165.5 565.4h0.9M178.9 565.7h0.9M182.1 569.2h0.9M183.1 571.4h0.9M172.4 569.4h0.9M180.8 568.2h0.9M172.4 568.8h0.9M177.4 569.4h0.9M175.4 565.5h0.9M165.9 566.9h0.9M188.8 567.8h0.9M176.2 564.8h0.9M178.5 567.4h0.9M177.4 566.4h0.9M168.8 564.5h0.9M171.8 564.3h0.9M168.6 568.0h0.9M176.1 565.6h0.9M175.0 570.5h0.9M167.7 569.1h0.9M179.5 573.6h0.9M188.8 567.6h0.9M180.6 568.5h0.9M181.6 569.6h0.9M178.1 563.6h0.9M177.7 564.8h0.9M172.0 570.4h0.9M176.0 558.6h0.9M183.0 562.7h0.9M167.5 564.0h0.9M184.7 563.1h0.9M178.4 568.9h0.9M171.0 572.1h0.9M173.0 571.5h0.9M190.6 560.5h0.9M167.5 565.2h0.9M182.7 572.1h0.9M176.9 568.5h0.9M181.5 564.2h0.9M171.6 567.5h0.9M185.4 564.9h0.9M180.6 564.8h0.9M167.7 567.4h0.9M177.2 567.3h0.9M170.5 565.4h0.9M182.5 562.7h0.9M171.5 563.6h0.9M176.5 571.0h0.9M173.3 565.0h0.9M173.4 567.2h0.9M172.5 564.2h0.9M178.2 571.6h0.9M177.5 565.0h0.9M185.3 567.2h0.9M178.9 566.6h0.9M179.1 563.1h0.9M175.7 566.5h0.9M174.3 567.5h0.9M173.8 563.1h0.9M176.6 565.4h0.9M182.9 566.7h0.9M175.0 567.2h0.9M190.0 570.3h0.9M178.8 570.3h0.9M174.3 562.2h0.9M166.0 568.7h0.9M178.4 565.3h0.9M169.1 569.6h0.9M172.8 563.4h0.9M181.1 567.4h0.9M167.2 571.7h0.9M171.9 565.4h0.9M170.6 566.0h0.9M186.5 566.0h0.9M181.1 564.9h0.9M184.4 570.9h0.9M181.8 572.3h0.9M177.6 561.0h0.9M167.0 565.1h0.9M181.6 567.4h0.9M177.8 567.7h0.9M173.5 566.8h0.9M171.9 567.1h0.9M180.8 572.0h0.9M185.9 566.6h0.9M172.7 565.8h0.9M182.1 568.3h0.9M176.2 569.1h0.9M182.7 571.0h0.9M165.2 574.4h0.9M171.2 571.2h0.9M168.1 570.9h0.9M176.2 571.9h0.9M175.4 567.5h0.9M172.5 566.6h0.9M177.0 565.0h0.9M184.3 568.1h0.9M167.4 564.8h0.9M175.5 566.1h0.9M186.5 563.9h0.9M176.0 566.7h0.9M174.8 569.0h0.9M180.1 565.4h0.9M172.2 568.2h0.9M175.6 565.5h0.9M164.6 568.1h0.9M172.8 568.6h0.9M171.5 566.8h0.9M174.2 561.6h0.9M176.2 568.0h0.9M175.3 567.3h0.9M186.1 561.0h0.9M168.9 565.0h0.9M170.4 565.5h0.9M166.6 566.0h0.9M179.4 564.9h0.9M180.6 569.6h0.9M181.8 567.8h0.9M180.4 558.5h0.9M180.6 565.2h0.9M180.6 571.2h0.9M175.5 563.9h0.9M180.3 563.1h0.9M176.2 566.8h0.9M183.7 561.8h0.9M177.4 572.7h0.9M174.8 572.8h0.9M182.6 562.1h0.9M179.8 568.1h0.9M171.1 566.3h0.9M163.1 572.2h0.9M179.5 566.1h0.9M182.0 571.5h0.9M175.2 566.8h0.9M180.3 566.5h0.9M188.5 570.2h0.9M177.5 565.8h0.9M191.3 566.8h0.9M184.7 561.0h0.9" stroke="#6a72c8" stroke-width="0.9" opacity="0.4" fill="none"/>
<rect x="89.20" y="595.20" width="53.50" height="53.60" fill="#fff" stroke="#c4c4c4" stroke-width="0.8" />
<line x1="89.60" y1="604.85" x2="90.80" y2="604.85" stroke="#888" stroke-width="0.7" />
<line x1="89.60" y1="616.64" x2="90.80" y2="616.64" stroke="#888" stroke-width="0.7" />
<line x1="89.60" y1="628.43" x2="90.80" y2="628.43" stroke="#888" stroke-width="0.7" />
<line x1="89.60" y1="638.08" x2="90.80" y2="638.08" stroke="#888" stroke-width="0.7" />
<circle cx="90.10" cy="642.37" r="0.8" fill="#333"/>
<rect x="93.48" y="648.20" width="10.70" height="1.6" fill="#444" opacity="0.8"/>
<circle cx="98.83" cy="649.00" r="1" fill="#222"/>
<line x1="109.53" y1="648.60" x2="109.53" y2="649.80" stroke="#888" stroke-width="0.7" />
<line x1="117.02" y1="648.60" x2="117.02" y2="649.80" stroke="#888" stroke-width="0.7" />
<line x1="123.44" y1="648.60" x2="123.44" y2="649.80" stroke="#888" stroke-width="0.7" />
<line x1="130.93" y1="648.60" x2="130.93" y2="649.80" stroke="#888" stroke-width="0.7" />
<line x1="137.35" y1="648.60" x2="137.35" y2="649.80" stroke="#888" stroke-width="0.7" />
<rect x="90.00" y="609.00" width="13.30" height="34.10" fill="none" stroke="#d2a0c6" stroke-width="0.75" />
<rect x="103.30" y="609.00" width="11.00" height="34.10" fill="none" stroke="#d2a0c6" stroke-width="0.75" />
<rect x="114.30" y="609.00" width="13.20" height="34.10" fill="none" stroke="#d2a0c6" stroke-width="0.75" />
<text x="95.80" y="607.90" font-size="5.6" text-anchor="middle" fill="#8c7088" >4</text>
<text x="109.10" y="607.90" font-size="5.6" text-anchor="middle" fill="#8c7088" >5</text>
<text x="120.00" y="607.90" font-size="5.6" text-anchor="middle" fill="#8c7088" >6</text>
<path d="M90.7 640.7h0.9M105.5 630.4h0.9M98.8 640.2h0.9M96.6 636.0h0.9M94.9 645.9h0.9M102.7 635.1h0.9M94.6 635.7h0.9M94.4 642.8h0.9M99.2 631.0h0.9M99.0 640.1h0.9M97.2 637.8h0.9M97.4 645.4h0.9M97.0 630.9h0.9M101.5 639.9h0.9M95.4 642.9h0.9M99.9 632.3h0.9M92.6 644.3h0.9M101.8 630.0h0.9M91.2 645.8h0.9M110.7 641.8h0.9M96.7 634.2h0.9M101.3 643.8h0.9M99.1 635.1h0.9M99.2 633.8h0.9M106.1 641.4h0.9M101.8 634.7h0.9M97.4 632.6h0.9M94.4 635.8h0.9M95.1 634.0h0.9M96.0 636.5h0.9M103.8 635.0h0.9M95.1 639.0h0.9M98.2 630.3h0.9M95.7 635.4h0.9M93.3 640.2h0.9M98.8 633.1h0.9M102.9 637.9h0.9M97.3 637.4h0.9M101.4 639.6h0.9M93.5 637.7h0.9M96.5 634.5h0.9M95.4 641.6h0.9M94.1 640.7h0.9M102.8 634.1h0.9M97.6 641.7h0.9M106.4 635.5h0.9M96.3 637.8h0.9M100.8 634.1h0.9M101.6 638.5h0.9M97.4 631.2h0.9M95.2 634.9h0.9M95.3 632.6h0.9M103.2 638.0h0.9M100.0 637.4h0.9M97.5 629.1h0.9M106.1 640.4h0.9M99.8 638.4h0.9M96.1 634.6h0.9M97.4 631.7h0.9M98.9 629.5h0.9M96.7 644.8h0.9M104.7 631.7h0.9M101.5 639.0h0.9M102.0 638.2h0.9M95.8 642.0h0.9M102.6 629.9h0.9M97.5 634.4h0.9M91.8 636.5h0.9M106.9 636.5h0.9M96.4 637.1h0.9M92.5 631.8h0.9M105.7 633.8h0.9M101.6 632.2h0.9M94.0 642.6h0.9M101.7 629.6h0.9M94.8 634.0h0.9M96.1 629.3h0.9M96.1 630.5h0.9M100.7 636.9h0.9M94.6 634.4h0.9M94.7 640.6h0.9M99.5 639.2h0.9M96.6 633.7h0.9M104.8 636.0h0.9M96.2 632.3h0.9M101.3 636.4h0.9M93.5 642.5h0.9M99.7 637.4h0.9M96.7 634.6h0.9M93.0 633.3h0.9M94.4 640.4h0.9M92.2 643.5h0.9M102.6 632.7h0.9M101.4 639.5h0.9M105.3 637.4h0.9M99.1 634.3h0.9M90.8 639.3h0.9M95.4 635.7h0.9M93.2 638.5h0.9M102.5 639.0h0.9M92.2 637.2h0.9M98.9 641.1h0.9M102.5 641.1h0.9M94.2 645.7h0.9M97.1 639.4h0.9M100.1 643.5h0.9M93.2 640.9h0.9M104.7 642.6h0.9M91.9 638.6h0.9M101.8 639.6h0.9M101.2 638.1h0.9M100.0 637.6h0.9M95.1 636.0h0.9M92.5 631.0h0.9M97.5 631.5h0.9M94.0 632.6h0.9" stroke="#7a88e4" stroke-width="0.9" opacity="0.4" fill="none"/>
<path d="M93.8 619.9h1.0M109.9 630.5h1.0M106.0 625.1h1.0M114.3 628.0h1.0M91.7 626.8h1.0M104.6 624.7h1.0M108.9 623.1h1.0M104.2 628.9h1.0M111.8 624.7h1.0M93.7 626.5h1.0M104.0 626.4h1.0M101.2 624.0h1.0M112.4 629.0h1.0M110.4 626.4h1.0M98.6 625.6h1.0M105.5 623.3h1.0M107.2 628.1h1.0M98.4 629.3h1.0M110.3 621.1h1.0M100.3 626.6h1.0M112.6 628.3h1.0M102.7 630.7h1.0M104.7 627.8h1.0M108.3 629.9h1.0M107.0 630.7h1.0M105.8 626.7h1.0M97.9 627.1h1.0M98.8 628.3h1.0M104.4 625.0h1.0M110.1 626.8h1.0M100.4 630.6h1.0M107.9 628.1h1.0M97.3 630.3h1.0M109.2 623.9h1.0M101.4 630.3h1.0M112.6 626.7h1.0M105.9 627.5h1.0M116.9 625.5h1.0M105.0 629.5h1.0M106.2 629.7h1.0M104.3 626.4h1.0M97.8 626.8h1.0M92.3 623.9h1.0M104.8 624.6h1.0M105.2 626.7h1.0M102.6 628.4h1.0M99.8 624.3h1.0M101.5 626.5h1.0M115.9 629.6h1.0M92.0 622.3h1.0M92.9 628.4h1.0M101.1 629.9h1.0M106.0 624.6h1.0M100.2 627.5h1.0M114.3 626.3h1.0M98.7 627.3h1.0M96.9 628.3h1.0M107.3 629.3h1.0M96.2 630.0h1.0M104.7 626.7h1.0M89.9 628.2h1.0M122.3 628.4h1.0M107.3 626.8h1.0M93.5 633.1h1.0M100.8 631.2h1.0M104.3 626.8h1.0M96.0 627.3h1.0M105.6 626.1h1.0M103.0 626.5h1.0M96.0 625.2h1.0M127.7 623.6h1.0M110.1 623.4h1.0M95.4 629.4h1.0M90.8 629.0h1.0M117.1 626.4h1.0M110.9 629.6h1.0M100.1 629.4h1.0M99.8 623.7h1.0M91.8 627.1h1.0M104.5 628.1h1.0M93.8 628.2h1.0M102.8 624.4h1.0M92.4 632.6h1.0M109.2 626.0h1.0M109.0 625.1h1.0M119.2 628.5h1.0M101.6 627.3h1.0M93.2 629.5h1.0M105.3 630.8h1.0M105.8 630.8h1.0M118.1 627.3h1.0M106.5 629.5h1.0M108.1 626.8h1.0M125.1 630.1h1.0M108.5 623.9h1.0M94.1 626.5h1.0M93.8 623.2h1.0M109.5 628.8h1.0M98.7 627.0h1.0M114.0 629.4h1.0M120.4 626.5h1.0M100.7 629.2h1.0M120.7 626.6h1.0M101.0 626.4h1.0M114.2 630.2h1.0M95.1 629.8h1.0M111.0 630.4h1.0M99.7 626.9h1.0M108.7 628.4h1.0M95.2 629.0h1.0M109.5 626.4h1.0M107.8 630.0h1.0M104.2 627.3h1.0M94.7 626.9h1.0M97.8 624.5h1.0M112.7 628.2h1.0M107.0 627.6h1.0M116.4 622.6h1.0M118.1 625.9h1.0M95.9 625.0h1.0M96.2 626.7h1.0M111.0 624.9h1.0M111.3 625.7h1.0M104.0 630.7h1.0M101.0 624.1h1.0M104.7 628.1h1.0M100.7 626.0h1.0M109.7 624.6h1.0M102.8 625.0h1.0M109.6 625.9h1.0M107.3 626.9h1.0M103.4 624.8h1.0M115.4 625.7h1.0M102.9 623.7h1.0M104.7 624.9h1.0M94.4 629.7h1.0M110.9 627.8h1.0M105.8 628.5h1.0M104.0 627.6h1.0M95.2 626.1h1.0M102.6 620.4h1.0M93.2 624.8h1.0M122.2 622.9h1.0M95.1 628.3h1.0M103.6 631.3h1.0M103.9 629.3h1.0M102.5 627.2h1.0M104.2 626.9h1.0M116.8 631.1h1.0M104.3 626.5h1.0M105.7 629.6h1.0M110.5 627.2h1.0M89.8 633.0h1.0M117.2 628.3h1.0M107.0 630.5h1.0M119.0 627.3h1.0M106.9 626.6h1.0M121.6 626.1h1.0M100.3 629.8h1.0M109.7 627.1h1.0M111.7 627.8h1.0M104.0 628.0h1.0M109.3 627.6h1.0M108.5 627.5h1.0M109.0 624.7h1.0M119.4 629.7h1.0M107.0 628.6h1.0M120.5 628.3h1.0M92.8 628.1h1.0M117.2 624.3h1.0M90.4 626.2h1.0M107.7 632.1h1.0M102.0 626.9h1.0M93.4 632.5h1.0M102.8 628.3h1.0M113.5 626.8h1.0M96.4 625.9h1.0M103.5 629.3h1.0M113.5 625.8h1.0M101.1 623.5h1.0M104.5 632.7h1.0M108.3 626.3h1.0M117.8 628.2h1.0M114.6 631.2h1.0M93.2 627.3h1.0M102.2 630.3h1.0M103.4 627.4h1.0M98.9 624.5h1.0M105.6 626.3h1.0M106.0 629.4h1.0M107.9 627.2h1.0M107.1 624.2h1.0M100.8 625.6h1.0M121.1 623.8h1.0M100.8 628.5h1.0M99.8 628.8h1.0M93.9 629.6h1.0M106.0 621.5h1.0M91.5 623.8h1.0M101.8 626.1h1.0M107.1 628.7h1.0M109.4 628.3h1.0M96.8 623.3h1.0M93.3 628.0h1.0M95.4 623.9h1.0M96.3 628.1h1.0M92.2 626.5h1.0M110.5 629.2h1.0M99.0 633.4h1.0M101.9 623.4h1.0M98.5 627.0h1.0M99.8 628.9h1.0M100.5 627.2h1.0M111.6 627.1h1.0M100.0 628.8h1.0M91.4 627.3h1.0M113.8 624.2h1.0M121.2 629.6h1.0M107.5 626.3h1.0M112.5 621.8h1.0M115.3 621.9h1.0M99.5 630.5h1.0M107.0 622.2h1.0M99.3 624.8h1.0M112.7 626.1h1.0M119.8 630.5h1.0M92.9 630.3h1.0M115.9 624.0h1.0M101.0 624.9h1.0M95.0 626.9h1.0M106.8 624.9h1.0M89.6 628.7h1.0M116.0 630.0h1.0M91.2 625.7h1.0M101.2 625.2h1.0M113.6 624.7h1.0M101.3 628.0h1.0M104.7 627.7h1.0M102.8 628.4h1.0M106.9 627.2h1.0M109.0 628.1h1.0M110.4 628.3h1.0M108.1 627.9h1.0M96.4 625.8h1.0M101.4 625.3h1.0M99.7 625.3h1.0M97.8 627.9h1.0M104.0 627.2h1.0M101.7 626.4h1.0M109.2 628.1h1.0M106.6 629.4h1.0M100.1 628.9h1.0M105.5 624.5h1.0M115.3 624.6h1.0M111.2 625.2h1.0M97.8 629.9h1.0M107.7 627.0h1.0M97.0 622.6h1.0M99.6 626.6h1.0M112.0 627.0h1.0M113.0 625.6h1.0M112.2 629.2h1.0M101.8 629.1h1.0M119.0 623.5h1.0M92.3 625.3h1.0M99.0 624.6h1.0M105.4 623.5h1.0M120.2 626.8h1.0M105.9 626.5h1.0M98.9 627.3h1.0M102.8 628.0h1.0M110.7 624.9h1.0M106.2 621.8h1.0M108.0 627.3h1.0M92.2 627.6h1.0M112.3 626.8h1.0M108.4 628.5h1.0M114.5 630.1h1.0M97.5 626.4h1.0M104.4 624.4h1.0M105.1 628.0h1.0M106.9 622.2h1.0" stroke="#3446e0" stroke-width="1.0" opacity="0.5" fill="none"/>
<ellipse cx="102" cy="626.8" rx="12.5" ry="3.8" fill="#3848e0" opacity="0.9" filter="url(#bl1_2)"/>
<ellipse cx="99.5" cy="626.7" rx="8.5" ry="2.8" fill="#3a8ef0" opacity="0.95" filter="url(#bl1_0)"/>
<ellipse cx="98.8" cy="626.6" rx="5.5" ry="1.9" fill="#3fd0c8" opacity="1" filter="url(#bl0_8)"/>
<ellipse cx="98.7" cy="626.6" rx="3.5" ry="1.3" fill="#8ad84a" opacity="1" filter="url(#bl0_6)"/>
<ellipse cx="120.6" cy="626.8" rx="7.2" ry="4.4" fill="#3848e0" opacity="0.95" filter="url(#bl1_2)"/>
<ellipse cx="120.6" cy="626.8" rx="5.6" ry="3.5" fill="#3fc0e0" opacity="1" filter="url(#bl1_0)"/>
<ellipse cx="120.6" cy="626.8" rx="4.3" ry="2.8" fill="#6ed24a" opacity="1" filter="url(#bl0_8)"/>
<ellipse cx="120.8" cy="626.7" rx="2.9" ry="1.9" fill="#e8e02a" opacity="1" filter="url(#bl0_6)"/>
<ellipse cx="121" cy="626.6" rx="1.6" ry="1.2" fill="#e04a1a" opacity="1" filter="url(#bl0_6)"/>
<rect x="147.40" y="594.60" width="53.80" height="53.60" fill="#fff" stroke="#c4c4c4" stroke-width="0.8" />
<line x1="147.80" y1="604.25" x2="149.00" y2="604.25" stroke="#888" stroke-width="0.7" />
<line x1="147.80" y1="616.04" x2="149.00" y2="616.04" stroke="#888" stroke-width="0.7" />
<line x1="147.80" y1="627.83" x2="149.00" y2="627.83" stroke="#888" stroke-width="0.7" />
<line x1="147.80" y1="637.48" x2="149.00" y2="637.48" stroke="#888" stroke-width="0.7" />
<circle cx="148.30" cy="641.77" r="0.8" fill="#333"/>
<rect x="151.70" y="647.60" width="10.76" height="1.6" fill="#444" opacity="0.8"/>
<circle cx="157.08" cy="648.40" r="1" fill="#222"/>
<line x1="167.84" y1="648.00" x2="167.84" y2="649.20" stroke="#888" stroke-width="0.7" />
<line x1="175.38" y1="648.00" x2="175.38" y2="649.20" stroke="#888" stroke-width="0.7" />
<line x1="181.83" y1="648.00" x2="181.83" y2="649.20" stroke="#888" stroke-width="0.7" />
<line x1="189.36" y1="648.00" x2="189.36" y2="649.20" stroke="#888" stroke-width="0.7" />
<line x1="195.82" y1="648.00" x2="195.82" y2="649.20" stroke="#888" stroke-width="0.7" />
<rect x="148.20" y="608.20" width="12.10" height="34.30" fill="none" stroke="#d2a0c6" stroke-width="0.75" />
<rect x="160.30" y="608.20" width="12.50" height="34.30" fill="none" stroke="#d2a0c6" stroke-width="0.75" />
<rect x="172.80" y="608.20" width="12.60" height="34.30" fill="none" stroke="#d2a0c6" stroke-width="0.75" />
<text x="154.00" y="607.50" font-size="5.6" text-anchor="middle" fill="#8c7088" >4</text>
<text x="166.60" y="607.50" font-size="5.6" text-anchor="middle" fill="#8c7088" >5</text>
<text x="178.80" y="607.50" font-size="5.6" text-anchor="middle" fill="#8c7088" >6</text>
<ellipse cx="152.5" cy="636" rx="4" ry="8" fill="#6a80e8" opacity="0.6" filter="url(#bl1_5)"/>
<path d="M152.8 635.9h1.0M154.7 640.4h1.0M149.9 635.5h1.0M153.0 639.8h1.0M155.7 635.1h1.0M151.9 627.1h1.0M153.0 631.8h1.0M152.6 641.9h1.0M152.3 632.1h1.0M153.7 634.6h1.0M152.8 640.9h1.0M153.2 638.4h1.0M152.4 636.6h1.0M149.7 632.2h1.0M155.4 642.4h1.0M149.5 639.3h1.0M155.0 632.1h1.0M154.5 638.8h1.0M155.8 644.6h1.0M152.6 637.9h1.0M150.1 637.4h1.0M152.6 635.0h1.0M152.9 640.3h1.0M155.1 639.8h1.0M157.5 629.0h1.0M152.1 635.6h1.0M151.5 633.8h1.0M148.7 634.4h1.0M155.9 633.9h1.0M152.5 638.1h1.0M152.5 631.3h1.0M151.2 641.8h1.0M150.7 630.0h1.0M157.8 636.7h1.0M149.5 627.4h1.0M150.5 629.6h1.0M152.2 640.6h1.0M154.7 634.2h1.0M154.3 633.9h1.0M150.3 631.3h1.0M155.3 636.3h1.0M155.0 640.7h1.0M154.7 635.5h1.0M158.2 631.1h1.0M155.2 645.2h1.0M152.1 633.1h1.0M154.9 641.4h1.0M154.1 632.9h1.0M153.0 628.9h1.0M155.6 641.6h1.0M152.1 639.0h1.0M151.8 636.3h1.0M153.0 635.0h1.0M160.7 634.6h1.0M155.4 631.7h1.0M153.3 635.9h1.0M150.3 640.1h1.0M154.7 642.5h1.0M153.8 631.1h1.0M154.9 637.5h1.0M152.2 636.6h1.0M155.5 630.3h1.0M155.7 637.5h1.0M150.3 638.3h1.0M151.3 635.6h1.0M150.5 638.4h1.0M154.9 644.5h1.0M148.5 632.4h1.0M150.9 633.8h1.0M152.2 639.1h1.0M150.8 632.9h1.0M156.1 642.8h1.0M157.7 646.0h1.0M150.5 642.6h1.0M154.6 635.6h1.0M154.3 632.9h1.0M149.5 634.8h1.0M152.8 631.1h1.0M150.5 626.4h1.0M149.4 635.7h1.0M150.8 636.7h1.0M150.8 633.6h1.0M151.9 640.4h1.0M150.4 630.3h1.0M153.3 633.9h1.0M152.4 639.1h1.0M154.3 639.9h1.0M153.1 626.6h1.0M153.9 643.4h1.0M153.7 641.1h1.0M153.9 638.6h1.0M154.3 628.7h1.0M154.3 638.7h1.0M151.8 633.7h1.0M149.7 637.7h1.0M153.5 639.6h1.0M152.3 642.2h1.0M150.6 641.5h1.0M150.4 643.0h1.0M155.3 631.2h1.0M154.1 631.2h1.0M157.6 641.4h1.0M152.9 637.9h1.0M152.5 633.8h1.0M149.5 635.7h1.0M155.4 637.8h1.0M155.8 641.1h1.0M154.1 631.6h1.0M149.9 634.2h1.0M152.8 642.7h1.0M158.7 636.9h1.0M155.3 637.8h1.0M150.1 640.7h1.0M152.5 639.2h1.0M155.3 635.0h1.0M152.6 640.4h1.0M156.7 642.9h1.0M153.0 633.4h1.0M155.3 632.9h1.0M149.2 632.1h1.0M152.5 632.5h1.0M150.3 641.0h1.0M149.4 630.1h1.0M152.8 639.3h1.0M151.2 631.3h1.0M159.4 634.1h1.0M160.1 632.5h1.0M156.3 630.1h1.0M157.2 638.9h1.0M153.4 633.4h1.0M157.1 642.9h1.0M152.9 637.4h1.0M150.9 639.6h1.0M151.9 639.0h1.0M155.6 637.2h1.0M157.2 632.6h1.0M156.1 637.1h1.0M153.1 638.7h1.0M156.6 627.7h1.0M153.0 636.0h1.0M155.0 636.5h1.0M151.6 637.7h1.0M155.2 633.1h1.0M153.3 635.9h1.0M151.2 636.5h1.0M158.4 634.1h1.0M154.5 639.1h1.0M156.2 634.8h1.0M149.4 640.0h1.0M155.6 639.5h1.0M153.1 635.4h1.0M151.4 640.8h1.0M151.4 635.5h1.0M154.2 635.1h1.0M153.0 633.7h1.0M155.8 640.5h1.0M153.7 636.9h1.0M155.2 638.7h1.0M153.3 638.6h1.0M153.2 631.1h1.0M151.3 639.2h1.0M151.5 631.5h1.0M152.1 633.6h1.0M153.1 642.2h1.0M158.5 636.4h1.0M154.1 631.5h1.0M154.7 638.9h1.0M151.0 639.8h1.0M151.1 637.1h1.0M153.5 636.7h1.0M153.7 638.6h1.0M151.1 637.4h1.0M154.7 641.2h1.0M150.4 634.4h1.0M151.5 630.1h1.0M154.0 645.6h1.0M151.1 634.8h1.0M151.6 636.0h1.0M150.4 645.8h1.0M149.9 639.7h1.0M155.5 637.1h1.0M156.8 628.1h1.0M153.8 635.7h1.0M153.4 632.6h1.0M150.0 632.5h1.0M152.8 639.2h1.0M158.1 635.1h1.0M151.6 631.4h1.0M154.7 627.2h1.0M149.2 645.4h1.0M151.3 638.7h1.0M156.4 630.3h1.0M153.1 642.0h1.0M155.1 643.2h1.0M159.7 646.3h1.0M154.7 633.3h1.0M155.1 633.1h1.0M152.8 636.1h1.0M151.2 641.7h1.0M152.3 632.7h1.0M152.7 636.2h1.0" stroke="#3a4ee0" stroke-width="1.0" opacity="0.5" fill="none"/>
<path d="M174.1 626.1h0.9M176.8 624.7h0.9M167.5 628.2h0.9M161.7 627.0h0.9M170.3 629.7h0.9M165.6 626.5h0.9M181.3 628.0h0.9M156.1 625.2h0.9M175.3 625.2h0.9M172.0 629.2h0.9M186.2 623.9h0.9M154.4 623.7h0.9M164.6 629.6h0.9M170.9 630.6h0.9M170.4 621.6h0.9M172.2 624.0h0.9M171.5 620.7h0.9M175.6 622.7h0.9M165.0 629.2h0.9M166.5 623.2h0.9M181.8 625.1h0.9M177.4 625.9h0.9M152.5 625.6h0.9M172.1 625.7h0.9M183.5 620.4h0.9M162.1 628.4h0.9M178.7 629.2h0.9M160.1 627.4h0.9M173.2 632.4h0.9M187.9 627.9h0.9M174.4 628.8h0.9M167.7 627.2h0.9M172.0 626.7h0.9M174.7 626.3h0.9M163.6 630.1h0.9M177.0 623.7h0.9M174.0 623.3h0.9M171.5 623.8h0.9M163.2 627.7h0.9M160.5 628.8h0.9M183.0 625.4h0.9M161.9 627.6h0.9M166.6 621.1h0.9M188.0 624.6h0.9M185.1 629.3h0.9M174.7 627.6h0.9M165.8 628.4h0.9M163.3 627.6h0.9M160.9 626.4h0.9M171.9 626.5h0.9M171.4 628.0h0.9M184.1 624.5h0.9M170.5 626.3h0.9M175.0 631.7h0.9M171.3 623.1h0.9M175.2 623.9h0.9M155.1 622.6h0.9M168.6 621.5h0.9M165.2 627.8h0.9M186.4 625.7h0.9M167.7 625.4h0.9M155.1 625.7h0.9M159.0 623.2h0.9M162.0 622.6h0.9M148.9 630.3h0.9M158.8 629.3h0.9M175.2 625.2h0.9M168.9 626.4h0.9M173.0 627.6h0.9M166.0 626.1h0.9M177.6 623.4h0.9M153.6 619.0h0.9M165.3 629.5h0.9M187.0 624.2h0.9M169.9 623.3h0.9M169.4 625.6h0.9M176.5 628.9h0.9M172.3 626.5h0.9M176.2 625.5h0.9M179.9 631.2h0.9M176.0 632.0h0.9M162.9 627.9h0.9M170.8 623.7h0.9M171.4 625.7h0.9M172.7 626.7h0.9M174.7 625.1h0.9M168.5 629.3h0.9M180.0 626.8h0.9M153.0 629.3h0.9M174.1 622.6h0.9M150.9 620.8h0.9M154.3 632.3h0.9M164.5 625.7h0.9M175.1 631.3h0.9M169.9 626.0h0.9M177.7 630.7h0.9M170.8 624.3h0.9M159.0 629.2h0.9M159.9 624.3h0.9M149.3 622.0h0.9M173.9 624.2h0.9M175.3 625.7h0.9M163.6 629.4h0.9M169.6 625.1h0.9M181.9 622.9h0.9M158.4 626.3h0.9M168.2 619.8h0.9M165.7 625.3h0.9M160.6 626.9h0.9M149.4 627.7h0.9M177.5 633.9h0.9M156.8 629.5h0.9M161.2 620.6h0.9M168.2 623.4h0.9M163.1 623.3h0.9M172.5 625.6h0.9M172.0 627.0h0.9M172.2 626.3h0.9M157.6 628.5h0.9M164.9 626.4h0.9M169.6 626.6h0.9M162.4 624.1h0.9M160.1 625.1h0.9M174.7 623.1h0.9M170.7 632.1h0.9M155.7 626.4h0.9M171.1 625.4h0.9M163.4 628.7h0.9M167.3 627.0h0.9M158.4 630.4h0.9M185.6 625.2h0.9M172.1 624.3h0.9M179.2 627.7h0.9M170.4 625.8h0.9M159.7 627.0h0.9M171.5 619.9h0.9M169.3 619.8h0.9M182.0 626.6h0.9M172.7 623.5h0.9M184.6 627.5h0.9M169.3 625.6h0.9M160.9 624.9h0.9M165.5 622.1h0.9M178.1 620.8h0.9M172.0 630.5h0.9M170.6 627.4h0.9M164.6 622.6h0.9M183.9 621.2h0.9M172.1 622.4h0.9M173.2 628.4h0.9M178.7 626.2h0.9M168.7 625.1h0.9M168.6 625.9h0.9M175.7 625.5h0.9M166.6 634.0h0.9M158.0 626.6h0.9M181.1 626.9h0.9M177.8 628.5h0.9M155.4 629.4h0.9M165.5 621.0h0.9M172.7 622.7h0.9M166.8 627.2h0.9M155.3 628.9h0.9M175.2 626.6h0.9M176.5 625.9h0.9M181.8 624.7h0.9M170.2 628.6h0.9M172.6 620.9h0.9M165.7 630.1h0.9M163.8 621.1h0.9M172.3 622.8h0.9M179.6 624.0h0.9M158.8 623.7h0.9M170.9 626.4h0.9M176.4 623.3h0.9M163.9 627.4h0.9M172.6 629.0h0.9M155.1 626.7h0.9M172.0 627.9h0.9M165.6 626.9h0.9M153.1 622.6h0.9M178.3 623.1h0.9M171.1 633.6h0.9M153.9 622.6h0.9M169.4 627.1h0.9M169.5 626.6h0.9M157.5 625.0h0.9M176.9 622.4h0.9M166.4 626.0h0.9M176.2 623.8h0.9M179.9 627.1h0.9M170.6 625.3h0.9M162.5 622.0h0.9M174.9 626.0h0.9M175.5 628.7h0.9M160.5 626.5h0.9M162.3 619.7h0.9M176.8 626.4h0.9M169.0 630.2h0.9M158.2 630.0h0.9M163.8 627.3h0.9M168.9 623.2h0.9M155.5 629.7h0.9M164.5 627.4h0.9M164.1 626.9h0.9M166.5 625.8h0.9M175.5 631.7h0.9M159.5 624.1h0.9M171.6 624.9h0.9M167.5 628.7h0.9M168.2 622.5h0.9M175.9 626.7h0.9M172.2 626.6h0.9M151.9 630.3h0.9M161.7 630.0h0.9M157.5 626.4h0.9M170.7 624.1h0.9M172.1 627.9h0.9M163.5 628.3h0.9M169.0 628.3h0.9M161.2 624.0h0.9M164.1 624.4h0.9M164.8 627.9h0.9M171.4 623.5h0.9M166.5 627.7h0.9M161.4 624.9h0.9M164.2 622.8h0.9M159.1 623.5h0.9M174.1 624.8h0.9M171.5 624.2h0.9M155.1 624.2h0.9M175.6 626.4h0.9M163.6 627.1h0.9M168.0 624.3h0.9M162.8 627.1h0.9M164.4 620.8h0.9M170.8 621.9h0.9M152.6 621.3h0.9M149.1 630.3h0.9M165.7 629.5h0.9M170.9 625.0h0.9M154.5 627.9h0.9M166.2 625.6h0.9M156.0 630.6h0.9M160.6 627.2h0.9M168.1 631.8h0.9M182.6 627.7h0.9M165.9 629.9h0.9M175.9 620.5h0.9M168.7 623.9h0.9M179.6 631.5h0.9M161.2 624.9h0.9M160.7 628.0h0.9" stroke="#4658e0" stroke-width="0.9" opacity="0.45" fill="none"/>
<ellipse cx="164" cy="625.5" rx="16" ry="5.5" fill="#5068e8" opacity="0.75" filter="url(#bl1_4)"/>
<ellipse cx="161" cy="624.8" rx="11" ry="4.0" fill="#3a7ef0" opacity="0.85" filter="url(#bl1_1)"/>
<ellipse cx="159.5" cy="624.3" rx="9" ry="3.2" fill="#3fc8c8" opacity="0.95" filter="url(#bl0_9)"/>
<ellipse cx="159.3" cy="624.1" rx="7" ry="2.5" fill="#76d44a" opacity="1" filter="url(#bl0_7)"/>
<ellipse cx="159.0" cy="624.0" rx="4" ry="1.5" fill="#c8d838" opacity="1" filter="url(#bl0_6)"/>
<line x1="235.10" y1="559.38" x2="235.10" y2="635.10" stroke="#161616" stroke-width="1.4" />
<line x1="231.90" y1="562.88" x2="235.10" y2="562.88" stroke="#161616" stroke-width="1.4" />
<text x="229.40" y="565.58" font-size="7.5" text-anchor="end" fill="#222222" textLength="4.59" lengthAdjust="spacingAndGlyphs" stroke="#222222" stroke-width="0.3" >4</text>
<line x1="231.90" y1="580.76" x2="235.10" y2="580.76" stroke="#161616" stroke-width="1.4" />
<text x="229.40" y="583.46" font-size="7.5" text-anchor="end" fill="#222222" textLength="4.59" lengthAdjust="spacingAndGlyphs" stroke="#222222" stroke-width="0.3" >3</text>
<line x1="231.90" y1="598.64" x2="235.10" y2="598.64" stroke="#161616" stroke-width="1.4" />
<text x="229.40" y="601.34" font-size="7.5" text-anchor="end" fill="#222222" textLength="4.59" lengthAdjust="spacingAndGlyphs" stroke="#222222" stroke-width="0.3" >2</text>
<line x1="231.90" y1="616.52" x2="235.10" y2="616.52" stroke="#161616" stroke-width="1.4" />
<text x="229.40" y="619.22" font-size="7.5" text-anchor="end" fill="#222222" textLength="4.59" lengthAdjust="spacingAndGlyphs" stroke="#222222" stroke-width="0.3" >1</text>
<line x1="231.90" y1="634.40" x2="235.10" y2="634.40" stroke="#161616" stroke-width="1.4" />
<text x="229.40" y="637.10" font-size="7.5" text-anchor="end" fill="#222222" textLength="4.59" lengthAdjust="spacingAndGlyphs" stroke="#222222" stroke-width="0.3" >0</text>
<line x1="234.40" y1="634.40" x2="352.70" y2="634.40" stroke="#161616" stroke-width="1.4" />
<line x1="250.00" y1="634.40" x2="250.00" y2="636.60" stroke="#161616" stroke-width="1.26" />
<line x1="279.60" y1="634.40" x2="279.60" y2="636.60" stroke="#161616" stroke-width="1.26" />
<line x1="308.60" y1="634.40" x2="308.60" y2="636.60" stroke="#161616" stroke-width="1.26" />
<line x1="338.50" y1="634.40" x2="338.50" y2="636.60" stroke="#161616" stroke-width="1.26" />
<text x="294.00" y="548.50" font-size="8.5" text-anchor="middle" fill="#222222" textLength="123.00" lengthAdjust="spacingAndGlyphs" stroke="#222222" stroke-width="0.3" >Myeloblast to Promyelocyte</text>
<text x="220.90" y="596.90" font-size="9.8" text-anchor="middle" fill="#222222" textLength="58.00" lengthAdjust="spacingAndGlyphs" transform="rotate(-90 220.90 596.90)" stroke="#222222" stroke-width="0.3" >Percentage WBM</text>
<g fill="#1d2b45" stroke="#080e1a" stroke-width="0.9"><rect x="241.85" y="599.85" width="4.50" height="4.50"/><rect x="242.02" y="603.52" width="4.50" height="4.50"/><rect x="241.98" y="607.18" width="4.50" height="4.50"/><rect x="241.85" y="610.85" width="4.50" height="4.50"/><line x1="244.10" y1="600.60" x2="244.10" y2="614.60" stroke-width="0.9" stroke-opacity="0.8"/></g>
<g fill="#7c0f2c" stroke="#240208" stroke-width="0.9"><rect x="253.65" y="568.35" width="4.50" height="4.50"/><rect x="253.62" y="571.62" width="4.50" height="4.50"/><rect x="253.77" y="574.89" width="4.50" height="4.50"/><rect x="253.80" y="578.16" width="4.50" height="4.50"/><rect x="253.54" y="581.43" width="4.50" height="4.50"/><rect x="253.50" y="584.70" width="4.50" height="4.50"/><rect x="253.66" y="587.97" width="4.50" height="4.50"/><rect x="253.43" y="591.24" width="4.50" height="4.50"/><rect x="253.76" y="594.51" width="4.50" height="4.50"/><rect x="253.57" y="597.78" width="4.50" height="4.50"/><rect x="253.65" y="601.05" width="4.50" height="4.50"/><line x1="255.90" y1="569.10" x2="255.90" y2="604.80" stroke-width="0.9" stroke-opacity="0.8"/></g>
<line x1="252.40" y1="580.30" x2="259.40" y2="580.30" stroke="#0d0d0d" stroke-width="1.25" />
<line x1="252.40" y1="589.90" x2="259.40" y2="589.90" stroke="#0d0d0d" stroke-width="1.25" />
<line x1="240.40" y1="563.20" x2="255.90" y2="563.20" stroke="#2a2a2a" stroke-width="1.2" />
<line x1="240.40" y1="560.40" x2="240.40" y2="566.00" stroke="#1a1a1a" stroke-width="1.2" />
<line x1="255.90" y1="560.40" x2="255.90" y2="566.00" stroke="#1a1a1a" stroke-width="1.2" />
<circle cx="244.45" cy="556.80" r="1.15" fill="#1a1a1a"/>
<circle cx="248.15" cy="556.80" r="1.15" fill="#1a1a1a"/>
<circle cx="251.85" cy="556.80" r="1.15" fill="#1a1a1a"/>
<g fill="#1d2b45" stroke="#080e1a" stroke-width="0.9"><rect x="271.75" y="621.15" width="4.50" height="4.50"/><rect x="271.71" y="624.05" width="4.50" height="4.50"/><rect x="271.75" y="626.95" width="4.50" height="4.50"/><line x1="274.00" y1="621.90" x2="274.00" y2="630.70" stroke-width="0.9" stroke-opacity="0.8"/></g>
<g fill="#7c0f2c" stroke="#240208" stroke-width="0.9"><rect x="283.05" y="603.85" width="4.50" height="4.50"/><rect x="283.24" y="607.21" width="4.50" height="4.50"/><rect x="282.91" y="610.56" width="4.50" height="4.50"/><rect x="282.86" y="613.92" width="4.50" height="4.50"/><rect x="283.24" y="617.28" width="4.50" height="4.50"/><rect x="282.81" y="620.64" width="4.50" height="4.50"/><rect x="283.26" y="623.99" width="4.50" height="4.50"/><rect x="283.05" y="627.35" width="4.50" height="4.50"/><line x1="285.30" y1="604.60" x2="285.30" y2="631.10" stroke-width="0.9" stroke-opacity="0.8"/></g>
<line x1="271.30" y1="598.80" x2="286.90" y2="598.80" stroke="#2a2a2a" stroke-width="1.2" />
<line x1="271.30" y1="596.00" x2="271.30" y2="601.60" stroke="#1a1a1a" stroke-width="1.2" />
<line x1="286.90" y1="596.00" x2="286.90" y2="601.60" stroke="#1a1a1a" stroke-width="1.2" />
<circle cx="279.10" cy="592.40" r="1.15" fill="#1a1a1a"/>
<g fill="#1d2b45" stroke="#080e1a" stroke-width="0.9"><rect x="300.75" y="629.75" width="4.50" height="5.20"/></g>
<g fill="#7c0f2c" stroke="#240208" stroke-width="0.9"><rect x="312.35" y="614.15" width="4.50" height="4.40"/></g>
<g fill="#7c0f2c" stroke="#240208" stroke-width="0.9"><rect x="312.35" y="623.75" width="4.50" height="4.50"/><rect x="312.39" y="626.65" width="4.50" height="4.50"/><rect x="312.35" y="629.55" width="4.50" height="4.50"/><line x1="314.60" y1="624.50" x2="314.60" y2="633.30" stroke-width="0.9" stroke-opacity="0.8"/></g>
<line x1="299.60" y1="606.70" x2="314.80" y2="606.70" stroke="#2a2a2a" stroke-width="1.2" />
<line x1="299.60" y1="603.90" x2="299.60" y2="609.50" stroke="#1a1a1a" stroke-width="1.2" />
<line x1="314.80" y1="603.90" x2="314.80" y2="609.50" stroke="#1a1a1a" stroke-width="1.2" />
<circle cx="307.20" cy="600.20" r="1.15" fill="#1a1a1a"/>
<g fill="#1d2b45" stroke="#080e1a" stroke-width="0.9"><rect x="334.85" y="609.05" width="4.50" height="4.50"/><rect x="334.63" y="612.25" width="4.50" height="4.50"/><rect x="334.99" y="615.45" width="4.50" height="4.50"/><rect x="334.85" y="618.65" width="4.50" height="4.50"/><line x1="337.10" y1="609.80" x2="337.10" y2="622.40" stroke-width="0.9" stroke-opacity="0.8"/></g>
<g fill="#7c0f2c" stroke="#240208" stroke-width="0.9"><rect x="342.35" y="599.85" width="4.50" height="4.50"/><rect x="342.23" y="603.68" width="4.50" height="4.50"/><rect x="342.28" y="607.52" width="4.50" height="4.50"/><rect x="342.35" y="611.35" width="4.50" height="4.50"/><line x1="344.60" y1="600.60" x2="344.60" y2="615.10" stroke-width="0.9" stroke-opacity="0.8"/></g>
<line x1="342.60" y1="620.30" x2="346.60" y2="620.30" stroke="#0d0d0d" stroke-width="1.0" />
<line x1="344.60" y1="620.30" x2="344.60" y2="616.30" stroke="#0d0d0d" stroke-width="1.0" />
<g fill="#7c0f2c" stroke="#240208" stroke-width="0.9"><rect x="342.35" y="623.75" width="4.50" height="4.50"/><rect x="342.35" y="624.85" width="4.50" height="4.50"/></g>
<text x="250.50" y="648.40" font-size="7.6" text-anchor="middle" fill="#222222" textLength="42.50" lengthAdjust="spacingAndGlyphs" stroke="#222222" stroke-width="0.3" >CD34<tspan font-size="4.7" dy="-2.7">+</tspan><tspan dy="2.7">cKit</tspan><tspan font-size="4.7" dy="-2.7">+</tspan></text>
<text x="279.30" y="648.40" font-size="7.6" text-anchor="middle" fill="#222222" stroke="#222222" stroke-width="0.3" >1</text>
<text x="308.40" y="648.40" font-size="7.6" text-anchor="middle" fill="#222222" stroke="#222222" stroke-width="0.3" >2</text>
<text x="338.80" y="648.40" font-size="7.6" text-anchor="middle" fill="#222222" stroke="#222222" stroke-width="0.3" >3</text>
<line x1="394.50" y1="558.40" x2="394.50" y2="634.90" stroke="#161616" stroke-width="1.4" />
<line x1="391.30" y1="561.90" x2="394.50" y2="561.90" stroke="#161616" stroke-width="1.4" />
<text x="390.80" y="564.60" font-size="7.5" text-anchor="end" fill="#222222" textLength="9.59" lengthAdjust="spacingAndGlyphs" stroke="#222222" stroke-width="0.3" >30</text>
<line x1="391.30" y1="586.00" x2="394.50" y2="586.00" stroke="#161616" stroke-width="1.4" />
<text x="390.80" y="588.70" font-size="7.5" text-anchor="end" fill="#222222" textLength="9.59" lengthAdjust="spacingAndGlyphs" stroke="#222222" stroke-width="0.3" >20</text>
<line x1="391.30" y1="610.10" x2="394.50" y2="610.10" stroke="#161616" stroke-width="1.4" />
<text x="390.80" y="612.80" font-size="7.5" text-anchor="end" fill="#222222" textLength="9.59" lengthAdjust="spacingAndGlyphs" stroke="#222222" stroke-width="0.3" >10</text>
<line x1="391.30" y1="634.20" x2="394.50" y2="634.20" stroke="#161616" stroke-width="1.4" />
<text x="390.80" y="636.90" font-size="7.5" text-anchor="end" fill="#222222" textLength="4.80" lengthAdjust="spacingAndGlyphs" stroke="#222222" stroke-width="0.3" >0</text>
<line x1="393.80" y1="634.20" x2="507.70" y2="634.20" stroke="#161616" stroke-width="1.4" />
<line x1="409.50" y1="634.20" x2="409.50" y2="636.40" stroke="#161616" stroke-width="1.26" />
<line x1="438.80" y1="634.20" x2="438.80" y2="636.40" stroke="#161616" stroke-width="1.26" />
<line x1="468.00" y1="634.20" x2="468.00" y2="636.40" stroke="#161616" stroke-width="1.26" />
<line x1="497.40" y1="634.20" x2="497.40" y2="636.40" stroke="#161616" stroke-width="1.26" />
<text x="453.80" y="548.40" font-size="8.5" text-anchor="middle" fill="#222222" textLength="92.00" lengthAdjust="spacingAndGlyphs" stroke="#222222" stroke-width="0.3" >Myelocyte to Mature</text>
<text x="376.80" y="595.80" font-size="9.8" text-anchor="middle" fill="#222222" textLength="58.50" lengthAdjust="spacingAndGlyphs" transform="rotate(-90 376.80 595.80)" stroke="#222222" stroke-width="0.3" >Percentage WBM</text>
<rect x="459.43" y="558.62" width="5.45" height="5.45" fill="#3a5485" stroke="#141c34" stroke-width="1.25" />
<text x="468.90" y="563.40" font-size="7.3" text-anchor="start" fill="#222222" textLength="12.26" lengthAdjust="spacingAndGlyphs" stroke="#222222" stroke-width="0.3" >KM</text>
<rect x="459.43" y="570.73" width="5.45" height="5.45" fill="#a8163c" stroke="#3a0512" stroke-width="1.25" />
<text x="468.90" y="575.60" font-size="7.3" text-anchor="start" fill="#222222" textLength="27.40" lengthAdjust="spacingAndGlyphs" stroke="#222222" stroke-width="0.3" >KMUKO</text>
<g fill="#1d2b45" stroke="#080e1a" stroke-width="0.9"><rect x="401.25" y="576.65" width="4.50" height="4.50"/><rect x="401.45" y="579.72" width="4.50" height="4.50"/><rect x="401.04" y="582.78" width="4.50" height="4.50"/><rect x="401.25" y="585.85" width="4.50" height="4.50"/><line x1="403.50" y1="577.40" x2="403.50" y2="589.60" stroke-width="0.9" stroke-opacity="0.8"/></g>
<g fill="#7c0f2c" stroke="#240208" stroke-width="0.9"><rect x="412.95" y="568.65" width="4.50" height="4.50"/><rect x="412.95" y="573.35" width="4.50" height="4.50"/><line x1="415.20" y1="569.40" x2="415.20" y2="577.10" stroke-width="0.9" stroke-opacity="0.8"/></g>
<g fill="#7c0f2c" stroke="#240208" stroke-width="0.9"><rect x="412.95" y="579.75" width="4.50" height="4.50"/><rect x="412.87" y="583.45" width="4.50" height="4.50"/><rect x="413.16" y="587.15" width="4.50" height="4.50"/><rect x="412.94" y="590.85" width="4.50" height="4.50"/><rect x="412.95" y="594.55" width="4.50" height="4.50"/><line x1="415.20" y1="580.50" x2="415.20" y2="598.30" stroke-width="0.9" stroke-opacity="0.8"/></g>
<line x1="411.70" y1="578.70" x2="418.70" y2="578.70" stroke="#0d0d0d" stroke-width="1.25" />
<g fill="#1d2b45" stroke="#080e1a" stroke-width="0.9"><rect x="430.65" y="608.65" width="4.50" height="4.50"/><rect x="430.69" y="611.68" width="4.50" height="4.50"/><rect x="430.42" y="614.70" width="4.50" height="4.50"/><rect x="430.90" y="617.73" width="4.50" height="4.50"/><rect x="430.65" y="620.75" width="4.50" height="4.50"/><line x1="432.90" y1="609.40" x2="432.90" y2="624.50" stroke-width="0.9" stroke-opacity="0.8"/></g>
<g fill="#7c0f2c" stroke="#240208" stroke-width="0.9"><rect x="442.55" y="602.75" width="4.50" height="4.50"/><rect x="442.62" y="606.48" width="4.50" height="4.50"/><rect x="442.73" y="610.22" width="4.50" height="4.50"/><rect x="442.55" y="613.95" width="4.50" height="4.50"/><line x1="444.80" y1="603.50" x2="444.80" y2="617.70" stroke-width="0.9" stroke-opacity="0.8"/></g>
<line x1="428.80" y1="596.10" x2="444.30" y2="596.10" stroke="#2a2a2a" stroke-width="1.2" />
<line x1="428.80" y1="593.30" x2="428.80" y2="598.90" stroke="#1a1a1a" stroke-width="1.2" />
<line x1="444.30" y1="593.30" x2="444.30" y2="598.90" stroke="#1a1a1a" stroke-width="1.2" />
<circle cx="436.55" cy="589.10" r="1.15" fill="#1a1a1a"/>
<g fill="#1d2b45" stroke="#080e1a" stroke-width="0.9"><rect x="460.05" y="619.65" width="4.50" height="4.50"/><rect x="459.86" y="622.20" width="4.50" height="4.50"/><rect x="460.05" y="624.75" width="4.50" height="4.50"/><line x1="462.30" y1="620.40" x2="462.30" y2="628.50" stroke-width="0.9" stroke-opacity="0.8"/></g>
<g fill="#7c0f2c" stroke="#240208" stroke-width="0.9"><rect x="471.55" y="604.55" width="4.50" height="4.50"/><rect x="471.37" y="608.05" width="4.50" height="4.50"/><rect x="471.43" y="611.55" width="4.50" height="4.50"/><rect x="471.69" y="615.05" width="4.50" height="4.50"/><rect x="471.55" y="618.55" width="4.50" height="4.50"/><line x1="473.80" y1="605.30" x2="473.80" y2="622.30" stroke-width="0.9" stroke-opacity="0.8"/></g>
<line x1="457.50" y1="597.40" x2="473.00" y2="597.40" stroke="#2a2a2a" stroke-width="1.2" />
<line x1="457.50" y1="594.60" x2="457.50" y2="600.20" stroke="#1a1a1a" stroke-width="1.2" />
<line x1="473.00" y1="594.60" x2="473.00" y2="600.20" stroke="#1a1a1a" stroke-width="1.2" />
<circle cx="461.55" cy="590.60" r="1.15" fill="#1a1a1a"/>
<circle cx="465.25" cy="590.60" r="1.15" fill="#1a1a1a"/>
<circle cx="468.95" cy="590.60" r="1.15" fill="#1a1a1a"/>
<g fill="#1d2b45" stroke="#080e1a" stroke-width="0.9"><rect x="489.45" y="603.95" width="4.50" height="4.50"/><rect x="489.23" y="607.58" width="4.50" height="4.50"/><rect x="489.67" y="611.22" width="4.50" height="4.50"/><rect x="489.45" y="614.85" width="4.50" height="4.50"/><line x1="491.70" y1="604.70" x2="491.70" y2="618.60" stroke-width="0.9" stroke-opacity="0.8"/></g>
<g fill="#7c0f2c" stroke="#240208" stroke-width="0.9"><rect x="500.85" y="621.45" width="4.50" height="4.50"/><rect x="501.04" y="625.35" width="4.50" height="4.50"/><rect x="500.85" y="629.25" width="4.50" height="4.50"/><line x1="503.10" y1="622.20" x2="503.10" y2="633.00" stroke-width="0.9" stroke-opacity="0.8"/></g>
<line x1="491.30" y1="598.30" x2="507.40" y2="598.30" stroke="#2a2a2a" stroke-width="1.2" />
<line x1="491.30" y1="595.50" x2="491.30" y2="601.10" stroke="#1a1a1a" stroke-width="1.2" />
<line x1="507.40" y1="595.50" x2="507.40" y2="601.10" stroke="#1a1a1a" stroke-width="1.2" />
<circle cx="495.65" cy="592.30" r="1.15" fill="#1a1a1a"/>
<circle cx="499.35" cy="592.30" r="1.15" fill="#1a1a1a"/>
<circle cx="503.05" cy="592.30" r="1.15" fill="#1a1a1a"/>
<text x="409.70" y="647.80" font-size="7.6" text-anchor="middle" fill="#222222" textLength="39.00" lengthAdjust="spacingAndGlyphs" stroke="#222222" stroke-width="0.3" >CD34<tspan font-size="4.7" dy="-2.7">-</tspan><tspan dy="2.7">cKit</tspan><tspan font-size="4.7" dy="-2.7">-</tspan></text>
<text x="439.10" y="647.80" font-size="7.6" text-anchor="middle" fill="#222222" stroke="#222222" stroke-width="0.3" >4</text>
<text x="468.30" y="647.80" font-size="7.6" text-anchor="middle" fill="#222222" stroke="#222222" stroke-width="0.3" >5</text>
<text x="497.50" y="647.80" font-size="7.6" text-anchor="middle" fill="#222222" stroke="#222222" stroke-width="0.3" >6</text>
</svg>
</body></html>
